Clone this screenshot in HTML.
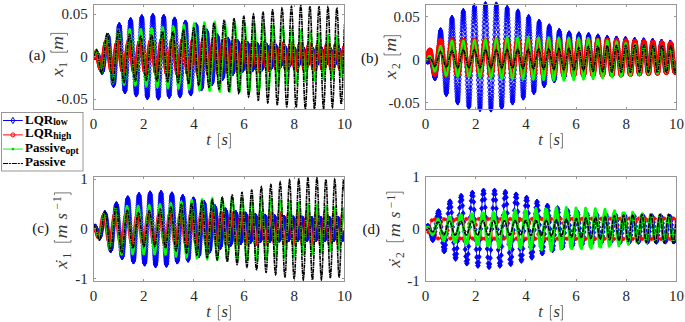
<!DOCTYPE html>
<html><head><meta charset="utf-8"><style>
html,body{margin:0;padding:0;background:#fff;width:685px;height:322px;overflow:hidden}
svg{display:block}
text{font-family:"Liberation Serif",serif}
.tk{font-size:15px;fill:#262626}
.xl{font-size:16.5px;fill:#333}
.pl{font-size:15px;fill:#111}
.yl{fill:#3a3a3a}
.br{fill:none;stroke:#666;stroke-width:0.9}
.dt{fill:#444}
.lg{font-size:13px;font-weight:bold;fill:#000}
</style></head><body>
<svg width="685" height="322" viewBox="0 0 685 322">
<defs>
<marker id="dia" markerUnits="userSpaceOnUse" markerWidth="8" markerHeight="10" refX="4" refY="5" overflow="visible"><path d="M4 1.9L5.7 5L4 8.1L2.3 5Z" fill="none" stroke="#0000ff" stroke-width="0.9"/></marker>
<marker id="diaf" markerUnits="userSpaceOnUse" markerWidth="8" markerHeight="10" refX="4" refY="5" overflow="visible"><path d="M4 2.4L6 5L4 7.6L2 5Z" fill="#0000ff" stroke="#0000ff" stroke-width="0.9"/></marker>
<marker id="cir" markerUnits="userSpaceOnUse" markerWidth="8" markerHeight="8" refX="4" refY="4" overflow="visible"><circle cx="4" cy="4" r="1.9" fill="none" stroke="#ff0000" stroke-width="1"/></marker>
<marker id="cirf" markerUnits="userSpaceOnUse" markerWidth="8" markerHeight="8" refX="4" refY="4" overflow="visible"><circle cx="4" cy="4" r="1.8" fill="#ff0000" stroke="#ff0000" stroke-width="0.6"/></marker>
<marker id="cirs" markerUnits="userSpaceOnUse" markerWidth="8" markerHeight="8" refX="4" refY="4" overflow="visible"><circle cx="4" cy="4" r="1.5" fill="none" stroke="#ff0000" stroke-width="0.8"/></marker>
</defs>
<rect width="685" height="322" fill="#fff"/>
<clipPath id="ka"><rect x="93.5" y="4.5" width="251.0" height="105.0"/></clipPath>
<clipPath id="kab"><rect x="94.0" y="-1.5" width="250.5" height="117.0"/></clipPath>
<polyline clip-path="url(#kab)" points="93.5,56.9 93.7,56.9 93.9,56.9 94.0,56.9 94.2,56.9 94.4,56.9 94.6,56.9 94.7,56.9 94.9,56.9 95.1,56.9 95.3,56.6 95.4,56.2 95.6,55.9 95.8,55.5 96.0,55.1 96.1,54.7 96.3,54.4 96.5,54.1 96.7,53.9 96.8,53.7 97.0,53.7 97.2,53.7 97.4,53.8 97.5,53.9 97.7,54.2 97.9,54.5 98.1,54.9 98.2,55.3 98.4,55.9 98.6,56.5 98.8,57.2 98.9,57.9 99.1,58.7 99.3,59.6 99.5,60.5 99.6,61.5 99.8,62.4 100.0,63.4 100.2,64.4 100.4,65.4 100.5,66.3 100.7,67.2 100.9,68.1 101.1,68.9 101.2,69.7 101.4,70.3 101.6,70.9 101.8,71.2 101.9,71.3 102.1,71.4 102.3,71.3 102.5,71.2 102.6,70.8 102.8,70.4 103.0,69.8 103.2,69.1 103.3,68.3 103.5,67.3 103.7,66.2 103.9,65.0 104.0,63.7 104.2,62.4 104.4,60.9 104.6,59.3 104.7,57.7 104.9,56.1 105.1,54.4 105.3,52.7 105.4,51.0 105.6,49.3 105.8,47.6 106.0,46.0 106.2,44.5 106.3,43.1 106.5,41.7 106.7,40.5 106.9,39.4 107.0,38.4 107.2,37.6 107.4,36.9 107.6,36.4 107.7,36.2 107.9,36.3 108.1,36.4 108.3,36.8 108.4,37.4 108.6,38.2 108.8,39.2 109.0,40.3 109.1,41.7 109.3,43.2 109.5,44.8 109.7,46.6 109.8,48.5 110.0,50.6 110.2,52.7 110.4,54.9 110.5,57.2 110.7,59.5 110.9,61.8 111.1,64.1 111.2,66.4 111.4,68.7 111.6,70.9 111.8,73.0 111.9,75.0 112.1,76.8 112.3,78.5 112.5,80.0 112.7,81.4 112.8,82.5 113.0,83.4 113.2,84.0 113.4,84.4 113.5,84.5 113.7,84.4 113.9,84.0 114.1,83.4 114.2,82.5 114.4,81.4 114.6,80.1 114.8,78.5 114.9,76.8 115.1,74.8 115.3,72.6 115.5,70.3 115.6,67.9 115.8,65.3 116.0,62.6 116.2,59.9 116.3,57.1 116.5,54.3 116.7,51.4 116.9,48.6 117.0,45.9 117.2,43.2 117.4,40.6 117.6,38.2 117.7,35.9 117.9,33.7 118.1,31.8 118.3,30.1 118.4,28.6 118.6,27.4 118.8,26.5 119.0,25.9 119.2,25.6 119.3,25.5 119.5,25.8 119.7,26.3 119.9,27.1 120.0,28.2 120.2,29.6 120.4,31.3 120.6,33.1 120.7,35.2 120.9,37.6 121.1,40.1 121.3,42.8 121.4,45.6 121.6,48.6 121.8,51.6 122.0,54.7 122.1,57.9 122.3,61.0 122.5,64.2 122.7,67.2 122.8,70.2 123.0,73.1 123.2,75.9 123.4,78.5 123.5,80.9 123.7,83.1 123.9,85.0 124.1,86.7 124.2,88.2 124.4,89.3 124.6,90.1 124.8,90.6 125.0,90.8 125.1,90.6 125.3,90.2 125.5,89.4 125.7,88.3 125.8,86.9 126.0,85.2 126.2,83.2 126.4,81.0 126.5,78.6 126.7,75.9 126.9,73.0 127.1,70.0 127.2,66.8 127.4,63.6 127.6,60.2 127.8,56.8 127.9,53.4 128.1,50.0 128.3,46.7 128.5,43.4 128.6,40.2 128.8,37.2 129.0,34.4 129.2,31.8 129.3,29.4 129.5,27.2 129.7,25.3 129.9,23.7 130.0,22.4 130.2,21.5 130.4,20.8 130.6,20.6 130.7,20.6 130.9,21.0 131.1,21.8 131.3,22.9 131.5,24.3 131.6,26.0 131.8,28.1 132.0,30.4 132.2,32.9 132.3,35.7 132.5,38.7 132.7,41.9 132.9,45.2 133.0,48.7 133.2,52.2 133.4,55.8 133.6,59.4 133.7,63.0 133.9,66.5 134.1,70.0 134.3,73.3 134.4,76.5 134.6,79.4 134.8,82.2 135.0,84.8 135.1,87.0 135.3,89.0 135.5,90.7 135.7,92.0 135.8,93.0 136.0,93.7 136.2,94.0 136.4,93.9 136.5,93.5 136.7,92.7 136.9,91.5 137.1,90.0 137.2,88.2 137.4,86.1 137.6,83.7 137.8,81.0 138.0,78.0 138.1,74.9 138.3,71.5 138.5,68.0 138.7,64.4 138.8,60.7 139.0,56.9 139.2,53.1 139.4,49.4 139.5,45.7 139.7,42.1 139.9,38.6 140.1,35.3 140.2,32.2 140.4,29.4 140.6,26.7 140.8,24.4 140.9,22.4 141.1,20.7 141.3,19.4 141.5,18.4 141.6,17.8 141.8,17.6 142.0,17.8 142.2,18.3 142.3,19.3 142.5,20.6 142.7,22.3 142.9,24.3 143.0,26.6 143.2,29.2 143.4,32.1 143.6,35.3 143.8,38.7 143.9,42.2 144.1,45.9 144.3,49.8 144.5,53.7 144.6,57.6 144.8,61.5 145.0,65.4 145.2,69.2 145.3,72.9 145.5,76.5 145.7,79.8 145.9,83.0 146.0,85.9 146.2,88.5 146.4,90.8 146.6,92.7 146.7,94.3 146.9,95.4 147.1,96.3 147.3,96.7 147.4,96.7 147.6,96.3 147.8,95.6 148.0,94.4 148.1,92.9 148.3,91.0 148.5,88.7 148.7,86.2 148.8,83.3 149.0,80.2 149.2,76.8 149.4,73.3 149.5,69.5 149.7,65.7 149.9,61.7 150.1,57.7 150.3,53.7 150.4,49.7 150.6,45.8 150.8,41.9 151.0,38.3 151.1,34.8 151.3,31.5 151.5,28.5 151.7,25.7 151.8,23.3 152.0,21.2 152.2,19.5 152.4,18.1 152.5,17.1 152.7,16.6 152.9,16.4 153.1,16.7 153.2,17.4 153.4,18.4 153.6,19.9 153.8,21.7 153.9,23.9 154.1,26.4 154.3,29.3 154.5,32.4 154.6,35.7 154.8,39.3 155.0,43.0 155.2,46.9 155.3,50.9 155.5,55.0 155.7,59.0 155.9,63.1 156.0,67.1 156.2,71.0 156.4,74.7 156.6,78.2 156.8,81.6 156.9,84.7 157.1,87.5 157.3,90.0 157.5,92.1 157.6,93.9 157.8,95.3 158.0,96.4 158.2,97.0 158.3,97.2 158.5,96.9 158.7,96.3 158.9,95.2 159.0,93.8 159.2,92.0 159.4,89.8 159.6,87.3 159.7,84.5 159.9,81.4 160.1,78.1 160.3,74.5 160.4,70.8 160.6,66.9 160.8,62.9 161.0,58.9 161.1,54.8 161.3,50.8 161.5,46.8 161.7,43.0 161.8,39.3 162.0,35.8 162.2,32.5 162.4,29.4 162.6,26.7 162.7,24.2 162.9,22.1 163.1,20.4 163.3,19.0 163.4,18.0 163.6,17.5 163.8,17.4 164.0,17.6 164.1,18.3 164.3,19.4 164.5,20.9 164.7,22.7 164.8,25.0 165.0,27.5 165.2,30.3 165.4,33.4 165.5,36.8 165.7,40.3 165.9,44.0 166.1,47.9 166.2,51.8 166.4,55.8 166.6,59.8 166.8,63.8 166.9,67.7 167.1,71.4 167.3,75.0 167.5,78.4 167.6,81.6 167.8,84.5 168.0,87.2 168.2,89.5 168.3,91.4 168.5,93.0 168.7,94.2 168.9,95.1 169.1,95.5 169.2,95.6 169.4,95.2 169.6,94.5 169.8,93.4 169.9,91.9 170.1,90.1 170.3,88.0 170.5,85.5 170.6,82.8 170.8,79.8 171.0,76.5 171.2,73.1 171.3,69.5 171.5,65.8 171.7,62.1 171.9,58.2 172.0,54.4 172.2,50.6 172.4,46.9 172.6,43.3 172.7,39.8 172.9,36.6 173.1,33.5 173.3,30.7 173.4,28.2 173.6,25.9 173.8,24.0 174.0,22.5 174.1,21.3 174.3,20.5 174.5,20.0 174.7,20.0 174.8,20.3 175.0,21.0 175.2,22.1 175.4,23.6 175.6,25.4 175.7,27.5 175.9,30.0 176.1,32.7 176.3,35.7 176.4,38.9 176.6,42.3 176.8,45.8 177.0,49.5 177.1,53.3 177.3,57.1 177.5,60.9 177.7,64.6 177.8,68.3 178.0,71.9 178.2,75.4 178.4,78.6 178.5,81.6 178.7,84.4 178.9,86.9 179.1,89.2 179.2,91.0 179.4,92.6 179.6,93.8 179.8,94.6 179.9,95.0 180.1,95.0 180.3,94.7 180.5,93.9 180.6,92.8 180.8,91.4 181.0,89.6 181.2,87.4 181.3,85.0 181.5,82.3 181.7,79.4 181.9,76.2 182.1,72.9 182.2,69.4 182.4,65.8 182.6,62.2 182.8,58.5 182.9,54.8 183.1,51.1 183.3,47.6 183.5,44.1 183.6,40.9 183.8,37.8 184.0,34.9 184.2,32.3 184.3,30.0 184.5,27.9 184.7,26.2 184.9,24.9 185.0,23.9 185.2,23.2 185.4,23.0 185.6,23.1 185.7,23.5 185.9,24.4 186.1,25.6 186.3,27.1 186.4,29.0 186.6,31.2 186.8,33.7 187.0,36.4 187.1,39.4 187.3,42.5 187.5,45.8 187.7,49.3 187.9,52.8 188.0,56.4 188.2,60.0 188.4,63.6 188.6,67.1 188.7,70.5 188.9,73.8 189.1,77.0 189.3,79.9 189.4,82.6 189.6,85.0 189.8,87.1 190.0,89.0 190.1,90.5 190.3,91.7 190.5,92.5 190.7,92.9 190.8,93.0 191.0,92.7 191.2,92.1 191.4,91.1 191.5,89.7 191.7,88.0 191.9,85.9 192.1,83.6 192.2,81.1 192.4,78.3 192.6,75.3 192.8,72.1 192.9,68.8 193.1,65.4 193.3,61.9 193.5,58.4 193.6,55.0 193.8,51.6 194.0,48.2 194.2,45.0 194.4,42.0 194.5,39.1 194.7,36.4 194.9,34.0 195.1,31.9 195.2,30.1 195.4,28.6 195.6,27.4 195.8,26.5 195.9,26.0 196.1,25.8 196.3,26.0 196.5,26.6 196.6,27.5 196.8,28.7 197.0,30.3 197.2,32.2 197.3,34.3 197.5,36.7 197.7,39.3 197.9,42.1 198.0,45.0 198.2,48.1 198.4,51.3 198.6,54.5 198.7,57.7 198.9,61.0 199.1,64.2 199.3,67.3 199.4,70.3 199.6,73.1 199.8,75.8 200.0,78.2 200.1,80.5 200.3,82.4 200.5,84.1 200.7,85.5 200.9,86.6 201.0,87.4 201.2,87.9 201.4,88.0 201.6,87.8 201.7,87.3 201.9,86.5 202.1,85.4 202.3,83.9 202.4,82.3 202.6,80.3 202.8,78.1 203.0,75.8 203.1,73.2 203.3,70.5 203.5,67.7 203.7,64.8 203.8,61.9 204.0,58.9 204.2,56.0 204.4,53.1 204.5,50.3 204.7,47.5 204.9,45.0 205.1,42.6 205.2,40.3 205.4,38.3 205.6,36.6 205.8,35.1 205.9,33.8 206.1,32.9 206.3,32.2 206.5,31.9 206.7,31.8 206.8,32.0 207.0,32.5 207.2,33.3 207.4,34.3 207.5,35.6 207.7,37.1 207.9,38.8 208.1,40.8 208.2,42.9 208.4,45.2 208.6,47.6 208.8,50.1 208.9,52.7 209.1,55.3 209.3,57.9 209.5,60.6 209.6,63.2 209.8,65.7 210.0,68.1 210.2,70.5 210.3,72.6 210.5,74.7 210.7,76.5 210.9,78.1 211.0,79.5 211.2,80.7 211.4,81.6 211.6,82.2 211.7,82.6 211.9,82.8 212.1,82.6 212.3,82.2 212.4,81.6 212.6,80.7 212.8,79.6 213.0,78.2 213.2,76.7 213.3,75.0 213.5,73.1 213.7,71.0 213.9,68.8 214.0,66.6 214.2,64.2 214.4,61.8 214.6,59.4 214.7,57.0 214.9,54.6 215.1,52.3 215.3,50.1 215.4,48.0 215.6,46.0 215.8,44.1 216.0,42.5 216.1,41.0 216.3,39.7 216.5,38.6 216.7,37.8 216.8,37.2 217.0,36.8 217.2,36.7 217.4,36.8 217.5,37.1 217.7,37.7 217.9,38.5 218.1,39.5 218.2,40.7 218.4,42.0 218.6,43.6 218.8,45.3 218.9,47.1 219.1,49.0 219.3,51.1 219.5,53.2 219.7,55.3 219.8,57.5 220.0,59.6 220.2,61.7 220.4,63.8 220.5,65.8 220.7,67.7 220.9,69.5 221.1,71.1 221.2,72.6 221.4,73.9 221.6,75.1 221.8,76.0 221.9,76.7 222.1,77.2 222.3,77.5 222.5,77.6 222.6,77.5 222.8,77.1 223.0,76.6 223.2,75.8 223.3,74.8 223.5,73.7 223.7,72.4 223.9,70.9 224.0,69.3 224.2,67.6 224.4,65.8 224.6,63.9 224.7,61.9 224.9,60.0 225.1,58.0 225.3,56.0 225.5,54.1 225.6,52.2 225.8,50.4 226.0,48.7 226.2,47.1 226.3,45.6 226.5,44.3 226.7,43.1 226.9,42.1 227.0,41.3 227.2,40.7 227.4,40.2 227.6,40.0 227.7,40.0 227.9,40.1 228.1,40.5 228.3,41.0 228.4,41.8 228.6,42.7 228.8,43.7 229.0,44.9 229.1,46.3 229.3,47.8 229.5,49.4 229.7,51.1 229.8,52.9 230.0,54.7 230.2,56.5 230.4,58.3 230.5,60.1 230.7,61.9 230.9,63.5 231.1,65.1 231.2,66.6 231.4,67.9 231.6,69.1 231.8,70.1 232.0,71.0 232.1,71.7 232.3,72.2 232.5,72.6 232.7,72.7 232.8,72.6 233.0,72.4 233.2,71.9 233.4,71.3 233.5,70.5 233.7,69.5 233.9,68.4 234.1,67.1 234.2,65.7 234.4,64.2 234.6,62.7 234.8,61.1 234.9,59.4 235.1,57.7 235.3,56.0 235.5,54.4 235.6,52.8 235.8,51.2 236.0,49.7 236.2,48.4 236.3,47.1 236.5,46.0 236.7,45.0 236.9,44.2 237.0,43.5 237.2,43.0 237.4,42.7 237.6,42.6 237.7,42.6 237.9,42.8 238.1,43.2 238.3,43.8 238.5,44.5 238.6,45.4 238.8,46.4 239.0,47.5 239.2,48.7 239.3,50.0 239.5,51.4 239.7,52.9 239.9,54.4 240.0,55.9 240.2,57.4 240.4,58.9 240.6,60.3 240.7,61.7 240.9,63.0 241.1,64.3 241.3,65.4 241.4,66.4 241.6,67.2 241.8,68.0 242.0,68.6 242.1,69.1 242.3,69.4 242.5,69.5 242.7,69.5 242.8,69.3 243.0,68.9 243.2,68.4 243.4,67.8 243.5,67.0 243.7,66.0 243.9,65.0 244.1,63.8 244.3,62.5 244.4,61.2 244.6,59.8 244.8,58.4 245.0,57.0 245.1,55.5 245.3,54.1 245.5,52.7 245.7,51.4 245.8,50.2 246.0,49.0 246.2,47.9 246.4,47.0 246.5,46.1 246.7,45.4 246.9,44.9 247.1,44.5 247.2,44.3 247.4,44.2 247.6,44.3 247.8,44.6 247.9,45.0 248.1,45.5 248.3,46.2 248.5,47.1 248.6,48.0 248.8,49.1 249.0,50.3 249.2,51.5 249.3,52.8 249.5,54.2 249.7,55.6 249.9,57.0 250.0,58.4 250.2,59.7 250.4,61.1 250.6,62.4 250.8,63.6 250.9,64.7 251.1,65.7 251.3,66.6 251.5,67.3 251.6,68.0 251.8,68.5 252.0,68.8 252.2,69.0 252.3,69.0 252.5,68.8 252.7,68.5 252.9,68.1 253.0,67.5 253.2,66.8 253.4,65.9 253.6,64.9 253.7,63.9 253.9,62.7 254.1,61.4 254.3,60.2 254.4,58.8 254.6,57.5 254.8,56.1 255.0,54.7 255.1,53.4 255.3,52.1 255.5,50.9 255.7,49.8 255.8,48.8 256.0,47.9 256.2,47.1 256.4,46.4 256.5,45.9 256.7,45.5 256.9,45.2 257.1,45.2 257.3,45.3 257.4,45.5 257.6,45.9 257.8,46.5 258.0,47.2 258.1,48.1 258.3,49.1 258.5,50.1 258.7,51.3 258.8,52.6 259.0,53.9 259.2,55.2 259.4,56.6 259.5,58.0 259.7,59.3 259.9,60.6 260.1,61.9 260.2,63.1 260.4,64.2 260.6,65.2 260.8,66.1 260.9,66.8 261.1,67.4 261.3,67.9 261.5,68.2 261.6,68.3 261.8,68.3 262.0,68.1 262.2,67.8 262.3,67.3 262.5,66.7 262.7,65.9 262.9,65.0 263.1,64.0 263.2,62.9 263.4,61.7 263.6,60.4 263.8,59.1 263.9,57.8 264.1,56.5 264.3,55.1 264.5,53.8 264.6,52.6 264.8,51.4 265.0,50.3 265.2,49.2 265.3,48.3 265.5,47.6 265.7,46.9 265.9,46.4 266.0,46.1 266.2,45.9 266.4,45.8 266.6,46.0 266.7,46.2 266.9,46.6 267.1,47.2 267.3,47.9 267.4,48.8 267.6,49.7 267.8,50.7 268.0,51.9 268.1,53.1 268.3,54.3 268.5,55.6 268.7,56.9 268.8,58.2 269.0,59.5 269.2,60.7 269.4,61.8 269.6,62.9 269.7,63.9 269.9,64.8 270.1,65.5 270.3,66.2 270.4,66.7 270.6,67.0 270.8,67.2 271.0,67.2 271.1,67.1 271.3,66.9 271.5,66.5 271.7,65.9 271.8,65.3 272.0,64.5 272.2,63.6 272.4,62.6 272.5,61.5 272.7,60.4 272.9,59.2 273.1,58.0 273.2,56.7 273.4,55.5 273.6,54.3 273.8,53.1 273.9,52.0 274.1,51.0 274.3,50.0 274.5,49.2 274.6,48.4 274.8,47.8 275.0,47.3 275.2,46.9 275.3,46.7 275.5,46.7 275.7,46.7 275.9,46.9 276.1,47.3 276.2,47.8 276.4,48.4 276.6,49.1 276.8,49.9 276.9,50.8 277.1,51.8 277.3,52.9 277.5,54.0 277.6,55.1 277.8,56.3 278.0,57.4 278.2,58.5 278.3,59.6 278.5,60.6 278.7,61.6 278.9,62.4 279.0,63.2 279.2,63.9 279.4,64.5 279.6,64.9 279.7,65.3 279.9,65.5 280.1,65.5 280.3,65.5 280.4,65.3 280.6,64.9 280.8,64.5 281.0,63.9 281.1,63.2 281.3,62.4 281.5,61.5 281.7,60.6 281.9,59.6 282.0,58.5 282.2,57.4 282.4,56.3 282.6,55.2 282.7,54.2 282.9,53.1 283.1,52.1 283.3,51.2 283.4,50.4 283.6,49.6 283.8,49.0 284.0,48.4 284.1,48.0 284.3,47.7 284.5,47.5 284.7,47.5 284.8,47.6 285.0,47.8 285.2,48.2 285.4,48.7 285.5,49.2 285.7,49.9 285.9,50.7 286.1,51.6 286.2,52.5 286.4,53.5 286.6,54.5 286.8,55.6 286.9,56.7 287.1,57.7 287.3,58.8 287.5,59.7 287.6,60.7 287.8,61.6 288.0,62.4 288.2,63.1 288.4,63.7 288.5,64.2 288.7,64.5 288.9,64.8 289.1,64.9 289.2,64.9 289.4,64.8 289.6,64.5 289.8,64.2 289.9,63.7 290.1,63.1 290.3,62.4 290.5,61.6 290.6,60.8 290.8,59.8 291.0,58.9 291.2,57.9 291.3,56.9 291.5,55.8 291.7,54.8 291.9,53.9 292.0,52.9 292.2,52.0 292.4,51.2 292.6,50.5 292.7,49.9 292.9,49.3 293.1,48.9 293.3,48.6 293.4,48.4 293.6,48.3 293.8,48.4 294.0,48.6 294.1,48.9 294.3,49.3 294.5,49.8 294.7,50.4 294.9,51.1 295.0,51.8 295.2,52.6 295.4,53.5 295.6,54.4 295.7,55.4 295.9,56.4 296.1,57.3 296.3,58.3 296.4,59.2 296.6,60.1 296.8,61.0 297.0,61.7 297.1,62.4 297.3,63.1 297.5,63.6 297.7,64.0 297.8,64.3 298.0,64.5 298.2,64.6 298.4,64.5 298.5,64.4 298.7,64.1 298.9,63.7 299.1,63.2 299.2,62.6 299.4,62.0 299.6,61.2 299.8,60.4 299.9,59.5 300.1,58.6 300.3,57.6 300.5,56.7 300.7,55.7 300.8,54.7 301.0,53.8 301.2,52.9 301.4,52.1 301.5,51.3 301.7,50.6 301.9,50.0 302.1,49.5 302.2,49.1 302.4,48.8 302.6,48.6 302.8,48.6 302.9,48.6 303.1,48.8 303.3,49.1 303.5,49.5 303.6,50.0 303.8,50.6 304.0,51.2 304.2,52.0 304.3,52.8 304.5,53.7 304.7,54.6 304.9,55.6 305.0,56.5 305.2,57.5 305.4,58.5 305.6,59.4 305.7,60.3 305.9,61.1 306.1,61.8 306.3,62.5 306.4,63.1 306.6,63.6 306.8,64.0 307.0,64.3 307.2,64.4 307.3,64.5 307.5,64.4 307.7,64.2 307.9,63.9 308.0,63.5 308.2,63.0 308.4,62.4 308.6,61.7 308.7,60.9 308.9,60.1 309.1,59.2 309.3,58.3 309.4,57.3 309.6,56.4 309.8,55.4 310.0,54.5 310.1,53.6 310.3,52.7 310.5,51.9 310.7,51.2 310.8,50.5 311.0,49.9 311.2,49.5 311.4,49.1 311.5,48.9 311.7,48.8 311.9,48.8 312.1,48.9 312.2,49.1 312.4,49.4 312.6,49.9 312.8,50.4 312.9,51.1 313.1,51.8 313.3,52.6 313.5,53.4 313.7,54.3 313.8,55.3 314.0,56.2 314.2,57.2 314.4,58.1 314.5,59.0 314.7,59.9 314.9,60.8 315.1,61.6 315.2,62.3 315.4,62.9 315.6,63.4 315.8,63.8 315.9,64.1 316.1,64.3 316.3,64.4 316.5,64.3 316.6,64.2 316.8,63.9 317.0,63.5 317.2,63.0 317.3,62.5 317.5,61.8 317.7,61.0 317.9,60.2 318.0,59.3 318.2,58.4 318.4,57.5 318.6,56.5 318.7,55.6 318.9,54.7 319.1,53.7 319.3,52.9 319.5,52.1 319.6,51.4 319.8,50.7 320.0,50.1 320.2,49.7 320.3,49.3 320.5,49.1 320.7,48.9 320.9,48.9 321.0,49.0 321.2,49.3 321.4,49.6 321.6,50.0 321.7,50.6 321.9,51.2 322.1,51.9 322.3,52.7 322.4,53.6 322.6,54.5 322.8,55.4 323.0,56.4 323.1,57.3 323.3,58.2 323.5,59.2 323.7,60.0 323.8,60.9 324.0,61.6 324.2,62.3 324.4,62.9 324.5,63.4 324.7,63.8 324.9,64.1 325.1,64.2 325.2,64.3 325.4,64.2 325.6,64.0 325.8,63.7 326.0,63.3 326.1,62.8 326.3,62.2 326.5,61.5 326.7,60.8 326.8,59.9 327.0,59.1 327.2,58.2 327.4,57.2 327.5,56.3 327.7,55.3 327.9,54.4 328.1,53.5 328.2,52.7 328.4,51.9 328.6,51.2 328.8,50.6 328.9,50.1 329.1,49.7 329.3,49.4 329.5,49.2 329.6,49.1 329.8,49.1 330.0,49.3 330.2,49.6 330.3,50.0 330.5,50.5 330.7,51.0 330.9,51.7 331.0,52.5 331.2,53.3 331.4,54.1 331.6,55.1 331.7,56.0 331.9,56.9 332.1,57.9 332.3,58.8 332.5,59.7 332.6,60.5 332.8,61.3 333.0,62.0 333.2,62.6 333.3,63.2 333.5,63.6 333.7,63.9 333.9,64.1 334.0,64.2 334.2,64.2 334.4,64.0 334.6,63.8 334.7,63.4 334.9,62.9 335.1,62.3 335.3,61.7 335.4,60.9 335.6,60.1 335.8,59.3 336.0,58.4 336.1,57.4 336.3,56.5 336.5,55.6 336.7,54.7 336.8,53.8 337.0,52.9 337.2,52.2 337.4,51.5 337.5,50.8 337.7,50.3 337.9,49.9 338.1,49.6 338.3,49.4 338.4,49.3 338.6,49.3 338.8,49.5 339.0,49.7 339.1,50.1 339.3,50.6 339.5,51.2 339.7,51.8 339.8,52.6 340.0,53.4 340.2,54.2 340.4,55.1 340.5,56.1 340.7,57.0 340.9,57.9 341.1,58.8 341.2,59.7 341.4,60.5 341.6,61.3 341.8,62.0 341.9,62.6 342.1,63.1 342.3,63.5 342.5,63.8 342.6,64.0 342.8,64.1 343.0,64.1 343.2,63.9 343.3,63.6 343.5,63.3 343.7,62.8 343.9,62.2 344.0,61.5 344.2,60.8 344.4,59.9" fill="none" stroke="#0000ff" stroke-width="0.8" marker-mid="url(#dia)"/>
<g clip-path="url(#ka)">
<polyline points="93.5,56.9 93.6,56.8 93.8,56.8 93.9,56.7 94.0,56.6 94.1,56.6 94.3,56.5 94.4,56.4 94.5,56.3 94.6,55.9 94.8,55.5 94.9,55.1 95.0,54.8 95.1,54.4 95.3,54.1 95.4,53.8 95.5,53.5 95.6,53.2 95.8,53.0 95.9,52.8 96.0,52.6 96.1,52.5 96.3,52.4 96.4,52.4 96.5,52.4 96.6,52.7 96.8,53.0 96.9,53.4 97.0,53.8 97.1,54.2 97.3,54.6 97.4,55.1 97.5,55.6 97.6,56.1 97.8,56.7 97.9,57.2 98.0,57.8 98.1,58.4 98.3,59.0 98.4,59.6 98.5,60.3 98.6,60.9 98.8,61.5 98.9,62.2 99.0,62.8 99.1,63.4 99.3,64.0 99.4,64.6 99.5,65.2 99.6,65.7 99.8,66.2 99.9,66.7 100.0,67.1 100.2,67.5 100.3,67.9 100.4,68.2 100.5,68.5 100.7,68.7 100.8,68.9 100.9,69.0 101.0,69.0 101.2,69.0 101.3,69.0 101.4,68.9 101.5,68.7 101.7,68.2 101.8,67.7 101.9,67.2 102.0,66.6 102.2,65.9 102.3,65.2 102.4,64.5 102.5,63.7 102.7,62.9 102.8,62.1 102.9,61.2 103.0,60.3 103.2,59.4 103.3,58.5 103.4,57.6 103.5,56.6 103.7,55.7 103.8,54.8 103.9,53.8 104.0,52.9 104.2,52.0 104.3,51.1 104.4,50.2 104.5,49.4 104.7,48.5 104.8,47.7 104.9,47.0 105.0,46.3 105.2,45.6 105.3,45.0 105.4,44.4 105.5,43.9 105.7,43.5 105.8,43.1 105.9,42.7 106.0,42.5 106.2,42.3 106.3,42.1 106.4,42.0 106.6,42.0 106.7,42.1 106.8,42.2 106.9,42.4 107.1,42.7 107.2,43.0 107.3,43.4 107.4,43.8 107.6,44.3 107.7,45.0 107.8,45.7 107.9,46.5 108.1,47.3 108.2,48.2 108.3,49.1 108.4,50.0 108.6,51.0 108.7,51.9 108.8,52.9 108.9,53.9 109.1,55.0 109.2,56.0 109.3,57.0 109.4,58.0 109.6,59.0 109.7,60.0 109.8,61.0 109.9,61.9 110.1,62.9 110.2,63.7 110.3,64.6 110.4,65.4 110.6,66.2 110.7,66.9 110.8,67.6 110.9,68.2 111.1,68.8 111.2,69.3 111.3,69.7 111.4,70.1 111.6,70.4 111.7,70.6 111.8,70.8 111.9,70.9 112.1,71.0 112.2,70.9 112.3,70.8 112.5,70.7 112.6,70.4 112.7,70.1 112.8,69.8 113.0,69.4 113.1,68.9 113.2,68.3 113.3,67.7 113.5,67.1 113.6,66.4 113.7,65.6 113.8,64.8 114.0,64.0 114.1,63.1 114.2,62.2 114.3,61.3 114.5,60.4 114.6,59.4 114.7,58.4 114.8,57.4 115.0,56.5 115.1,55.5 115.2,54.5 115.3,53.5 115.5,52.6 115.6,51.6 115.7,50.7 115.8,49.9 116.0,49.0 116.1,48.2 116.2,47.4 116.3,46.7 116.5,46.1 116.6,45.4 116.7,44.9 116.8,44.4 117.0,43.9 117.1,43.5 117.2,43.2 117.3,42.9 117.5,42.8 117.6,42.6 117.7,42.6 117.8,42.6 118.0,42.7 118.1,42.8 118.2,43.1 118.3,43.3 118.5,43.7 118.6,44.1 118.7,44.6 118.9,45.1 119.0,45.6 119.1,46.3 119.2,46.9 119.4,47.7 119.5,48.4 119.6,49.3 119.7,50.1 119.9,51.0 120.0,51.9 120.1,52.9 120.2,53.8 120.4,54.8 120.5,55.8 120.6,56.8 120.7,57.8 120.9,58.8 121.0,59.8 121.1,60.7 121.2,61.7 121.4,62.6 121.5,63.5 121.6,64.4 121.7,65.3 121.9,66.1 122.0,66.8 122.1,67.5 122.2,68.2 122.4,68.8 122.5,69.4 122.6,69.8 122.7,70.3 122.9,70.6 123.0,70.9 123.1,71.2 123.2,71.3 123.4,71.4 123.5,71.4 123.6,71.4 123.7,71.3 123.9,71.1 124.0,70.8 124.1,70.5 124.2,70.1 124.4,69.7 124.5,69.1 124.6,68.6 124.7,67.9 124.9,67.2 125.0,66.5 125.1,65.7 125.3,64.9 125.4,64.0 125.5,63.1 125.6,62.2 125.8,61.2 125.9,60.2 126.0,59.2 126.1,58.2 126.3,57.2 126.4,56.1 126.5,55.1 126.6,54.1 126.8,53.1 126.9,52.1 127.0,51.2 127.1,50.2 127.3,49.3 127.4,48.5 127.5,47.6 127.6,46.9 127.8,46.1 127.9,45.5 128.0,44.8 128.1,44.3 128.3,43.8 128.4,43.4 128.5,43.0 128.6,42.7 128.8,42.5 128.9,42.3 129.0,42.2 129.1,42.2 129.3,42.3 129.4,42.4 129.5,42.6 129.6,42.9 129.8,43.2 129.9,43.6 130.0,44.1 130.1,44.7 130.3,45.3 130.4,45.9 130.5,46.6 130.6,47.4 130.8,48.2 130.9,49.1 131.0,50.0 131.2,50.9 131.3,51.9 131.4,52.9 131.5,53.9 131.7,55.0 131.8,56.0 131.9,57.0 132.0,58.1 132.2,59.1 132.3,60.2 132.4,61.2 132.5,62.2 132.7,63.2 132.8,64.1 132.9,65.0 133.0,65.9 133.2,66.7 133.3,67.5 133.4,68.2 133.5,68.9 133.7,69.5 133.8,70.0 133.9,70.5 134.0,70.9 134.2,71.3 134.3,71.5 134.4,71.7 134.5,71.9 134.7,71.9 134.8,71.9 134.9,71.8 135.0,71.6 135.2,71.4 135.3,71.1 135.4,70.7 135.5,70.2 135.7,69.7 135.8,69.1 135.9,68.4 136.0,67.7 136.2,67.0 136.3,66.1 136.4,65.3 136.5,64.4 136.7,63.4 136.8,62.4 136.9,61.4 137.0,60.4 137.2,59.3 137.3,58.3 137.4,57.2 137.6,56.1 137.7,55.1 137.8,54.0 137.9,52.9 138.1,51.9 138.2,50.9 138.3,49.9 138.4,49.0 138.6,48.1 138.7,47.2 138.8,46.4 138.9,45.7 139.1,45.0 139.2,44.3 139.3,43.7 139.4,43.2 139.6,42.8 139.7,42.4 139.8,42.1 139.9,41.9 140.1,41.7 140.2,41.7 140.3,41.7 140.4,41.8 140.6,41.9 140.7,42.2 140.8,42.5 140.9,42.9 141.1,43.3 141.2,43.9 141.3,44.4 141.4,45.1 141.6,45.8 141.7,46.6 141.8,47.4 141.9,48.3 142.1,49.2 142.2,50.2 142.3,51.2 142.4,52.2 142.6,53.3 142.7,54.4 142.8,55.5 142.9,56.6 143.1,57.7 143.2,58.7 143.3,59.8 143.4,60.9 143.6,62.0 143.7,63.0 143.8,64.0 144.0,65.0 144.1,65.9 144.2,66.8 144.3,67.6 144.5,68.4 144.6,69.1 144.7,69.7 144.8,70.3 145.0,70.9 145.1,71.3 145.2,71.7 145.3,72.0 145.5,72.2 145.6,72.4 145.7,72.4 145.8,72.4 146.0,72.3 146.1,72.1 146.2,71.9 146.3,71.6 146.5,71.1 146.6,70.7 146.7,70.1 146.8,69.5 147.0,68.8 147.1,68.1 147.2,67.2 147.3,66.4 147.5,65.5 147.6,64.5 147.7,63.5 147.8,62.5 148.0,61.4 148.1,60.3 148.2,59.2 148.3,58.1 148.5,57.0 148.6,55.8 148.7,54.7 148.8,53.6 149.0,52.5 149.1,51.4 149.2,50.4 149.3,49.3 149.5,48.4 149.6,47.4 149.7,46.5 149.8,45.7 150.0,44.9 150.1,44.2 150.2,43.6 150.4,43.0 150.5,42.5 150.6,42.0 150.7,41.7 150.9,41.4 151.0,41.2 151.1,41.1 151.2,41.1 151.4,41.1 151.5,41.2 151.6,41.4 151.7,41.7 151.9,42.1 152.0,42.6 152.1,43.1 152.2,43.7 152.4,44.4 152.5,45.1 152.6,45.9 152.7,46.8 152.9,47.7 153.0,48.6 153.1,49.7 153.2,50.7 153.4,51.8 153.5,52.9 153.6,54.0 153.7,55.2 153.9,56.3 154.0,57.5 154.1,58.6 154.2,59.8 154.4,60.9 154.5,62.1 154.6,63.1 154.7,64.2 154.9,65.2 155.0,66.2 155.1,67.1 155.2,68.0 155.4,68.8 155.5,69.6 155.6,70.3 155.7,70.9 155.9,71.5 156.0,71.9 156.1,72.3 156.2,72.6 156.4,72.9 156.5,73.0 156.6,73.1 156.8,73.0 156.9,72.9 157.0,72.7 157.1,72.5 157.3,72.1 157.4,71.6 157.5,71.1 157.6,70.5 157.8,69.8 157.9,69.1 158.0,68.3 158.1,67.4 158.3,66.5 158.4,65.5 158.5,64.5 158.6,63.4 158.8,62.3 158.9,61.2 159.0,60.0 159.1,58.8 159.3,57.7 159.4,56.5 159.5,55.3 159.6,54.1 159.8,52.9 159.9,51.8 160.0,50.6 160.1,49.5 160.3,48.5 160.4,47.5 160.5,46.5 160.6,45.6 160.8,44.8 160.9,44.0 161.0,43.3 161.1,42.6 161.3,42.1 161.4,41.6 161.5,41.2 161.6,40.8 161.8,40.6 161.9,40.5 162.0,40.4 162.1,40.4 162.3,40.6 162.4,40.8 162.5,41.0 162.7,41.4 162.8,41.9 162.9,42.4 163.0,43.1 163.2,43.7 163.3,44.5 163.4,45.4 163.5,46.3 163.7,47.2 163.8,48.2 163.9,49.3 164.0,50.4 164.2,51.5 164.3,52.7 164.4,53.9 164.5,55.1 164.7,56.3 164.8,57.5 164.9,58.8 165.0,60.0 165.2,61.2 165.3,62.3 165.4,63.5 165.5,64.6 165.7,65.7 165.8,66.7 165.9,67.7 166.0,68.6 166.2,69.5 166.3,70.2 166.4,71.0 166.5,71.6 166.7,72.2 166.8,72.6 166.9,73.0 167.0,73.3 167.2,73.6 167.3,73.7 167.4,73.7 167.5,73.7 167.7,73.5 167.8,73.3 167.9,72.9 168.0,72.5 168.2,72.0 168.3,71.4 168.4,70.8 168.5,70.0 168.7,69.2 168.8,68.3 168.9,67.4 169.1,66.4 169.2,65.3 169.3,64.2 169.4,63.1 169.6,61.9 169.7,60.7 169.8,59.5 169.9,58.2 170.1,57.0 170.2,55.7 170.3,54.5 170.4,53.2 170.6,52.0 170.7,50.8 170.8,49.7 170.9,48.5 171.1,47.5 171.2,46.5 171.3,45.5 171.4,44.6 171.6,43.8 171.7,43.0 171.8,42.3 171.9,41.7 172.1,41.2 172.2,40.8 172.3,40.4 172.4,40.2 172.6,40.0 172.7,39.9 172.8,39.9 172.9,40.1 173.1,40.3 173.2,40.6 173.3,41.0 173.4,41.5 173.6,42.0 173.7,42.7 173.8,43.4 173.9,44.2 174.1,45.1 174.2,46.0 174.3,47.0 174.4,48.1 174.6,49.2 174.7,50.3 174.8,51.5 174.9,52.7 175.1,54.0 175.2,55.2 175.3,56.5 175.5,57.8 175.6,59.0 175.7,60.3 175.8,61.5 176.0,62.7 176.1,63.9 176.2,65.0 176.3,66.1 176.5,67.2 176.6,68.2 176.7,69.1 176.8,70.0 177.0,70.7 177.1,71.4 177.2,72.1 177.3,72.6 177.5,73.1 177.6,73.4 177.7,73.7 177.8,73.9 178.0,74.0 178.1,74.0 178.2,73.9 178.3,73.7 178.5,73.4 178.6,73.0 178.7,72.5 178.8,71.9 179.0,71.3 179.1,70.6 179.2,69.7 179.3,68.9 179.5,67.9 179.6,66.9 179.7,65.8 179.8,64.7 180.0,63.6 180.1,62.4 180.2,61.1 180.3,59.9 180.5,58.6 180.6,57.3 180.7,56.0 180.8,54.8 181.0,53.5 181.1,52.2 181.2,51.0 181.3,49.8 181.5,48.7 181.6,47.6 181.7,46.5 181.9,45.5 182.0,44.6 182.1,43.7 182.2,42.9 182.4,42.2 182.5,41.6 182.6,41.0 182.7,40.6 182.9,40.2 183.0,40.0 183.1,39.8 183.2,39.7 183.4,39.7 183.5,39.9 183.6,40.1 183.7,40.4 183.9,40.8 184.0,41.3 184.1,41.9 184.2,42.6 184.4,43.3 184.5,44.1 184.6,45.0 184.7,46.0 184.9,47.0 185.0,48.1 185.1,49.3 185.2,50.5 185.4,51.7 185.5,52.9 185.6,54.2 185.7,55.5 185.9,56.8 186.0,58.1 186.1,59.4 186.2,60.7 186.4,61.9 186.5,63.2 186.6,64.4 186.7,65.5 186.9,66.6 187.0,67.7 187.1,68.7 187.2,69.6 187.4,70.4 187.5,71.2 187.6,71.9 187.8,72.5 187.9,73.0 188.0,73.5 188.1,73.8 188.3,74.0 188.4,74.2 188.5,74.2 188.6,74.1 188.8,74.0 188.9,73.7 189.0,73.4 189.1,72.9 189.3,72.4 189.4,71.7 189.5,71.0 189.6,70.2 189.8,69.3 189.9,68.4 190.0,67.4 190.1,66.3 190.3,65.2 190.4,64.0 190.5,62.8 190.6,61.5 190.8,60.2 190.9,58.9 191.0,57.6 191.1,56.3 191.3,55.0 191.4,53.7 191.5,52.4 191.6,51.1 191.8,49.9 191.9,48.7 192.0,47.6 192.1,46.5 192.3,45.5 192.4,44.5 192.5,43.6 192.6,42.8 192.8,42.1 192.9,41.4 193.0,40.9 193.1,40.4 193.3,40.0 193.4,39.8 193.5,39.6 193.6,39.5 193.8,39.5 193.9,39.7 194.0,39.9 194.2,40.2 194.3,40.7 194.4,41.2 194.5,41.8 194.7,42.5 194.8,43.3 194.9,44.2 195.0,45.1 195.2,46.1 195.3,47.2 195.4,48.3 195.5,49.5 195.7,50.7 195.8,52.0 195.9,53.3 196.0,54.6 196.2,55.9 196.3,57.2 196.4,58.5 196.5,59.9 196.7,61.2 196.8,62.4 196.9,63.7 197.0,64.9 197.2,66.0 197.3,67.1 197.4,68.2 197.5,69.1 197.7,70.0 197.8,70.9 197.9,71.6 198.0,72.3 198.2,72.8 198.3,73.3 198.4,73.7 198.5,73.9 198.7,74.1 198.8,74.2 198.9,74.2 199.0,74.0 199.2,73.8 199.3,73.5 199.4,73.1 199.5,72.5 199.7,71.9 199.8,71.2 199.9,70.4 200.0,69.6 200.2,68.6 200.3,67.6 200.4,66.6 200.6,65.4 200.7,64.3 200.8,63.0 200.9,61.8 201.1,60.5 201.2,59.2 201.3,57.9 201.4,56.5 201.6,55.2 201.7,53.9 201.8,52.6 201.9,51.3 202.1,50.1 202.2,48.9 202.3,47.7 202.4,46.6 202.6,45.6 202.7,44.6 202.8,43.8 202.9,42.9 203.1,42.2 203.2,41.6 203.3,41.0 203.4,40.5 203.6,40.2 203.7,39.9 203.8,39.8 203.9,39.7 204.1,39.7 204.2,39.9 204.3,40.1 204.4,40.5 204.6,40.9 204.7,41.5 204.8,42.1 204.9,42.8 205.1,43.6 205.2,44.5 205.3,45.5 205.4,46.5 205.6,47.6 205.7,48.7 205.8,49.9 205.9,51.1 206.1,52.4 206.2,53.7 206.3,55.0 206.4,56.3 206.6,57.7 206.7,59.0 206.8,60.3 207.0,61.6 207.1,62.8 207.2,64.1 207.3,65.2 207.5,66.4 207.6,67.5 207.7,68.5 207.8,69.4 208.0,70.3 208.1,71.1 208.2,71.8 208.3,72.4 208.5,72.9 208.6,73.3 208.7,73.6 208.8,73.9 209.0,74.0 209.1,74.0 209.2,73.9 209.3,73.7 209.5,73.4 209.6,73.0 209.7,72.6 209.8,72.0 210.0,71.3 210.1,70.5 210.2,69.7 210.3,68.8 210.5,67.8 210.6,66.7 210.7,65.6 210.8,64.5 211.0,63.2 211.1,62.0 211.2,60.7 211.3,59.4 211.5,58.1 211.6,56.8 211.7,55.4 211.8,54.1 212.0,52.8 212.1,51.5 212.2,50.3 212.3,49.1 212.5,47.9 212.6,46.8 212.7,45.8 212.9,44.8 213.0,43.9 213.1,43.1 213.2,42.4 213.4,41.7 213.5,41.2 213.6,40.7 213.7,40.4 213.9,40.1 214.0,40.0 214.1,39.9 214.2,40.0 214.4,40.1 214.5,40.4 214.6,40.7 214.7,41.2 214.9,41.7 215.0,42.4 215.1,43.1 215.2,43.9 215.4,44.8 215.5,45.8 215.6,46.8 215.7,47.9 215.9,49.1 216.0,50.3 216.1,51.5 216.2,52.8 216.4,54.1 216.5,55.4 216.6,56.7 216.7,58.1 216.9,59.4 217.0,60.7 217.1,62.0 217.2,63.2 217.4,64.4 217.5,65.6 217.6,66.7 217.7,67.8 217.9,68.7 218.0,69.6 218.1,70.5 218.2,71.2 218.4,71.9 218.5,72.5 218.6,72.9 218.7,73.3 218.9,73.6 219.0,73.7 219.1,73.8 219.3,73.7 219.4,73.6 219.5,73.3 219.6,73.0 219.8,72.5 219.9,72.0 220.0,71.3 220.1,70.6 220.3,69.8 220.4,68.9 220.5,67.9 220.6,66.9 220.8,65.8 220.9,64.6 221.0,63.4 221.1,62.2 221.3,60.9 221.4,59.7 221.5,58.4 221.6,57.0 221.8,55.7 221.9,54.4 222.0,53.1 222.1,51.9 222.3,50.6 222.4,49.4 222.5,48.3 222.6,47.2 222.8,46.2 222.9,45.2 223.0,44.3 223.1,43.5 223.3,42.8 223.4,42.2 223.5,41.6 223.6,41.2 223.8,40.8 223.9,40.6 224.0,40.5 224.1,40.4 224.3,40.5 224.4,40.6 224.5,40.9 224.6,41.3 224.8,41.7 224.9,42.3 225.0,42.9 225.1,43.7 225.3,44.5 225.4,45.4 225.5,46.3 225.7,47.4 225.8,48.4 225.9,49.6 226.0,50.8 226.2,52.0 226.3,53.2 226.4,54.5 226.5,55.8 226.7,57.1 226.8,58.4 226.9,59.6 227.0,60.9 227.2,62.1 227.3,63.3 227.4,64.5 227.5,65.6 227.7,66.7 227.8,67.6 227.9,68.6 228.0,69.4 228.2,70.2 228.3,70.9 228.4,71.5 228.5,72.0 228.7,72.4 228.8,72.7 228.9,72.9 229.0,73.0 229.2,73.0 229.3,72.9 229.4,72.7 229.5,72.4 229.7,72.0 229.8,71.5 229.9,70.9 230.0,70.3 230.2,69.5 230.3,68.7 230.4,67.8 230.5,66.8 230.7,65.8 230.8,64.7 230.9,63.5 231.0,62.4 231.2,61.1 231.3,59.9 231.4,58.7 231.6,57.4 231.7,56.1 231.8,54.9 231.9,53.6 232.1,52.4 232.2,51.2 232.3,50.0 232.4,48.9 232.6,47.9 232.7,46.9 232.8,45.9 232.9,45.1 233.1,44.3 233.2,43.6 233.3,43.0 233.4,42.4 233.6,42.0 233.7,41.6 233.8,41.4 233.9,41.2 234.1,41.2 234.2,41.3 234.3,41.4 234.4,41.7 234.6,42.0 234.7,42.5 234.8,43.0 234.9,43.6 235.1,44.3 235.2,45.1 235.3,46.0 235.4,46.9 235.6,47.9 235.7,49.0 235.8,50.1 235.9,51.2 236.1,52.4 236.2,53.6 236.3,54.8 236.4,56.0 236.6,57.3 236.7,58.5 236.8,59.8 236.9,61.0 237.1,62.1 237.2,63.3 237.3,64.4 237.4,65.4 237.6,66.4 237.7,67.4 237.8,68.2 238.0,69.0 238.1,69.7 238.2,70.4 238.3,70.9 238.5,71.4 238.6,71.7 238.7,72.0 238.8,72.1 239.0,72.2 239.1,72.2 239.2,72.0 239.3,71.8 239.5,71.5 239.6,71.1 239.7,70.6 239.8,70.0 240.0,69.3 240.1,68.5 240.2,67.7 240.3,66.8 240.5,65.8 240.6,64.8 240.7,63.7 240.8,62.6 241.0,61.4 241.1,60.2 241.2,59.0 241.3,57.8 241.5,56.6 241.6,55.4 241.7,54.2 241.8,53.0 242.0,51.9 242.1,50.7 242.2,49.6 242.3,48.6 242.5,47.6 242.6,46.7 242.7,45.9 242.8,45.1 243.0,44.4 243.1,43.8 243.2,43.2 243.3,42.8 243.5,42.5 243.6,42.2 243.7,42.0 243.8,42.0 244.0,42.0 244.1,42.2 244.2,42.4 244.4,42.7 244.5,43.1 244.6,43.6 244.7,44.2 244.9,44.9 245.0,45.7 245.1,46.5 245.2,47.4 245.4,48.3 245.5,49.3 245.6,50.4 245.7,51.5 245.9,52.6 246.0,53.8 246.1,55.0 246.2,56.1 246.4,57.3 246.5,58.5 246.6,59.7 246.7,60.9 246.9,62.0 247.0,63.1 247.1,64.1 247.2,65.1 247.4,66.1 247.5,67.0 247.6,67.8 247.7,68.5 247.9,69.2 248.0,69.8 248.1,70.3 248.2,70.7 248.4,71.0 248.5,71.3 248.6,71.4 248.7,71.4 248.9,71.4 249.0,71.2 249.1,71.0 249.2,70.6 249.4,70.2 249.5,69.7 249.6,69.1 249.7,68.4 249.9,67.6 250.0,66.8 250.1,65.9 250.2,65.0 250.4,63.9 250.5,62.9 250.6,61.8 250.8,60.7 250.9,59.6 251.0,58.4 251.1,57.2 251.3,56.1 251.4,54.9 251.5,53.8 251.6,52.6 251.8,51.5 251.9,50.5 252.0,49.5 252.1,48.5 252.3,47.6 252.4,46.8 252.5,46.0 252.6,45.3 252.8,44.7 252.9,44.1 253.0,43.7 253.1,43.3 253.3,43.0 253.4,42.8 253.5,42.8 253.6,42.8 253.8,42.9 253.9,43.1 254.0,43.4 254.1,43.7 254.3,44.2 254.4,44.7 254.5,45.4 254.6,46.1 254.8,46.9 254.9,47.7 255.0,48.6 255.1,49.6 255.3,50.6 255.4,51.6 255.5,52.7 255.6,53.8 255.8,54.9 255.9,56.1 256.0,57.2 256.1,58.4 256.3,59.5 256.4,60.6 256.5,61.7 256.6,62.7 256.8,63.7 256.9,64.7 257.0,65.6 257.2,66.5 257.3,67.2 257.4,68.0 257.5,68.6 257.7,69.1 257.8,69.6 257.9,70.0 258.0,70.3 258.2,70.5 258.3,70.6 258.4,70.7 258.5,70.6 258.7,70.4 258.8,70.2 258.9,69.8 259.0,69.4 259.2,68.9 259.3,68.3 259.4,67.6 259.5,66.9 259.7,66.1 259.8,65.2 259.9,64.3 260.0,63.3 260.2,62.3 260.3,61.3 260.4,60.2 260.5,59.1 260.7,58.0 260.8,56.8 260.9,55.7 261.0,54.6 261.2,53.5 261.3,52.5 261.4,51.4 261.5,50.4 261.7,49.5 261.8,48.6 261.9,47.8 262.0,47.0 262.2,46.3 262.3,45.6 262.4,45.1 262.5,44.6 262.7,44.2 262.8,43.9 262.9,43.7 263.1,43.6 263.2,43.5 263.3,43.6 263.4,43.7 263.6,44.0 263.7,44.3 263.8,44.7 263.9,45.2 264.1,45.8 264.2,46.4 264.3,47.1 264.4,47.9 264.6,48.8 264.7,49.7 264.8,50.6 264.9,51.6 265.1,52.6 265.2,53.7 265.3,54.7 265.4,55.8 265.6,56.9 265.7,58.0 265.8,59.1 265.9,60.2 266.1,61.2 266.2,62.2 266.3,63.2 266.4,64.1 266.6,65.0 266.7,65.8 266.8,66.6 266.9,67.3 267.1,67.9 267.2,68.4 267.3,68.9 267.4,69.3 267.6,69.5 267.7,69.8 267.8,69.9 267.9,69.9 268.1,69.8 268.2,69.7 268.3,69.4 268.4,69.1 268.6,68.7 268.7,68.2 268.8,67.7 268.9,67.0 269.1,66.3 269.2,65.5 269.3,64.7 269.5,63.8 269.6,62.9 269.7,61.9 269.8,60.9 270.0,59.9 270.1,58.8 270.2,57.8 270.3,56.7 270.5,55.6 270.6,54.6 270.7,53.5 270.8,52.5 271.0,51.5 271.1,50.5 271.2,49.6 271.3,48.8 271.5,48.0 271.6,47.2 271.7,46.6 271.8,45.9 272.0,45.4 272.1,45.0 272.2,44.6 272.3,44.3 272.5,44.1 272.6,44.0 272.7,44.0 272.8,44.1 273.0,44.3 273.1,44.5 273.2,44.9 273.3,45.3 273.5,45.8 273.6,46.4 273.7,47.0 273.8,47.8 274.0,48.5 274.1,49.4 274.2,50.3 274.3,51.2 274.5,52.2 274.6,53.2 274.7,54.3 274.8,55.3 275.0,56.4 275.1,57.5 275.2,58.6 275.3,59.6 275.5,60.7 275.6,61.7 275.7,62.7 275.9,63.6 276.0,64.5 276.1,65.3 276.2,66.1 276.4,66.8 276.5,67.5 276.6,68.1 276.7,68.6 276.9,69.0 277.0,69.3 277.1,69.5 277.2,69.7 277.4,69.8 277.5,69.7 277.6,69.6 277.7,69.4 277.9,69.1 278.0,68.7 278.1,68.3 278.2,67.7 278.4,67.1 278.5,66.4 278.6,65.6 278.7,64.8 278.9,63.9 279.0,63.0 279.1,62.0 279.2,61.0 279.4,60.0 279.5,58.9 279.6,57.9 279.7,56.8 279.9,55.7 280.0,54.6 280.1,53.6 280.2,52.5 280.4,51.5 280.5,50.6 280.6,49.7 280.7,48.8 280.9,48.0 281.0,47.2 281.1,46.6 281.2,46.0 281.4,45.4 281.5,45.0 281.6,44.6 281.8,44.4 281.9,44.2 282.0,44.1 282.1,44.1 282.3,44.2 282.4,44.3 282.5,44.6 282.6,45.0 282.8,45.4 282.9,45.9 283.0,46.5 283.1,47.2 283.3,48.0 283.4,48.8 283.5,49.6 283.6,50.6 283.8,51.5 283.9,52.5 284.0,53.5 284.1,54.6 284.3,55.7 284.4,56.8 284.5,57.8 284.6,58.9 284.8,60.0 284.9,61.0 285.0,62.0 285.1,63.0 285.3,63.9 285.4,64.8 285.5,65.6 285.6,66.4 285.8,67.1 285.9,67.7 286.0,68.3 286.1,68.7 286.3,69.1 286.4,69.4 286.5,69.6 286.6,69.7 286.8,69.7 286.9,69.6 287.0,69.5 287.1,69.2 287.3,68.9 287.4,68.4 287.5,67.9 287.6,67.3 287.8,66.6 287.9,65.9 288.0,65.1 288.2,64.2 288.3,63.3 288.4,62.4 288.5,61.4 288.7,60.3 288.8,59.3 288.9,58.2 289.0,57.1 289.2,56.0 289.3,54.9 289.4,53.9 289.5,52.8 289.7,51.8 289.8,50.8 289.9,49.9 290.0,49.0 290.2,48.2 290.3,47.4 290.4,46.7 290.5,46.1 290.7,45.6 290.8,45.1 290.9,44.7 291.0,44.4 291.2,44.2 291.3,44.1 291.4,44.1 291.5,44.2 291.7,44.4 291.8,44.6 291.9,45.0 292.0,45.4 292.2,45.9 292.3,46.6 292.4,47.2 292.5,48.0 292.7,48.8 292.8,49.7 292.9,50.6 293.0,51.6 293.2,52.6 293.3,53.6 293.4,54.7 293.5,55.7 293.7,56.8 293.8,57.9 293.9,59.0 294.0,60.1 294.2,61.1 294.3,62.1 294.4,63.1 294.6,64.0 294.7,64.9 294.8,65.7 294.9,66.5 295.1,67.2 295.2,67.8 295.3,68.3 295.4,68.8 295.6,69.1 295.7,69.4 295.8,69.6 295.9,69.6 296.1,69.6 296.2,69.5 296.3,69.3 296.4,69.1 296.6,68.7 296.7,68.2 296.8,67.7 296.9,67.1 297.1,66.4 297.2,65.6 297.3,64.8 297.4,63.9 297.6,62.9 297.7,62.0 297.8,60.9 297.9,59.9 298.1,58.8 298.2,57.7 298.3,56.6 298.4,55.5 298.6,54.5 298.7,53.4 298.8,52.4 298.9,51.4 299.1,50.4 299.2,49.5 299.3,48.6 299.4,47.8 299.6,47.1 299.7,46.4 299.8,45.8 299.9,45.3 300.1,44.9 300.2,44.6 300.3,44.4 300.4,44.2 300.6,44.2 300.7,44.2 300.8,44.4 301.0,44.6 301.1,44.9 301.2,45.3 301.3,45.8 301.5,46.4 301.6,47.1 301.7,47.8 301.8,48.6 302.0,49.4 302.1,50.4 302.2,51.3 302.3,52.3 302.5,53.4 302.6,54.4 302.7,55.5 302.8,56.6 303.0,57.7 303.1,58.8 303.2,59.9 303.3,60.9 303.5,62.0 303.6,62.9 303.7,63.9 303.8,64.8 304.0,65.6 304.1,66.4 304.2,67.1 304.3,67.7 304.5,68.2 304.6,68.7 304.7,69.0 304.8,69.3 305.0,69.5 305.1,69.6 305.2,69.6 305.3,69.5 305.5,69.3 305.6,69.0 305.7,68.6 305.8,68.2 306.0,67.6 306.1,67.0 306.2,66.3 306.3,65.5 306.5,64.7 306.6,63.8 306.7,62.8 306.9,61.8 307.0,60.8 307.1,59.7 307.2,58.7 307.4,57.6 307.5,56.5 307.6,55.4 307.7,54.3 307.9,53.2 308.0,52.2 308.1,51.2 308.2,50.2 308.4,49.3 308.5,48.4 308.6,47.7 308.7,46.9 308.9,46.3 309.0,45.7 309.1,45.3 309.2,44.9 309.4,44.6 309.5,44.4 309.6,44.2 309.7,44.2 309.9,44.3 310.0,44.5 310.1,44.7 310.2,45.1 310.4,45.5 310.5,46.1 310.6,46.7 310.7,47.4 310.9,48.1 311.0,49.0 311.1,49.9 311.2,50.8 311.4,51.8 311.5,52.8 311.6,53.9 311.7,55.0 311.9,56.1 312.0,57.2 312.1,58.3 312.2,59.4 312.4,60.4 312.5,61.5 312.6,62.5 312.7,63.5 312.9,64.4 313.0,65.2 313.1,66.0 313.3,66.8 313.4,67.4 313.5,68.0 313.6,68.5 313.8,68.9 313.9,69.2 314.0,69.4 314.1,69.5 314.3,69.6 314.4,69.5 314.5,69.3 314.6,69.1 314.8,68.7 314.9,68.3 315.0,67.7 315.1,67.1 315.3,66.4 315.4,65.7 315.5,64.8 315.6,63.9 315.8,63.0 315.9,62.0 316.0,61.0 316.1,59.9 316.3,58.8 316.4,57.7 316.5,56.6 316.6,55.5 316.8,54.4 316.9,53.3 317.0,52.3 317.1,51.3 317.3,50.3 317.4,49.4 317.5,48.5 317.6,47.7 317.8,47.0 317.9,46.4 318.0,45.8 318.1,45.3 318.3,44.9 318.4,44.6 318.5,44.4 318.6,44.3 318.8,44.3 318.9,44.3 319.0,44.5 319.1,44.8 319.3,45.2 319.4,45.6 319.5,46.2 319.7,46.8 319.8,47.5 319.9,48.3 320.0,49.1 320.2,50.0 320.3,51.0 320.4,52.0 320.5,53.0 320.7,54.1 320.8,55.2 320.9,56.3 321.0,57.4 321.2,58.5 321.3,59.6 321.4,60.7 321.5,61.7 321.7,62.7 321.8,63.7 321.9,64.6 322.0,65.4 322.2,66.2 322.3,66.9 322.4,67.6 322.5,68.1 322.7,68.6 322.8,69.0 322.9,69.2 323.0,69.4 323.2,69.5 323.3,69.5 323.4,69.4 323.5,69.2 323.7,68.9 323.8,68.5 323.9,68.0 324.0,67.4 324.2,66.8 324.3,66.1 324.4,65.3 324.5,64.4 324.7,63.5 324.8,62.5 324.9,61.5 325.0,60.4 325.2,59.3 325.3,58.2 325.4,57.1 325.5,56.0 325.7,54.9 325.8,53.8 325.9,52.8 326.1,51.7 326.2,50.7 326.3,49.8 326.4,48.9 326.6,48.1 326.7,47.3 326.8,46.6 326.9,46.0 327.1,45.5 327.2,45.1 327.3,44.7 327.4,44.5 327.6,44.4 327.7,44.3 327.8,44.4 327.9,44.5 328.1,44.8 328.2,45.1 328.3,45.5 328.4,46.1 328.6,46.7 328.7,47.4 328.8,48.1 328.9,49.0 329.1,49.9 329.2,50.8 329.3,51.8 329.4,52.8 329.6,53.9 329.7,55.0 329.8,56.1 329.9,57.2 330.1,58.4 330.2,59.5 330.3,60.5 330.4,61.6 330.6,62.6 330.7,63.6 330.8,64.5 330.9,65.4 331.1,66.1 331.2,66.9 331.3,67.5 331.4,68.1 331.6,68.5 331.7,68.9 331.8,69.2 331.9,69.4 332.1,69.5 332.2,69.4 332.3,69.3 332.5,69.1 332.6,68.8 332.7,68.4 332.8,67.9 333.0,67.3 333.1,66.7 333.2,65.9 333.3,65.1 333.5,64.3 333.6,63.3 333.7,62.3 333.8,61.3 334.0,60.2 334.1,59.1 334.2,58.0 334.3,56.9 334.5,55.8 334.6,54.7 334.7,53.6 334.8,52.5 335.0,51.5 335.1,50.5 335.2,49.6 335.3,48.7 335.5,47.9 335.6,47.1 335.7,46.5 335.8,45.9 336.0,45.4 336.1,45.0 336.2,44.7 336.3,44.5 336.5,44.4 336.6,44.4 336.7,44.5 336.8,44.6 337.0,44.9 337.1,45.3 337.2,45.8 337.3,46.3 337.5,47.0 337.6,47.7 337.7,48.5 337.8,49.4 338.0,50.3 338.1,51.3 338.2,52.3 338.4,53.4 338.5,54.5 338.6,55.6 338.7,56.7 338.9,57.8 339.0,58.9 339.1,60.0 339.2,61.1 339.4,62.1 339.5,63.1 339.6,64.1 339.7,65.0 339.9,65.8 340.0,66.6 340.1,67.2 340.2,67.8 340.4,68.3 340.5,68.7 340.6,69.1 340.7,69.3 340.9,69.4 341.0,69.4 341.1,69.3 341.2,69.2 341.4,68.9 341.5,68.5 341.6,68.0 341.7,67.5 341.9,66.8 342.0,66.1 342.1,65.3 342.2,64.4 342.4,63.5 342.5,62.5 342.6,61.5 342.7,60.4 342.9,59.3 343.0,58.2 343.1,57.1 343.2,56.0 343.4,54.9 343.5,53.8 343.6,52.7 343.7,51.6 343.9,50.6 344.0,49.7 344.1,48.8 344.2,48.0 344.4,47.2 344.5,46.6" fill="none" stroke="#ff0000" stroke-width="1" marker-mid="url(#cir)"/>
<polyline points="93.5,56.9 93.8,56.8 94.0,56.5 94.3,55.8 94.5,55.0 94.8,54.2 95.0,53.3 95.3,52.5 95.5,51.8 95.8,51.1 96.0,50.6 96.3,50.2 96.5,50.0 96.8,50.4 97.0,51.0 97.3,51.8 97.5,52.7 97.8,53.8 98.0,55.0 98.3,56.4 98.5,57.9 98.8,59.5 99.0,61.2 99.3,62.9 99.5,64.5 99.8,66.1 100.0,67.7 100.3,69.1 100.5,70.3 100.8,71.3 101.0,72.1 101.3,72.7 101.5,72.9 101.8,72.6 102.0,71.9 102.3,70.9 102.5,69.7 102.8,68.2 103.0,66.4 103.3,64.3 103.5,62.1 103.8,59.7 104.0,57.2 104.3,54.7 104.5,52.0 104.8,49.4 105.0,46.9 105.3,44.5 105.5,42.3 105.8,40.2 106.0,38.5 106.3,37.0 106.6,35.9 106.8,35.1 107.1,34.7 107.3,34.8 107.6,35.2 107.8,36.3 108.1,37.8 108.3,39.7 108.6,41.9 108.8,44.4 109.1,47.1 109.3,50.1 109.6,53.3 109.8,56.6 110.1,59.9 110.3,63.2 110.6,66.4 110.8,69.5 111.1,72.4 111.3,75.1 111.6,77.4 111.8,79.4 112.1,81.0 112.3,82.2 112.6,82.9 112.8,83.1 113.1,82.7 113.3,81.7 113.6,80.3 113.8,78.5 114.1,76.3 114.3,73.6 114.6,70.7 114.8,67.5 115.1,64.1 115.3,60.5 115.6,56.8 115.8,53.1 116.1,49.5 116.3,46.0 116.6,42.7 116.8,39.6 117.1,36.9 117.3,34.5 117.6,32.6 117.8,31.1 118.1,30.1 118.3,29.6 118.6,29.6 118.9,30.2 119.1,31.4 119.4,33.0 119.6,35.1 119.9,37.6 120.1,40.5 120.4,43.7 120.6,47.2 120.9,50.9 121.1,54.7 121.4,58.5 121.6,62.3 121.9,66.0 122.1,69.5 122.4,72.8 122.6,75.8 122.9,78.5 123.1,80.7 123.4,82.5 123.6,83.7 123.9,84.5 124.1,84.7 124.4,84.4 124.6,83.5 124.9,82.1 125.1,80.3 125.4,77.9 125.6,75.2 125.9,72.1 126.1,68.7 126.4,65.0 126.6,61.3 126.9,57.4 127.1,53.5 127.4,49.7 127.6,46.0 127.9,42.6 128.1,39.4 128.4,36.5 128.6,34.1 128.9,32.1 129.1,30.7 129.4,29.7 129.6,29.3 129.9,29.4 130.1,30.1 130.4,31.3 130.6,33.0 130.9,35.3 131.2,37.9 131.4,41.0 131.7,44.3 131.9,47.9 132.2,51.8 132.4,55.7 132.7,59.7 132.9,63.6 133.2,67.4 133.4,71.0 133.7,74.3 133.9,77.3 134.2,79.9 134.4,82.1 134.7,83.7 134.9,84.8 135.2,85.4 135.4,85.4 135.7,84.9 135.9,83.8 136.2,82.2 136.4,80.0 136.7,77.4 136.9,74.5 137.2,71.1 137.4,67.5 137.7,63.6 137.9,59.7 138.2,55.7 138.4,51.7 138.7,47.8 138.9,44.1 139.2,40.7 139.4,37.6 139.7,35.0 139.9,32.7 140.2,31.0 140.4,29.8 140.7,29.2 140.9,29.1 141.2,29.6 141.4,30.7 141.7,32.4 141.9,34.5 142.2,37.1 142.4,40.2 142.7,43.5 142.9,47.2 143.2,51.1 143.4,55.2 143.7,59.3 144.0,63.4 144.2,67.3 144.5,71.1 144.7,74.6 145.0,77.7 145.2,80.5 145.5,82.8 145.7,84.5 146.0,85.7 146.2,86.3 146.5,86.4 146.7,85.8 147.0,84.7 147.2,82.9 147.5,80.7 147.7,78.0 148.0,74.8 148.2,71.3 148.5,67.5 148.7,63.4 149.0,59.3 149.2,55.0 149.5,50.9 149.7,46.8 150.0,43.0 150.2,39.5 150.5,36.3 150.7,33.6 151.0,31.4 151.2,29.7 151.5,28.6 151.7,28.1 152.0,28.2 152.2,28.9 152.5,30.2 152.7,32.1 153.0,34.5 153.2,37.4 153.5,40.8 153.7,44.5 154.0,48.4 154.2,52.6 154.5,56.9 154.7,61.2 155.0,65.4 155.2,69.4 155.5,73.2 155.7,76.7 156.0,79.8 156.2,82.4 156.5,84.5 156.8,86.0 157.0,86.9 157.3,87.2 157.5,86.8 157.8,85.9 158.0,84.3 158.3,82.1 158.5,79.5 158.8,76.3 159.0,72.7 159.3,68.9 159.5,64.7 159.8,60.4 160.0,56.0 160.3,51.7 160.5,47.5 160.8,43.4 161.0,39.7 161.3,36.3 161.5,33.4 161.8,31.0 162.0,29.2 162.3,28.0 162.5,27.4 162.8,27.4 163.0,28.1 163.3,29.4 163.5,31.4 163.8,33.9 164.0,36.9 164.3,40.3 164.5,44.2 164.8,48.3 165.0,52.6 165.3,57.1 165.5,61.5 165.8,65.9 166.0,70.1 166.3,74.0 166.5,77.6 166.8,80.7 167.0,83.4 167.3,85.5 167.5,87.0 167.8,87.8 168.0,88.0 168.3,87.5 168.5,86.3 168.8,84.6 169.1,82.2 169.3,79.3 169.6,75.9 169.8,72.0 170.1,67.9 170.3,63.5 170.6,59.0 170.8,54.5 171.1,50.0 171.3,45.6 171.6,41.6 171.8,37.8 172.1,34.5 172.3,31.7 172.6,29.4 172.8,27.8 173.1,26.8 173.3,26.5 173.6,26.9 173.8,27.9 174.1,29.6 174.3,31.9 174.6,34.7 174.8,38.1 175.1,41.9 175.3,46.1 175.6,50.5 175.8,55.0 176.1,59.7 176.3,64.2 176.6,68.7 176.8,72.9 177.1,76.7 177.3,80.1 177.6,83.1 177.8,85.4 178.1,87.1 178.3,88.2 178.6,88.5 178.8,88.2 179.1,87.1 179.3,85.4 179.6,83.1 179.8,80.1 180.1,76.6 180.3,72.7 180.6,68.4 180.8,63.9 181.1,59.2 181.3,54.4 181.6,49.7 181.9,45.2 182.1,40.9 182.4,36.9 182.6,33.4 182.9,30.4 183.1,28.0 183.4,26.3 183.6,25.2 183.9,24.9 184.1,25.3 184.4,26.4 184.6,28.2 184.9,30.6 185.1,33.7 185.4,37.3 185.6,41.3 185.9,45.7 186.1,50.4 186.4,55.2 186.6,60.1 186.9,64.9 187.1,69.5 187.4,73.9 187.6,77.8 187.9,81.3 188.1,84.2 188.4,86.6 188.6,88.2 188.9,89.1 189.1,89.3 189.4,88.7 189.6,87.4 189.9,85.4 190.1,82.7 190.4,79.4 190.6,75.6 190.9,71.3 191.1,66.7 191.4,61.8 191.6,56.8 191.9,51.8 192.1,46.9 192.4,42.2 192.6,37.8 192.9,33.9 193.1,30.5 193.4,27.6 193.6,25.5 193.9,24.0 194.2,23.3 194.4,23.4 194.7,24.2 194.9,25.8 195.2,28.2 195.4,31.1 195.7,34.7 195.9,38.8 196.2,43.3 196.4,48.2 196.7,53.2 196.9,58.3 197.2,63.4 197.4,68.3 197.7,73.0 197.9,77.3 198.2,81.1 198.4,84.3 198.7,86.9 198.9,88.7 199.2,89.8 199.4,90.2 199.7,89.7 199.9,88.5 200.2,86.5 200.4,83.7 200.7,80.4 200.9,76.5 201.2,72.0 201.4,67.3 201.7,62.2 201.9,57.0 202.2,51.8 202.4,46.7 202.7,41.8 202.9,37.3 203.2,33.2 203.4,29.7 203.7,26.7 203.9,24.5 204.2,23.1 204.4,22.4 204.7,22.6 204.9,23.5 205.2,25.3 205.4,27.8 205.7,31.0 205.9,34.8 206.2,39.1 206.4,43.8 206.7,48.9 207.0,54.1 207.2,59.4 207.5,64.7 207.7,69.7 208.0,74.5 208.2,78.8 208.5,82.6 208.7,85.7 209.0,88.2 209.2,89.9 209.5,90.8 209.7,90.9 210.0,90.1 210.2,88.5 210.5,86.2 210.7,83.1 211.0,79.4 211.2,75.2 211.5,70.5 211.7,65.4 212.0,60.1 212.2,54.7 212.5,49.4 212.7,44.2 213.0,39.3 213.2,34.9 213.5,30.9 213.7,27.6 214.0,25.0 214.2,23.1 214.5,22.1 214.7,21.9 215.0,22.5 215.2,24.0 215.5,26.3 215.7,29.3 216.0,33.0 216.2,37.2 216.5,42.0 216.7,47.1 217.0,52.5 217.2,57.9 217.5,63.3 217.7,68.6 218.0,73.6 218.2,78.2 218.5,82.2 218.7,85.6 219.0,88.3 219.3,90.3 219.5,91.4 219.8,91.6 220.0,91.0 220.3,89.5 220.5,87.3 220.8,84.2 221.0,80.5 221.3,76.2 221.5,71.4 221.8,66.2 222.0,60.8 222.3,55.3 222.5,49.8 222.8,44.5 223.0,39.5 223.3,34.9 223.5,30.8 223.8,27.4 224.0,24.7 224.3,22.8 224.5,21.8 224.8,21.6 225.0,22.3 225.3,23.9 225.5,26.3 225.8,29.4 226.0,33.3 226.3,37.7 226.5,42.6 226.8,47.8 227.0,53.3 227.3,58.9 227.5,64.4 227.8,69.7 228.0,74.7 228.3,79.3 228.5,83.2 228.8,86.5 229.0,89.1 229.3,90.8 229.5,91.7 229.8,91.7 230.0,90.8 230.3,89.0 230.5,86.5 230.8,83.1 231.0,79.1 231.3,74.6 231.6,69.6 231.8,64.2 232.1,58.7 232.3,53.1 232.6,47.6 232.8,42.3 233.1,37.4 233.3,33.0 233.6,29.1 233.8,26.0 234.1,23.7 234.3,22.2 234.6,21.6 234.8,21.9 235.1,23.1 235.3,25.1 235.6,28.0 235.8,31.6 236.1,35.8 236.3,40.5 236.6,45.7 236.8,51.1 237.1,56.7 237.3,62.3 237.6,67.7 237.8,72.9 238.1,77.6 238.3,81.8 238.6,85.4 238.8,88.2 239.1,90.2 239.3,91.3 239.6,91.5 239.8,90.9 240.1,89.3 240.3,87.0 240.6,83.8 240.8,80.0 241.1,75.5 241.3,70.6 241.6,65.3 241.8,59.8 242.1,54.2 242.3,48.7 242.6,43.4 242.8,38.5 243.1,34.0 243.3,30.2 243.6,27.0 243.8,24.6 244.1,23.1 244.4,22.4 244.6,22.7 244.9,23.8 245.1,25.8 245.4,28.6 245.6,32.2 245.9,36.4 246.1,41.1 246.4,46.3 246.6,51.7 246.9,57.2 247.1,62.8 247.4,68.2 247.6,73.2 247.9,77.9 248.1,82.0 248.4,85.4 248.6,88.1 248.9,90.0 249.1,90.9 249.4,91.0 249.6,90.2 249.9,88.5 250.1,86.0 250.4,82.7 250.6,78.7 250.9,74.2 251.1,69.2 251.4,63.9 251.6,58.4 251.9,52.9 252.1,47.4 252.4,42.3 252.6,37.5 252.9,33.3 253.1,29.7 253.4,26.8 253.6,24.7 253.9,23.5 254.1,23.2 254.4,23.8 254.6,25.3 254.9,27.6 255.1,30.7 255.4,34.5 255.6,38.9 255.9,43.8 256.1,49.0 256.4,54.5 256.6,60.0 256.9,65.4 257.2,70.6 257.4,75.4 257.7,79.7 257.9,83.4 258.2,86.4 258.4,88.7 258.7,90.0 258.9,90.5 259.2,90.0 259.4,88.7 259.7,86.5 259.9,83.5 260.2,79.8 260.4,75.5 260.7,70.7 260.9,65.5 261.2,60.2 261.4,54.7 261.7,49.3 261.9,44.2 262.2,39.4 262.4,35.1 262.7,31.4 262.9,28.4 263.2,26.2 263.4,24.8 263.7,24.3 263.9,24.7 264.2,26.0 264.4,28.1 264.7,31.0 264.9,34.6 265.2,38.8 265.4,43.5 265.7,48.6 265.9,53.9 266.2,59.2 266.4,64.5 266.7,69.6 266.9,74.3 267.2,78.5 267.4,82.1 267.7,85.0 267.9,87.2 268.2,88.5 268.4,88.9 268.7,88.4 268.9,87.1 269.2,84.9 269.5,82.0 269.7,78.4 270.0,74.2 270.2,69.5 270.5,64.5 270.7,59.3 271.0,54.1 271.2,48.9 271.5,44.0 271.7,39.4 272.0,35.4 272.2,31.9 272.5,29.1 272.7,27.2 273.0,26.0 273.2,25.7 273.5,26.3 273.7,27.7 274.0,29.9 274.2,32.8 274.5,36.4 274.7,40.6 275.0,45.1 275.2,50.0 275.5,55.1 275.7,60.2 276.0,65.1 276.2,69.8 276.5,74.1 276.7,77.9 277.0,81.1 277.2,83.6 277.5,85.3 277.7,86.2 278.0,86.3 278.2,85.5 278.5,84.0 278.7,81.6 279.0,78.6 279.2,74.9 279.5,70.7 279.7,66.1 280.0,61.3 280.2,56.3 280.5,51.4 280.7,46.6 281.0,42.1 281.2,38.0 281.5,34.4 281.8,31.5 282.0,29.3 282.3,27.8 282.5,27.2 282.8,27.4 283.0,28.4 283.3,30.2 283.5,32.8 283.8,36.0 284.0,39.8 284.3,44.0 284.5,48.6 284.8,53.4 285.0,58.2 285.3,63.0 285.5,67.6 285.8,71.9 286.0,75.7 286.3,78.9 286.5,81.5 286.8,83.3 287.0,84.4 287.3,84.7 287.5,84.1 287.8,82.8 288.0,80.7 288.3,77.9 288.5,74.5 288.8,70.6 289.0,66.2 289.3,61.7 289.5,56.9 289.8,52.2 290.0,47.6 290.3,43.3 290.5,39.3 290.8,35.9 291.0,33.0 291.3,30.9 291.5,29.4 291.8,28.8 292.0,29.0 292.3,29.9 292.5,31.6 292.8,34.1 293.0,37.1 293.3,40.8 293.5,44.8 293.8,49.2 294.0,53.8 294.3,58.4 294.6,63.0 294.8,67.3 295.1,71.4 295.3,74.9 295.6,78.0 295.8,80.3 296.1,82.0 296.3,82.9 296.6,83.1 296.8,82.4 297.1,81.0 297.3,78.9 297.6,76.1 297.8,72.8 298.1,69.0 298.3,64.8 298.6,60.4 298.8,55.9 299.1,51.4 299.3,47.1 299.6,43.0 299.8,39.4 300.1,36.3 300.3,33.8 300.6,31.9 300.8,30.8 301.1,30.5 301.3,30.9 301.6,32.0 301.8,33.9 302.1,36.4 302.3,39.6 302.6,43.2 302.8,47.2 303.1,51.4 303.3,55.8 303.6,60.2 303.8,64.4 304.1,68.4 304.3,72.0 304.6,75.2 304.8,77.8 305.1,79.7 305.3,80.9 305.6,81.4 305.8,81.2 306.1,80.2 306.3,78.5 306.6,76.2 306.9,73.3 307.1,69.8 307.4,66.0 307.6,61.9 307.9,57.7 308.1,53.4 308.4,49.2 308.6,45.3 308.9,41.7 309.1,38.6 309.4,36.0 309.6,34.0 309.9,32.7 310.1,32.1 310.4,32.3 310.6,33.2 310.9,34.8 311.1,37.0 311.4,39.9 311.6,43.2 311.9,46.9 312.1,50.9 312.4,55.1 312.6,59.3 312.9,63.4 313.1,67.2 313.4,70.8 313.6,73.9 313.9,76.5 314.1,78.4 314.4,79.7 314.6,80.3 314.9,80.2 315.1,79.4 315.4,77.8 315.6,75.7 315.9,72.9 316.1,69.7 316.4,66.1 316.6,62.2 316.9,58.1 317.1,54.1 317.4,50.1 317.6,46.3 317.9,42.9 318.1,39.9 318.4,37.4 318.6,35.6 318.9,34.4 319.1,33.8 319.4,34.0 319.7,34.9 319.9,36.4 320.2,38.6 320.4,41.3 320.7,44.5 320.9,48.0 321.2,51.8 321.4,55.8 321.7,59.7 321.9,63.6 322.2,67.2 322.4,70.6 322.7,73.4 322.9,75.8 323.2,77.5 323.4,78.6 323.7,79.1 323.9,78.8 324.2,77.8 324.4,76.2 324.7,74.0 324.9,71.3 325.2,68.1 325.4,64.6 325.7,60.9 325.9,57.0 326.2,53.1 326.4,49.3 326.7,45.8 326.9,42.7 327.2,39.9 327.4,37.8 327.7,36.2 327.9,35.2 328.2,35.0 328.4,35.4 328.7,36.4 328.9,38.2 329.2,40.5 329.4,43.3 329.7,46.5 329.9,50.0 330.2,53.8 330.4,57.6 330.7,61.4 330.9,65.0 331.2,68.4 331.4,71.4 331.7,74.0 331.9,76.0 332.2,77.3 332.5,78.1 332.7,78.1 333.0,77.5 333.2,76.3 333.5,74.4 333.7,72.0 334.0,69.1 334.2,65.8 334.5,62.2 334.7,58.5 335.0,54.7 335.2,51.0 335.5,47.6 335.7,44.4 336.0,41.6 336.2,39.3 336.5,37.5 336.7,36.4 337.0,36.0 337.2,36.2 337.5,37.0 337.7,38.5 338.0,40.5 338.2,43.1 338.5,46.1 338.7,49.4 339.0,53.0 339.2,56.7 339.5,60.3 339.7,63.9 340.0,67.2 340.2,70.1 340.5,72.6 340.7,74.6 341.0,76.1 341.2,76.9 341.5,77.0 341.7,76.5 342.0,75.3 342.2,73.6 342.5,71.4 342.7,68.6 343.0,65.5 343.2,62.1 343.5,58.6 343.7,54.9 344.0,51.4 344.2,48.0 344.5,44.9" fill="none" stroke="#00ff00" stroke-width="2.1"/>
<polyline points="93.5,56.9 93.8,56.8 94.0,56.3 94.3,55.6 94.5,54.8 94.8,53.9 95.0,53.1 95.3,52.2 95.5,51.5 95.8,50.8 96.0,50.2 96.3,49.8 96.5,49.6 96.8,49.9 97.0,50.4 97.3,51.2 97.5,52.1 97.8,53.2 98.0,54.4 98.3,55.8 98.5,57.4 98.8,59.0 99.0,60.7 99.3,62.4 99.5,64.2 99.8,65.9 100.0,67.5 100.3,69.0 100.5,70.3 100.8,71.5 101.0,72.4 101.3,73.0 101.5,73.3 101.8,73.0 102.0,72.4 102.3,71.5 102.5,70.2 102.8,68.7 103.0,66.9 103.3,64.8 103.5,62.5 103.8,60.1 104.0,57.5 104.3,54.8 104.5,52.1 104.8,49.4 105.0,46.7 105.3,44.2 105.5,41.8 105.8,39.6 106.0,37.7 106.3,36.1 106.6,34.8 106.8,33.9 107.1,33.5 107.3,33.4 107.6,33.8 107.8,34.9 108.1,36.3 108.3,38.2 108.6,40.5 108.8,43.0 109.1,45.8 109.3,48.9 109.6,52.1 109.8,55.4 110.1,58.8 110.3,62.2 110.6,65.4 110.8,68.6 111.1,71.6 111.3,74.3 111.6,76.6 111.8,78.7 112.1,80.3 112.3,81.5 112.6,82.3 112.8,82.5 113.1,82.1 113.3,81.2 113.6,79.8 113.8,78.0 114.1,75.8 114.3,73.2 114.6,70.3 114.8,67.1 115.1,63.7 115.3,60.2 115.6,56.6 115.8,53.0 116.1,49.5 116.3,46.1 116.6,42.9 116.8,39.9 117.1,37.3 117.3,35.0 117.6,33.1 117.8,31.7 118.1,30.8 118.3,30.3 118.6,30.4 118.9,31.1 119.1,32.3 119.4,33.9 119.6,36.0 119.9,38.5 120.1,41.4 120.4,44.5 120.6,47.8 120.9,51.3 121.1,54.9 121.4,58.6 121.6,62.2 121.9,65.6 122.1,68.9 122.4,72.0 122.6,74.7 122.9,77.1 123.1,79.1 123.4,80.7 123.6,81.8 123.9,82.4 124.1,82.5 124.4,82.2 124.6,81.3 124.9,79.9 125.1,78.1 125.4,75.9 125.6,73.4 125.9,70.6 126.1,67.5 126.4,64.2 126.6,60.8 126.9,57.4 127.1,54.0 127.4,50.7 127.6,47.5 127.9,44.6 128.1,41.9 128.4,39.6 128.6,37.6 128.9,36.0 129.1,34.9 129.4,34.3 129.6,34.1 129.9,34.4 130.1,35.2 130.4,36.4 130.6,38.0 130.9,40.0 131.2,42.3 131.4,45.0 131.7,47.9 131.9,51.0 132.2,54.2 132.4,57.5 132.7,60.8 132.9,64.1 133.2,67.2 133.4,70.1 133.7,72.8 133.9,75.2 134.2,77.2 134.4,78.8 134.7,80.0 134.9,80.8 135.2,81.0 135.4,80.9 135.7,80.2 135.9,79.2 136.2,77.7 136.4,75.8 136.7,73.6 136.9,71.0 137.2,68.2 137.4,65.2 137.7,62.1 137.9,58.9 138.2,55.6 138.4,52.5 138.7,49.4 138.9,46.6 139.2,44.0 139.4,41.7 139.7,39.7 139.9,38.1 140.2,36.9 140.4,36.2 140.7,35.9 140.9,36.1 141.2,36.7 141.4,37.8 141.7,39.3 141.9,41.1 142.2,43.2 142.4,45.7 142.7,48.5 142.9,51.4 143.2,54.5 143.4,57.6 143.7,60.8 144.0,63.9 144.2,67.0 144.5,69.8 144.7,72.4 145.0,74.7 145.2,76.6 145.5,78.2 145.7,79.3 146.0,80.0 146.2,80.2 146.5,79.9 146.7,79.2 147.0,78.0 147.2,76.5 147.5,74.5 147.7,72.1 148.0,69.5 148.2,66.5 148.5,63.4 148.7,60.2 149.0,56.9 149.2,53.6 149.5,50.3 149.7,47.2 150.0,44.4 150.2,41.8 150.5,39.5 150.7,37.6 151.0,36.1 151.2,35.1 151.5,34.6 151.7,34.5 152.0,35.0 152.2,35.9 152.5,37.3 152.7,39.0 153.0,41.2 153.2,43.8 153.5,46.6 153.7,49.7 154.0,53.0 154.2,56.4 154.5,59.8 154.7,63.2 155.0,66.4 155.2,69.5 155.5,72.3 155.7,74.8 156.0,76.9 156.2,78.6 156.5,79.9 156.8,80.6 157.0,80.9 157.3,80.6 157.5,79.8 157.8,78.5 158.0,76.8 158.3,74.6 158.5,72.0 158.8,69.0 159.0,65.8 159.3,62.4 159.5,58.8 159.8,55.2 160.0,51.6 160.3,48.0 160.5,44.7 160.8,41.6 161.0,38.8 161.3,36.4 161.5,34.4 161.8,32.9 162.0,31.9 162.3,31.4 162.5,31.5 162.8,32.1 163.0,33.3 163.3,35.0 163.5,37.1 163.8,39.8 164.0,42.8 164.3,46.1 164.5,49.6 164.8,53.3 165.0,57.0 165.3,60.8 165.5,64.4 165.8,67.9 166.0,71.1 166.3,74.0 166.5,76.5 166.8,78.5 167.0,80.1 167.3,81.1 167.5,81.6 167.8,81.6 168.0,80.9 168.3,79.7 168.5,78.0 168.8,75.9 169.1,73.3 169.3,70.3 169.6,67.0 169.8,63.4 170.1,59.7 170.3,56.0 170.6,52.2 170.8,48.5 171.1,45.0 171.3,41.8 171.6,38.9 171.8,36.3 172.1,34.3 172.3,32.7 172.6,31.6 172.8,31.2 173.1,31.3 173.3,31.9 173.6,33.2 173.8,34.9 174.1,37.2 174.3,39.8 174.6,42.9 174.8,46.3 175.1,49.9 175.3,53.7 175.6,57.6 175.8,61.4 176.1,65.2 176.3,68.8 176.6,72.1 176.8,75.1 177.1,77.7 177.3,79.8 177.6,81.4 177.8,82.4 178.1,82.8 178.3,82.7 178.6,81.9 178.8,80.6 179.1,78.7 179.3,76.3 179.6,73.5 179.8,70.2 180.1,66.7 180.3,62.8 180.6,58.9 180.8,54.9 181.1,50.8 181.3,47.0 181.6,43.3 181.9,39.9 182.1,36.9 182.4,34.4 182.6,32.3 182.9,30.8 183.1,29.9 183.4,29.6 183.6,29.9 183.9,30.8 184.1,32.4 184.4,34.5 184.6,37.1 184.9,40.2 185.1,43.6 185.4,47.4 185.6,51.4 185.9,55.5 186.1,59.7 186.4,63.8 186.6,67.7 186.9,71.4 187.1,74.8 187.4,77.7 187.6,80.1 187.9,82.0 188.1,83.3 188.4,84.0 188.6,84.0 188.9,83.4 189.1,82.2 189.4,80.3 189.6,77.9 189.9,75.0 190.1,71.6 190.4,67.9 190.6,63.8 190.9,59.6 191.1,55.3 191.4,51.0 191.6,46.9 191.9,42.9 192.1,39.2 192.4,36.0 192.6,33.2 192.9,30.9 193.1,29.3 193.4,28.3 193.6,27.9 193.9,28.2 194.2,29.2 194.4,30.8 194.7,33.0 194.9,35.8 195.2,39.0 195.4,42.7 195.7,46.8 195.9,51.0 196.2,55.4 196.4,59.9 196.7,64.2 196.9,68.4 197.2,72.3 197.4,75.9 197.7,78.9 197.9,81.5 198.2,83.4 198.4,84.7 198.7,85.3 198.9,85.2 199.2,84.4 199.4,82.9 199.7,80.8 199.9,78.1 200.2,74.8 200.4,71.0 200.7,66.9 200.9,62.5 201.2,58.0 201.4,53.3 201.7,48.8 201.9,44.4 202.2,40.2 202.4,36.4 202.7,33.1 202.9,30.3 203.2,28.1 203.4,26.6 203.7,25.7 203.9,25.7 204.2,26.3 204.4,27.7 204.7,29.7 204.9,32.4 205.2,35.7 205.4,39.5 205.7,43.7 205.9,48.2 206.2,52.9 206.4,57.7 206.7,62.4 207.0,67.0 207.2,71.3 207.5,75.3 207.7,78.9 208.0,81.8 208.2,84.2 208.5,85.9 208.7,86.9 209.0,87.1 209.2,86.6 209.5,85.3 209.7,83.3 210.0,80.7 210.2,77.4 210.5,73.5 210.7,69.3 211.0,64.6 211.2,59.8 211.5,54.8 211.7,49.8 212.0,45.0 212.2,40.3 212.5,36.1 212.7,32.3 213.0,29.0 213.2,26.4 213.5,24.4 213.7,23.3 214.0,22.9 214.2,23.3 214.5,24.5 214.7,26.4 215.0,29.1 215.2,32.4 215.5,36.4 215.7,40.7 216.0,45.5 216.2,50.5 216.5,55.7 216.7,60.9 217.0,65.9 217.2,70.8 217.5,75.2 217.7,79.2 218.0,82.7 218.2,85.4 218.5,87.5 218.7,88.7 219.0,89.1 219.3,88.8 219.5,87.5 219.8,85.5 220.0,82.8 220.3,79.3 220.5,75.3 220.8,70.7 221.0,65.8 221.3,60.6 221.5,55.2 221.8,49.8 222.0,44.6 222.3,39.6 222.5,34.9 222.8,30.8 223.0,27.3 223.3,24.4 223.5,22.4 223.8,21.1 224.0,20.7 224.3,21.2 224.5,22.5 224.8,24.6 225.0,27.6 225.3,31.2 225.5,35.4 225.8,40.2 226.0,45.4 226.3,50.8 226.5,56.4 226.8,62.0 227.0,67.4 227.3,72.5 227.5,77.2 227.8,81.4 228.0,85.0 228.3,87.8 228.5,89.8 228.8,91.0 229.0,91.2 229.3,90.6 229.5,89.1 229.8,86.7 230.0,83.5 230.3,79.6 230.5,75.1 230.8,70.0 231.0,64.6 231.3,59.0 231.6,53.2 231.8,47.5 232.1,41.9 232.3,36.7 232.6,31.9 232.8,27.8 233.1,24.3 233.3,21.6 233.6,19.8 233.8,18.8 234.1,18.8 234.3,19.8 234.6,21.6 234.8,24.3 235.1,27.9 235.3,32.1 235.6,37.0 235.8,42.3 236.1,48.0 236.3,53.9 236.6,59.9 236.8,65.8 237.1,71.4 237.3,76.7 237.6,81.4 237.8,85.5 238.1,88.8 238.3,91.2 238.6,92.8 238.8,93.4 239.1,93.0 239.3,91.6 239.6,89.3 239.8,86.1 240.1,82.1 240.3,77.4 240.6,72.1 240.8,66.4 241.1,60.3 241.3,54.1 241.6,47.9 241.8,41.9 242.1,36.3 242.3,31.1 242.6,26.5 242.8,22.6 243.1,19.6 243.3,17.5 243.6,16.4 243.8,16.3 244.1,17.3 244.4,19.2 244.6,22.1 244.9,25.9 245.1,30.5 245.4,35.7 245.6,41.5 245.9,47.7 246.1,54.2 246.4,60.7 246.6,67.1 246.9,73.2 247.1,78.9 247.4,84.0 247.6,88.4 247.9,91.9 248.1,94.5 248.4,96.1 248.6,96.6 248.9,96.1 249.1,94.5 249.4,91.9 249.6,88.3 249.9,83.8 250.1,78.6 250.4,72.8 250.6,66.5 250.9,59.9 251.1,53.1 251.4,46.5 251.6,40.0 251.9,34.0 252.1,28.5 252.4,23.8 252.6,19.9 252.9,16.9 253.1,15.0 253.4,14.2 253.6,14.5 253.9,15.9 254.1,18.4 254.4,21.9 254.6,26.4 254.9,31.7 255.1,37.7 255.4,44.2 255.6,51.0 255.9,58.0 256.1,65.0 256.4,71.8 256.6,78.3 256.9,84.1 257.2,89.3 257.4,93.6 257.7,96.9 257.9,99.1 258.2,100.2 258.4,100.1 258.7,98.9 258.9,96.5 259.2,93.0 259.4,88.5 259.7,83.2 259.9,77.1 260.2,70.4 260.4,63.4 260.7,56.1 260.9,48.9 261.2,41.8 261.4,35.2 261.7,29.1 261.9,23.7 262.2,19.2 262.4,15.8 262.7,13.4 262.9,12.3 263.2,12.3 263.4,13.5 263.7,16.0 263.9,19.5 264.2,24.1 264.4,29.6 264.7,35.9 264.9,42.7 265.2,50.0 265.4,57.5 265.7,65.0 265.9,72.3 266.2,79.2 266.4,85.5 266.7,91.0 266.9,95.6 267.2,99.2 267.4,101.6 267.7,102.8 267.9,102.7 268.2,101.4 268.4,98.8 268.7,95.1 268.9,90.3 269.2,84.5 269.5,78.1 269.7,71.0 270.0,63.6 270.2,55.9 270.5,48.3 270.7,40.8 271.0,33.8 271.2,27.4 271.5,21.8 271.7,17.1 272.0,13.5 272.2,11.1 272.5,9.9 272.7,10.0 273.0,11.3 273.2,13.9 273.5,17.8 273.7,22.6 274.0,28.5 274.2,35.1 274.5,42.3 274.7,49.9 275.0,57.8 275.2,65.6 275.5,73.2 275.7,80.4 276.0,86.9 276.2,92.6 276.5,97.4 276.7,101.0 277.0,103.4 277.2,104.5 277.5,104.4 277.7,102.9 278.0,100.1 278.2,96.1 278.5,91.1 278.7,85.1 279.0,78.2 279.2,70.8 279.5,63.0 279.7,55.0 280.0,47.0 280.2,39.2 280.5,32.0 280.7,25.4 281.0,19.7 281.2,15.0 281.5,11.4 281.8,9.1 282.0,8.2 282.3,8.5 282.5,10.3 282.8,13.3 283.0,17.6 283.3,23.0 283.5,29.3 283.8,36.4 284.0,44.1 284.3,52.2 284.5,60.4 284.8,68.5 285.0,76.4 285.3,83.7 285.5,90.2 285.8,95.9 286.0,100.4 286.3,103.8 286.5,105.8 286.8,106.4 287.0,105.7 287.3,103.5 287.5,100.1 287.8,95.4 288.0,89.6 288.3,82.9 288.5,75.4 288.8,67.4 289.0,59.1 289.3,50.7 289.5,42.4 289.8,34.6 290.0,27.3 290.3,20.9 290.5,15.5 290.8,11.2 291.0,8.3 291.3,6.7 291.5,6.5 291.8,7.8 292.0,10.5 292.3,14.5 292.5,19.7 292.8,25.9 293.0,33.1 293.3,41.0 293.5,49.3 293.8,57.8 294.0,66.3 294.3,74.6 294.6,82.3 294.8,89.4 295.1,95.5 295.3,100.5 295.6,104.3 295.8,106.7 296.1,107.6 296.3,107.2 296.6,105.2 296.8,101.9 297.1,97.3 297.3,91.5 297.6,84.7 297.8,77.0 298.1,68.8 298.3,60.3 298.6,51.6 298.8,43.0 299.1,34.9 299.3,27.4 299.6,20.7 299.8,15.1 300.1,10.6 300.3,7.5 300.6,5.9 300.8,5.7 301.1,7.0 301.3,9.8 301.6,13.9 301.8,19.3 302.1,25.8 302.3,33.2 302.6,41.4 302.8,49.9 303.1,58.7 303.3,67.4 303.6,75.9 303.8,83.8 304.1,90.9 304.3,97.1 304.6,102.0 304.8,105.7 305.1,108.0 305.3,108.7 305.6,108.0 305.8,105.7 306.1,102.1 306.3,97.1 306.6,90.9 306.9,83.8 307.1,75.9 307.4,67.4 307.6,58.6 307.9,49.8 308.1,41.2 308.4,33.1 308.6,25.7 308.9,19.3 309.1,14.0 309.4,9.9 309.6,7.3 309.9,6.1 310.1,6.5 310.4,8.3 310.6,11.7 310.9,16.3 311.1,22.3 311.4,29.2 311.6,37.0 311.9,45.4 312.1,54.2 312.4,63.1 312.6,71.8 312.9,80.1 313.1,87.7 313.4,94.4 313.6,100.1 313.9,104.4 314.1,107.4 314.4,108.9 314.6,108.9 314.9,107.3 315.1,104.2 315.4,99.8 315.6,94.1 315.9,87.3 316.1,79.7 316.4,71.3 316.6,62.6 316.9,53.7 317.1,45.0 317.4,36.6 317.6,28.9 317.9,22.0 318.1,16.3 318.4,11.7 318.6,8.6 318.9,7.0 319.1,6.9 319.4,8.3 319.7,11.3 319.9,15.7 320.2,21.4 320.4,28.2 320.7,35.9 320.9,44.3 321.2,53.2 321.4,62.1 321.7,70.9 321.9,79.3 322.2,87.1 322.4,93.9 322.7,99.6 322.9,104.0 323.2,107.0 323.4,108.4 323.7,108.3 323.9,106.6 324.2,103.4 324.4,98.8 324.7,92.9 324.9,86.0 325.2,78.1 325.4,69.6 325.7,60.8 325.9,51.9 326.2,43.1 326.4,34.8 326.7,27.3 326.9,20.7 327.2,15.2 327.4,11.1 327.7,8.4 327.9,7.3 328.2,7.7 328.4,9.7 328.7,13.2 328.9,18.1 329.2,24.2 329.4,31.4 329.7,39.4 329.9,47.9 330.2,56.7 330.4,65.6 330.7,74.1 330.9,82.2 331.2,89.4 331.4,95.7 331.7,100.7 331.9,104.4 332.2,106.5 332.5,107.1 332.7,106.1 333.0,103.6 333.2,99.6 333.5,94.3 333.7,87.8 334.0,80.4 334.2,72.2 334.5,63.6 334.7,54.8 335.0,46.1 335.2,37.8 335.5,30.0 335.7,23.2 336.0,17.4 336.2,12.9 336.5,9.8 336.7,8.3 337.0,8.2 337.2,9.7 337.5,12.8 337.7,17.2 338.0,22.9 338.2,29.6 338.5,37.2 338.7,45.4 339.0,53.9 339.2,62.5 339.5,70.9 339.7,78.8 340.0,86.0 340.2,92.3 340.5,97.3 340.7,101.1 341.0,103.4 341.2,104.2 341.5,103.5 341.7,101.2 342.0,97.5 342.2,92.6 342.5,86.5 342.7,79.5 343.0,71.7 343.2,63.4 343.5,54.9 343.7,46.5 344.0,38.4 344.2,30.9 344.5,24.2" fill="none" stroke="#000" stroke-width="1.6" stroke-dasharray="4,0.7,1.5,0.7"/>
</g>
<clipPath id="kb"><rect x="425.5" y="4.5" width="251.0" height="105.0"/></clipPath>
<clipPath id="kbb"><rect x="426.0" y="-1.5" width="250.5" height="117.0"/></clipPath>
<polyline clip-path="url(#kbb)" points="425.5,59.5 425.7,59.6 425.9,59.8 426.0,59.9 426.2,60.1 426.4,60.2 426.6,60.4 426.7,60.5 426.9,60.6 427.1,60.8 427.3,60.9 427.4,61.1 427.6,61.2 427.8,61.2 428.0,61.1 428.1,61.0 428.3,60.9 428.5,60.7 428.7,60.6 428.8,60.5 429.0,60.3 429.2,60.3 429.4,60.2 429.5,60.2 429.7,60.2 429.9,60.3 430.1,60.4 430.2,60.6 430.4,60.6 430.6,60.7 430.8,60.8 430.9,61.0 431.1,61.4 431.3,61.8 431.5,62.3 431.6,63.0 431.8,63.7 432.0,64.5 432.2,65.3 432.4,66.2 432.5,67.2 432.7,68.2 432.9,69.3 433.1,70.3 433.2,71.4 433.4,72.4 433.6,73.4 433.8,74.3 433.9,75.2 434.1,76.0 434.3,76.7 434.5,77.3 434.6,77.6 434.8,77.8 435.0,77.8 435.2,77.7 435.3,77.3 435.5,76.9 435.7,76.2 435.9,75.4 436.0,74.4 436.2,73.3 436.4,72.0 436.6,70.5 436.7,68.9 436.9,67.1 437.1,65.3 437.3,63.3 437.4,61.2 437.6,59.0 437.8,56.8 438.0,54.5 438.2,52.2 438.3,50.0 438.5,47.7 438.7,45.5 438.9,43.3 439.0,41.3 439.2,39.3 439.4,37.5 439.6,35.9 439.7,34.4 439.9,33.1 440.1,32.0 440.3,31.2 440.4,30.8 440.6,30.7 440.8,30.9 441.0,31.3 441.1,32.1 441.3,33.0 441.5,34.2 441.7,35.7 441.8,37.4 442.0,39.3 442.2,41.4 442.4,43.7 442.5,46.2 442.7,48.8 442.9,51.6 443.1,54.5 443.2,57.4 443.4,60.4 443.6,63.5 443.8,66.5 443.9,69.5 444.1,72.4 444.3,75.3 444.5,78.1 444.7,80.7 444.8,83.1 445.0,85.4 445.2,87.4 445.4,89.2 445.5,90.7 445.7,91.9 445.9,92.8 446.1,93.3 446.2,93.6 446.4,93.5 446.6,93.1 446.8,92.4 446.9,91.3 447.1,90.0 447.3,88.3 447.5,86.4 447.6,84.2 447.8,81.7 448.0,79.0 448.2,76.1 448.3,72.9 448.5,69.7 448.7,66.3 448.9,62.7 449.0,59.2 449.2,55.5 449.4,51.9 449.6,48.3 449.7,44.8 449.9,41.3 450.1,38.0 450.3,34.9 450.4,31.9 450.6,29.2 450.8,26.7 451.0,24.4 451.2,22.5 451.3,20.9 451.5,19.7 451.7,18.9 451.9,18.4 452.0,18.3 452.2,18.6 452.4,19.3 452.6,20.3 452.7,21.6 452.9,23.4 453.1,25.4 453.3,27.8 453.4,30.5 453.6,33.5 453.8,36.7 454.0,40.1 454.1,43.7 454.3,47.5 454.5,51.4 454.7,55.4 454.8,59.5 455.0,63.5 455.2,67.6 455.4,71.5 455.5,75.4 455.7,79.1 455.9,82.7 456.1,86.0 456.2,89.1 456.4,91.9 456.6,94.5 456.8,96.6 457.0,98.5 457.1,100.0 457.3,101.0 457.5,101.7 457.7,102.0 457.8,101.8 458.0,101.2 458.2,100.2 458.4,98.8 458.5,97.0 458.7,94.8 458.9,92.2 459.1,89.4 459.2,86.2 459.4,82.7 459.6,79.0 459.8,75.1 459.9,71.0 460.1,66.7 460.3,62.4 460.5,58.0 460.6,53.6 460.8,49.2 461.0,44.8 461.2,40.6 461.3,36.6 461.5,32.7 461.7,29.0 461.9,25.6 462.0,22.6 462.2,19.8 462.4,17.4 462.6,15.4 462.7,13.7 462.9,12.5 463.1,11.8 463.3,11.4 463.5,11.6 463.6,12.2 463.8,13.2 464.0,14.7 464.2,16.6 464.3,18.9 464.5,21.6 464.7,24.6 464.9,28.0 465.0,31.7 465.2,35.6 465.4,39.8 465.6,44.1 465.7,48.6 465.9,53.2 466.1,57.9 466.3,62.6 466.4,67.2 466.6,71.8 466.8,76.3 467.0,80.6 467.1,84.7 467.3,88.5 467.5,92.1 467.7,95.3 467.8,98.2 468.0,100.7 468.2,102.7 468.4,104.4 468.5,105.6 468.7,106.3 468.9,106.6 469.1,106.3 469.2,105.6 469.4,104.4 469.6,102.8 469.8,100.7 470.0,98.1 470.1,95.2 470.3,91.9 470.5,88.3 470.7,84.3 470.8,80.1 471.0,75.6 471.2,71.0 471.4,66.2 471.5,61.3 471.7,56.3 471.9,51.4 472.1,46.5 472.2,41.7 472.4,37.0 472.6,32.6 472.8,28.4 472.9,24.4 473.1,20.8 473.3,17.5 473.5,14.6 473.6,12.1 473.8,10.0 474.0,8.4 474.2,7.3 474.3,6.7 474.5,6.6 474.7,7.1 474.9,8.0 475.0,9.4 475.2,11.3 475.4,13.6 475.6,16.4 475.8,19.6 475.9,23.2 476.1,27.1 476.3,31.3 476.5,35.8 476.6,40.5 476.8,45.3 477.0,50.3 477.2,55.4 477.3,60.5 477.5,65.6 477.7,70.5 477.9,75.4 478.0,80.1 478.2,84.6 478.4,88.8 478.6,92.6 478.7,96.2 478.9,99.3 479.1,102.1 479.3,104.3 479.4,106.2 479.6,107.5 479.8,108.3 480.0,108.6 480.1,108.4 480.3,107.6 480.5,106.4 480.7,104.6 480.8,102.4 481.0,99.7 481.2,96.5 481.4,93.0 481.5,89.1 481.7,84.9 481.9,80.4 482.1,75.6 482.3,70.7 482.4,65.6 482.6,60.4 482.8,55.2 483.0,49.9 483.1,44.8 483.3,39.8 483.5,34.9 483.7,30.3 483.8,25.9 484.0,21.8 484.2,18.1 484.4,14.7 484.5,11.8 484.7,9.4 484.9,7.4 485.1,5.9 485.2,5.0 485.4,4.6 485.6,4.8 485.8,5.4 485.9,6.6 486.1,8.3 486.3,10.5 486.5,13.2 486.6,16.3 486.8,19.8 487.0,23.7 487.2,28.0 487.3,32.5 487.5,37.3 487.7,42.3 487.9,47.4 488.0,52.7 488.2,58.0 488.4,63.2 488.6,68.4 488.8,73.5 488.9,78.5 489.1,83.2 489.3,87.6 489.5,91.7 489.6,95.5 489.8,98.8 490.0,101.8 490.2,104.2 490.3,106.2 490.5,107.7 490.7,108.7 490.9,109.1 491.0,108.9 491.2,108.2 491.4,107.0 491.6,105.2 491.7,103.0 491.9,100.2 492.1,97.1 492.3,93.5 492.4,89.5 492.6,85.2 492.8,80.6 493.0,75.8 493.1,70.8 493.3,65.6 493.5,60.3 493.7,55.0 493.8,49.7 494.0,44.5 494.2,39.4 494.4,34.6 494.6,29.9 494.7,25.5 494.9,21.5 495.1,17.8 495.3,14.5 495.4,11.6 495.6,9.3 495.8,7.4 496.0,6.0 496.1,5.2 496.3,4.9 496.5,5.2 496.7,6.0 496.8,7.4 497.0,9.2 497.2,11.6 497.4,14.4 497.5,17.7 497.7,21.3 497.9,25.4 498.1,29.7 498.2,34.3 498.4,39.2 498.6,44.2 498.8,49.3 498.9,54.5 499.1,59.7 499.3,64.9 499.5,70.0 499.6,74.9 499.8,79.6 500.0,84.1 500.2,88.3 500.3,92.1 500.5,95.6 500.7,98.6 500.9,101.2 501.1,103.2 501.2,104.8 501.4,105.9 501.6,106.6 501.8,106.7 501.9,106.2 502.1,105.3 502.3,103.9 502.5,102.0 502.6,99.6 502.8,96.8 503.0,93.6 503.2,90.0 503.3,86.1 503.5,82.0 503.7,77.5 503.9,72.9 504.0,68.1 504.2,63.2 504.4,58.2 504.6,53.3 504.7,48.4 504.9,43.5 505.1,38.9 505.3,34.4 505.4,30.1 505.6,26.2 505.8,22.5 506.0,19.2 506.1,16.3 506.3,13.8 506.5,11.8 506.7,10.2 506.8,9.1 507.0,8.5 507.2,8.4 507.4,8.8 507.6,9.6 507.7,11.0 507.9,12.8 508.1,15.0 508.3,17.7 508.4,20.7 508.6,24.1 508.8,27.9 509.0,31.9 509.1,36.1 509.3,40.6 509.5,45.2 509.7,49.9 509.8,54.7 510.0,59.4 510.2,64.2 510.4,68.8 510.5,73.3 510.7,77.6 510.9,81.6 511.1,85.4 511.2,88.9 511.4,92.0 511.6,94.7 511.8,97.1 511.9,99.0 512.1,100.4 512.3,101.4 512.5,101.9 512.6,102.0 512.8,101.5 513.0,100.6 513.2,99.2 513.4,97.4 513.5,95.1 513.7,92.5 513.9,89.5 514.1,86.1 514.2,82.4 514.4,78.5 514.6,74.3 514.8,70.0 514.9,65.5 515.1,60.9 515.3,56.3 515.5,51.7 515.6,47.2 515.8,42.7 516.0,38.5 516.2,34.4 516.3,30.5 516.5,26.9 516.7,23.7 516.9,20.7 517.0,18.2 517.2,16.1 517.4,14.3 517.6,13.1 517.7,12.2 517.9,11.9 518.1,12.0 518.3,12.6 518.4,13.6 518.6,15.1 518.8,17.0 519.0,19.3 519.1,22.0 519.3,25.1 519.5,28.4 519.7,32.1 519.9,35.9 520.0,40.0 520.2,44.2 520.4,48.6 520.6,52.9 520.7,57.3 520.9,61.7 521.1,66.0 521.3,70.2 521.4,74.1 521.6,77.9 521.8,81.5 522.0,84.7 522.1,87.6 522.3,90.2 522.5,92.4 522.7,94.2 522.8,95.6 523.0,96.6 523.2,97.1 523.4,97.1 523.5,96.8 523.7,96.0 523.9,94.7 524.1,93.1 524.2,91.1 524.4,88.6 524.6,85.9 524.8,82.9 524.9,79.5 525.1,76.0 525.3,72.2 525.5,68.3 525.6,64.2 525.8,60.1 526.0,56.0 526.2,51.9 526.4,47.8 526.5,43.8 526.7,40.0 526.9,36.4 527.1,33.0 527.2,29.9 527.4,27.1 527.6,24.6 527.8,22.4 527.9,20.6 528.1,19.2 528.3,18.2 528.5,17.7 528.6,17.5 528.8,17.7 529.0,18.4 529.2,19.4 529.3,20.9 529.5,22.7 529.7,24.9 529.9,27.4 530.0,30.2 530.2,33.2 530.4,36.5 530.6,40.0 530.7,43.7 530.9,47.5 531.1,51.3 531.3,55.2 531.4,59.1 531.6,62.9 531.8,66.6 532.0,70.2 532.1,73.6 532.3,76.8 532.5,79.8 532.7,82.5 532.9,84.9 533.0,86.9 533.2,88.6 533.4,90.0 533.6,90.9 533.7,91.5 533.9,91.6 534.1,91.4 534.3,90.8 534.4,89.7 534.6,88.4 534.8,86.6 535.0,84.6 535.1,82.2 535.3,79.5 535.5,76.6 535.7,73.5 535.8,70.2 536.0,66.7 536.2,63.2 536.4,59.6 536.5,55.9 536.7,52.3 536.9,48.7 537.1,45.2 537.2,41.9 537.4,38.7 537.6,35.7 537.8,33.0 537.9,30.5 538.1,28.3 538.3,26.4 538.5,24.9 538.7,23.6 538.8,22.8 539.0,22.3 539.2,22.2 539.4,22.5 539.5,23.2 539.7,24.2 539.9,25.6 540.1,27.4 540.2,29.4 540.4,31.8 540.6,34.4 540.8,37.2 540.9,40.3 541.1,43.5 541.3,46.8 541.5,50.1 541.6,53.5 541.8,56.9 542.0,60.3 542.2,63.6 542.3,66.7 542.5,69.7 542.7,72.5 542.9,75.1 543.0,77.4 543.2,79.4 543.4,81.2 543.6,82.6 543.7,83.6 543.9,84.3 544.1,84.7 544.3,84.7 544.4,84.4 544.6,83.7 544.8,82.7 545.0,81.4 545.2,79.7 545.3,77.7 545.5,75.5 545.7,73.1 545.9,70.4 546.0,67.6 546.2,64.6 546.4,61.5 546.6,58.4 546.7,55.2 546.9,52.0 547.1,48.9 547.3,45.9 547.4,43.0 547.6,40.2 547.8,37.7 548.0,35.3 548.1,33.2 548.3,31.4 548.5,29.8 548.7,28.6 548.8,27.7 549.0,27.1 549.2,26.8 549.4,26.9 549.5,27.3 549.7,28.0 549.9,29.1 550.1,30.4 550.2,32.0 550.4,33.9 550.6,36.1 550.8,38.4 550.9,40.9 551.1,43.6 551.3,46.4 551.5,49.2 551.7,52.2 551.8,55.1 552.0,58.0 552.2,60.8 552.4,63.6 552.5,66.2 552.7,68.7 552.9,70.9 553.1,73.0 553.2,74.8 553.4,76.4 553.6,77.7 553.8,78.7 553.9,79.4 554.1,79.8 554.3,79.9 554.5,79.7 554.6,79.2 554.8,78.4 555.0,77.3 555.2,76.0 555.3,74.4 555.5,72.5 555.7,70.5 555.9,68.2 556.0,65.9 556.2,63.3 556.4,60.7 556.6,58.1 556.7,55.4 556.9,52.7 557.1,50.1 557.3,47.5 557.5,45.0 557.6,42.7 557.8,40.5 558.0,38.5 558.2,36.7 558.3,35.2 558.5,33.9 558.7,32.8 558.9,32.1 559.0,31.6 559.2,31.4 559.4,31.5 559.6,31.8 559.7,32.4 559.9,33.4 560.1,34.5 560.3,35.9 560.4,37.6 560.6,39.4 560.8,41.4 561.0,43.6 561.1,45.9 561.3,48.3 561.5,50.8 561.7,53.3 561.8,55.8 562.0,58.3 562.2,60.8 562.4,63.1 562.5,65.4 562.7,67.5 562.9,69.4 563.1,71.1 563.2,72.7 563.4,74.0 563.6,75.0 563.8,75.8 564.0,76.3 564.1,76.6 564.3,76.6 564.5,76.3 564.7,75.8 564.8,75.0 565.0,73.9 565.2,72.7 565.4,71.2 565.5,69.5 565.7,67.6 565.9,65.5 566.1,63.4 566.2,61.1 566.4,58.8 566.6,56.4 566.8,54.0 566.9,51.6 567.1,49.3 567.3,47.0 567.5,44.8 567.6,42.8 567.8,40.9 568.0,39.3 568.2,37.8 568.3,36.5 568.5,35.5 568.7,34.7 568.9,34.1 569.0,33.9 569.2,33.8 569.4,34.1 569.6,34.5 569.7,35.3 569.9,36.3 570.1,37.5 570.3,38.9 570.5,40.6 570.6,42.4 570.8,44.3 571.0,46.4 571.2,48.6 571.3,50.9 571.5,53.2 571.7,55.5 571.9,57.8 572.0,60.0 572.2,62.2 572.4,64.3 572.6,66.3 572.7,68.1 572.9,69.7 573.1,71.2 573.3,72.4 573.4,73.4 573.6,74.2 573.8,74.7 574.0,74.9 574.1,74.9 574.3,74.6 574.5,74.1 574.7,73.4 574.8,72.4 575.0,71.1 575.2,69.7 575.4,68.1 575.5,66.3 575.7,64.3 575.9,62.3 576.1,60.1 576.3,57.9 576.4,55.7 576.6,53.4 576.8,51.1 577.0,49.0 577.1,46.8 577.3,44.8 577.5,42.9 577.7,41.2 577.8,39.6 578.0,38.2 578.2,37.1 578.4,36.1 578.5,35.4 578.7,35.0 578.9,34.8 579.1,34.9 579.2,35.2 579.4,35.7 579.6,36.5 579.8,37.6 579.9,38.8 580.1,40.3 580.3,41.9 580.5,43.7 580.6,45.7 580.8,47.8 581.0,49.9 581.2,52.1 581.3,54.4 581.5,56.6 581.7,58.8 581.9,61.0 582.0,63.1 582.2,65.0 582.4,66.9 582.6,68.5 582.8,70.0 582.9,71.3 583.1,72.4 583.3,73.2 583.5,73.8 583.6,74.2 583.8,74.3 584.0,74.1 584.2,73.7 584.3,73.1 584.5,72.2 584.7,71.1 584.9,69.7 585.0,68.2 585.2,66.5 585.4,64.6 585.6,62.7 585.7,60.6 585.9,58.4 586.1,56.2 586.3,54.0 586.4,51.8 586.6,49.6 586.8,47.5 587.0,45.5 587.1,43.6 587.3,41.9 587.5,40.4 587.7,39.0 587.8,37.8 588.0,36.9 588.2,36.2 588.4,35.7 588.5,35.5 588.7,35.6 588.9,35.9 589.1,36.5 589.3,37.3 589.4,38.4 589.6,39.7 589.8,41.2 590.0,42.9 590.1,44.8 590.3,46.7 590.5,48.8 590.7,51.0 590.8,53.2 591.0,55.5 591.2,57.7 591.4,59.9 591.5,62.0 591.7,64.1 591.9,66.0 592.1,67.7 592.2,69.3 592.4,70.6 592.6,71.8 592.8,72.7 592.9,73.3 593.1,73.8 593.3,73.9 593.5,73.8 593.6,73.4 593.8,72.8 594.0,71.9 594.2,70.8 594.3,69.5 594.5,68.0 594.7,66.3 594.9,64.5 595.1,62.5 595.2,60.4 595.4,58.3 595.6,56.1 595.8,53.9 595.9,51.8 596.1,49.6 596.3,47.6 596.5,45.7 596.6,43.9 596.8,42.3 597.0,40.8 597.2,39.6 597.3,38.5 597.5,37.8 597.7,37.2 597.9,36.9 598.0,36.9 598.2,37.1 598.4,37.6 598.6,38.3 598.7,39.3 598.9,40.5 599.1,41.9 599.3,43.5 599.4,45.2 599.6,47.1 599.8,49.1 600.0,51.2 600.1,53.3 600.3,55.5 600.5,57.6 600.7,59.8 600.8,61.8 601.0,63.8 601.2,65.7 601.4,67.4 601.6,68.9 601.7,70.2 601.9,71.4 602.1,72.3 602.3,73.0 602.4,73.4 602.6,73.6 602.8,73.5 603.0,73.1 603.1,72.6 603.3,71.7 603.5,70.7 603.7,69.4 603.8,68.0 604.0,66.3 604.2,64.6 604.4,62.7 604.5,60.7 604.7,58.6 604.9,56.5 605.1,54.4 605.2,52.3 605.4,50.3 605.6,48.3 605.8,46.5 605.9,44.8 606.1,43.2 606.3,41.9 606.5,40.7 606.6,39.7 606.8,39.0 607.0,38.5 607.2,38.3 607.3,38.3 607.5,38.6 607.7,39.1 607.9,39.8 608.1,40.8 608.2,42.0 608.4,43.4 608.6,44.9 608.8,46.6 608.9,48.5 609.1,50.4 609.3,52.5 609.5,54.5 609.6,56.6 609.8,58.7 610.0,60.8 610.2,62.7 610.3,64.6 610.5,66.3 610.7,67.9 610.9,69.4 611.0,70.6 611.2,71.6 611.4,72.4 611.6,72.9 611.7,73.2 611.9,73.3 612.1,73.1 612.3,72.7 612.4,72.0 612.6,71.1 612.8,70.0 613.0,68.6 613.1,67.1 613.3,65.5 613.5,63.7 613.7,61.7 613.9,59.8 614.0,57.7 614.2,55.6 614.4,53.6 614.6,51.6 614.7,49.6 614.9,47.8 615.1,46.0 615.3,44.4 615.4,43.0 615.6,41.8 615.8,40.8 616.0,40.0 616.1,39.4 616.3,39.1 616.5,39.0 616.7,39.2 616.8,39.6 617.0,40.3 617.2,41.2 617.4,42.3 617.5,43.6 617.7,45.1 617.9,46.7 618.1,48.5 618.2,50.4 618.4,52.4 618.6,54.4 618.8,56.5 618.9,58.5 619.1,60.6 619.3,62.5 619.5,64.4 619.6,66.1 619.8,67.7 620.0,69.1 620.2,70.3 620.4,71.3 620.5,72.1 620.7,72.7 620.9,73.0 621.1,73.1 621.2,72.9 621.4,72.5 621.6,71.8 621.8,70.9 621.9,69.8 622.1,68.5 622.3,67.0 622.5,65.3 622.6,63.6 622.8,61.7 623.0,59.7 623.2,57.7 623.3,55.6 623.5,53.6 623.7,51.6 623.9,49.7 624.0,47.9 624.2,46.2 624.4,44.6 624.6,43.2 624.7,42.0 624.9,41.1 625.1,40.3 625.3,39.8 625.4,39.5 625.6,39.5 625.8,39.8 626.0,40.2 626.1,41.0 626.3,41.9 626.5,43.0 626.7,44.4 626.9,45.9 627.0,47.5 627.2,49.3 627.4,51.2 627.6,53.1 627.7,55.1 627.9,57.1 628.1,59.1 628.3,61.1 628.4,62.9 628.6,64.7 628.8,66.4 629.0,67.9 629.1,69.2 629.3,70.4 629.5,71.3 629.7,72.0 629.8,72.5 630.0,72.8 630.2,72.8 630.4,72.6 630.5,72.1 630.7,71.4 630.9,70.5 631.1,69.4 631.2,68.1 631.4,66.6 631.6,65.0 631.8,63.3 631.9,61.4 632.1,59.5 632.3,57.6 632.5,55.6 632.7,53.7 632.8,51.7 633.0,49.9 633.2,48.2 633.4,46.5 633.5,45.1 633.7,43.8 633.9,42.7 634.1,41.8 634.2,41.1 634.4,40.6 634.6,40.4 634.8,40.4 634.9,40.7 635.1,41.2 635.3,41.9 635.5,42.8 635.6,43.9 635.8,45.3 636.0,46.7 636.2,48.4 636.3,50.1 636.5,52.0 636.7,53.9 636.9,55.8 637.0,57.8 637.2,59.7 637.4,61.6 637.6,63.4 637.7,65.1 637.9,66.7 638.1,68.2 638.3,69.4 638.4,70.5 638.6,71.4 638.8,72.0 639.0,72.4 639.2,72.6 639.3,72.5 639.5,72.2 639.7,71.7 639.9,70.9 640.0,70.0 640.2,68.8 640.4,67.4 640.6,65.9 640.7,64.3 640.9,62.5 641.1,60.7 641.3,58.8 641.4,56.8 641.6,54.9 641.8,52.9 642.0,51.1 642.1,49.3 642.3,47.6 642.5,46.1 642.7,44.7 642.8,43.5 643.0,42.6 643.2,41.8 643.4,41.2 643.5,40.9 643.7,40.8 643.9,40.9 644.1,41.3 644.2,41.9 644.4,42.8 644.6,43.8 644.8,45.1 644.9,46.5 645.1,48.0 645.3,49.7 645.5,51.5 645.7,53.4 645.8,55.3 646.0,57.3 646.2,59.2 646.4,61.1 646.5,62.9 646.7,64.6 646.9,66.2 647.1,67.7 647.2,69.0 647.4,70.1 647.6,71.0 647.8,71.7 647.9,72.1 648.1,72.3 648.3,72.3 648.5,72.1 648.6,71.6 648.8,70.9 649.0,69.9 649.2,68.8 649.3,67.5 649.5,66.0 649.7,64.4 649.9,62.7 650.0,60.8 650.2,59.0 650.4,57.0 650.6,55.1 650.7,53.2 650.9,51.4 651.1,49.6 651.3,48.0 651.5,46.5 651.6,45.1 651.8,44.0 652.0,43.0 652.2,42.2 652.3,41.7 652.5,41.4 652.7,41.3 652.9,41.5 653.0,41.9 653.2,42.5 653.4,43.4 653.6,44.4 653.7,45.7 653.9,47.1 654.1,48.6 654.3,50.3 654.4,52.1 654.6,54.0 654.8,55.9 655.0,57.8 655.1,59.7 655.3,61.5 655.5,63.3 655.7,65.0 655.8,66.5 656.0,67.9 656.2,69.1 656.4,70.2 656.5,71.0 656.7,71.6 656.9,72.0 657.1,72.1 657.2,72.0 657.4,71.7 657.6,71.2 657.8,70.4 658.0,69.4 658.1,68.2 658.3,66.9 658.5,65.4 658.7,63.8 658.8,62.0 659.0,60.2 659.2,58.4 659.4,56.5 659.5,54.6 659.7,52.8 659.9,51.1 660.1,49.4 660.2,47.8 660.4,46.4 660.6,45.2 660.8,44.2 660.9,43.3 661.1,42.7 661.3,42.3 661.5,42.1 661.6,42.2 661.8,42.5 662.0,43.0 662.2,43.7 662.3,44.7 662.5,45.8 662.7,47.1 662.9,48.6 663.0,50.2 663.2,51.9 663.4,53.7 663.6,55.5 663.7,57.4 663.9,59.2 664.1,61.1 664.3,62.8 664.5,64.5 664.6,66.0 664.8,67.4 665.0,68.7 665.2,69.7 665.3,70.6 665.5,71.2 665.7,71.7 665.9,71.9 666.0,71.8 666.2,71.6 666.4,71.1 666.6,70.4 666.7,69.5 666.9,68.4 667.1,67.1 667.3,65.7 667.4,64.1 667.6,62.4 667.8,60.7 668.0,58.9 668.1,57.1 668.3,55.3 668.5,53.5 668.7,51.8 668.8,50.1 669.0,48.6 669.2,47.3 669.4,46.1 669.5,45.0 669.7,44.2 669.9,43.6 670.1,43.2 670.3,43.0 670.4,43.1 670.6,43.3 670.8,43.8 671.0,44.6 671.1,45.5 671.3,46.6 671.5,47.9 671.7,49.3 671.8,50.9 672.0,52.5 672.2,54.3 672.4,56.0 672.5,57.8 672.7,59.6 672.9,61.4 673.1,63.1 673.2,64.7 673.4,66.2 673.6,67.5 673.8,68.7 673.9,69.7 674.1,70.5 674.3,71.1 674.5,71.5 674.6,71.6 674.8,71.6 675.0,71.3 675.2,70.7 675.3,70.0 675.5,69.1 675.7,67.9 675.9,66.6 676.0,65.2 676.2,63.6 676.4,62.0" fill="none" stroke="#0000ff" stroke-width="0.8" marker-mid="url(#dia)"/>
<g clip-path="url(#kb)">
<polyline points="425.5,59.5 425.6,59.4 425.8,59.4 425.9,59.3 426.0,59.2 426.1,59.1 426.3,59.1 426.4,59.0 426.5,58.9 426.6,58.7 426.8,58.5 426.9,58.2 427.0,57.9 427.1,57.5 427.3,57.2 427.4,56.8 427.5,56.4 427.6,55.9 427.8,55.5 427.9,55.0 428.0,54.6 428.1,54.1 428.3,53.7 428.4,53.2 428.5,52.8 428.6,52.4 428.8,52.0 428.9,51.6 429.0,51.3 429.1,51.0 429.3,50.7 429.4,50.5 429.5,50.3 429.6,50.2 429.8,50.1 429.9,50.1 430.0,50.1 430.1,50.2 430.3,50.4 430.4,50.8 430.5,51.3 430.6,51.8 430.8,52.4 430.9,53.0 431.0,53.7 431.1,54.4 431.3,55.1 431.4,55.8 431.5,56.6 431.6,57.4 431.8,58.3 431.9,59.1 432.0,60.0 432.2,60.9 432.3,61.8 432.4,62.7 432.5,63.6 432.7,64.4 432.8,65.3 432.9,66.2 433.0,67.0 433.2,67.9 433.3,68.7 433.4,69.4 433.5,70.2 433.7,70.9 433.8,71.5 433.9,72.1 434.0,72.7 434.2,73.2 434.3,73.6 434.4,74.0 434.5,74.3 434.7,74.3 434.8,74.2 434.9,74.1 435.0,73.9 435.2,73.7 435.3,73.3 435.4,72.9 435.5,72.5 435.7,72.0 435.8,71.4 435.9,70.7 436.0,70.0 436.2,69.2 436.3,68.4 436.4,67.6 436.5,66.6 436.7,65.7 436.8,64.7 436.9,63.7 437.0,62.6 437.2,61.5 437.3,60.4 437.4,59.3 437.5,58.2 437.7,57.1 437.8,55.9 437.9,54.8 438.1,53.7 438.2,52.6 438.3,51.5 438.4,50.4 438.6,49.4 438.7,48.4 438.8,47.5 438.9,46.5 439.1,45.7 439.2,44.9 439.3,44.1 439.4,43.4 439.6,42.8 439.7,42.2 439.8,41.7 439.9,41.3 440.1,40.9 440.2,40.6 440.3,40.4 440.4,40.4 440.6,40.4 440.7,40.6 440.8,40.8 440.9,41.0 441.1,41.4 441.2,41.8 441.3,42.3 441.4,42.9 441.6,43.6 441.7,44.3 441.8,45.0 441.9,45.9 442.1,46.8 442.2,47.7 442.3,48.7 442.4,49.7 442.6,50.8 442.7,51.9 442.8,53.0 442.9,54.1 443.1,55.3 443.2,56.5 443.3,57.6 443.4,58.8 443.6,60.0 443.7,61.2 443.8,62.3 443.9,63.5 444.1,64.6 444.2,65.6 444.3,66.7 444.5,67.7 444.6,68.6 444.7,69.5 444.8,70.4 445.0,71.2 445.1,71.9 445.2,72.5 445.3,73.1 445.5,73.7 445.6,74.1 445.7,74.5 445.8,74.7 446.0,74.9 446.1,75.1 446.2,75.1 446.3,75.1 446.5,74.9 446.6,74.7 446.7,74.5 446.8,74.1 447.0,73.7 447.1,73.1 447.2,72.6 447.3,71.9 447.5,71.2 447.6,70.4 447.7,69.6 447.8,68.7 448.0,67.7 448.1,66.7 448.2,65.7 448.3,64.6 448.5,63.5 448.6,62.3 448.7,61.2 448.8,60.0 449.0,58.8 449.1,57.6 449.2,56.4 449.3,55.2 449.5,54.1 449.6,52.9 449.7,51.8 449.8,50.7 450.0,49.6 450.1,48.6 450.2,47.6 450.3,46.6 450.5,45.7 450.6,44.9 450.7,44.1 450.9,43.4 451.0,42.8 451.1,42.2 451.2,41.7 451.4,41.3 451.5,41.0 451.6,40.7 451.7,40.5 451.9,40.4 452.0,40.4 452.1,40.5 452.2,40.6 452.4,40.8 452.5,41.2 452.6,41.6 452.7,42.0 452.9,42.6 453.0,43.2 453.1,43.9 453.2,44.6 453.4,45.4 453.5,46.3 453.6,47.3 453.7,48.2 453.9,49.3 454.0,50.3 454.1,51.4 454.2,52.6 454.4,53.7 454.5,54.9 454.6,56.1 454.7,57.3 454.9,58.5 455.0,59.7 455.1,60.9 455.2,62.1 455.4,63.2 455.5,64.4 455.6,65.5 455.7,66.5 455.9,67.6 456.0,68.5 456.1,69.5 456.2,70.3 456.4,71.1 456.5,71.9 456.6,72.6 456.7,73.2 456.9,73.7 457.0,74.1 457.1,74.5 457.3,74.8 457.4,75.0 457.5,75.1 457.6,75.2 457.8,75.1 457.9,75.0 458.0,74.8 458.1,74.5 458.3,74.2 458.4,73.7 458.5,73.2 458.6,72.6 458.8,71.9 458.9,71.1 459.0,70.3 459.1,69.5 459.3,68.5 459.4,67.6 459.5,66.5 459.6,65.5 459.8,64.3 459.9,63.2 460.0,62.0 460.1,60.9 460.3,59.6 460.4,58.4 460.5,57.2 460.6,56.0 460.8,54.8 460.9,53.6 461.0,52.4 461.1,51.3 461.3,50.2 461.4,49.1 461.5,48.1 461.6,47.1 461.8,46.1 461.9,45.2 462.0,44.4 462.1,43.7 462.3,43.0 462.4,42.4 462.5,41.8 462.6,41.4 462.8,41.0 462.9,40.7 463.0,40.5 463.1,40.3 463.3,40.3 463.4,40.3 463.5,40.5 463.7,40.7 463.8,41.0 463.9,41.4 464.0,41.8 464.2,42.4 464.3,43.0 464.4,43.7 464.5,44.4 464.7,45.2 464.8,46.1 464.9,47.1 465.0,48.1 465.2,49.1 465.3,50.2 465.4,51.3 465.5,52.5 465.7,53.7 465.8,54.9 465.9,56.1 466.0,57.3 466.2,58.5 466.3,59.8 466.4,61.0 466.5,62.2 466.7,63.4 466.8,64.5 466.9,65.6 467.0,66.7 467.2,67.7 467.3,68.7 467.4,69.7 467.5,70.5 467.7,71.3 467.8,72.1 467.9,72.8 468.0,73.4 468.2,73.9 468.3,74.3 468.4,74.7 468.5,75.0 468.7,75.1 468.8,75.2 468.9,75.3 469.0,75.2 469.2,75.0 469.3,74.8 469.4,74.5 469.6,74.0 469.7,73.6 469.8,73.0 469.9,72.3 470.1,71.6 470.2,70.8 470.3,70.0 470.4,69.0 470.6,68.1 470.7,67.0 470.8,66.0 470.9,64.9 471.1,63.7 471.2,62.5 471.3,61.3 471.4,60.1 471.6,58.9 471.7,57.6 471.8,56.4 471.9,55.1 472.1,53.9 472.2,52.7 472.3,51.5 472.4,50.4 472.6,49.3 472.7,48.2 472.8,47.2 472.9,46.2 473.1,45.3 473.2,44.5 473.3,43.7 473.4,43.0 473.6,42.4 473.7,41.8 473.8,41.3 473.9,40.9 474.1,40.6 474.2,40.4 474.3,40.3 474.4,40.2 474.6,40.3 474.7,40.4 474.8,40.6 474.9,40.9 475.1,41.3 475.2,41.8 475.3,42.3 475.4,43.0 475.6,43.7 475.7,44.5 475.8,45.3 476.0,46.2 476.1,47.2 476.2,48.2 476.3,49.3 476.5,50.4 476.6,51.5 476.7,52.7 476.8,53.9 477.0,55.2 477.1,56.4 477.2,57.7 477.3,58.9 477.5,60.2 477.6,61.4 477.7,62.6 477.8,63.8 478.0,65.0 478.1,66.1 478.2,67.2 478.3,68.2 478.5,69.2 478.6,70.1 478.7,71.0 478.8,71.8 479.0,72.5 479.1,73.2 479.2,73.7 479.3,74.2 479.5,74.6 479.6,74.9 479.7,75.2 479.8,75.3 480.0,75.3 480.1,75.3 480.2,75.2 480.3,75.0 480.5,74.6 480.6,74.3 480.7,73.8 480.8,73.2 481.0,72.6 481.1,71.9 481.2,71.1 481.3,70.2 481.5,69.3 481.6,68.3 481.7,67.3 481.8,66.2 482.0,65.0 482.1,63.9 482.2,62.7 482.4,61.4 482.5,60.2 482.6,58.9 482.7,57.7 482.9,56.4 483.0,55.2 483.1,53.9 483.2,52.7 483.4,51.5 483.5,50.3 483.6,49.2 483.7,48.1 483.9,47.1 484.0,46.1 484.1,45.2 484.2,44.3 484.4,43.5 484.5,42.8 484.6,42.2 484.7,41.6 484.9,41.2 485.0,40.8 485.1,40.5 485.2,40.3 485.4,40.2 485.5,40.1 485.6,40.2 485.7,40.4 485.9,40.6 486.0,40.9 486.1,41.4 486.2,41.9 486.4,42.5 486.5,43.1 486.6,43.9 486.7,44.7 486.9,45.6 487.0,46.6 487.1,47.6 487.2,48.6 487.4,49.8 487.5,50.9 487.6,52.1 487.7,53.3 487.9,54.6 488.0,55.8 488.1,57.1 488.2,58.4 488.4,59.7 488.5,60.9 488.6,62.2 488.8,63.4 488.9,64.6 489.0,65.8 489.1,66.9 489.3,67.9 489.4,69.0 489.5,69.9 489.6,70.8 489.8,71.7 489.9,72.4 490.0,73.1 490.1,73.7 490.3,74.2 490.4,74.6 490.5,75.0 490.6,75.2 490.8,75.4 490.9,75.4 491.0,75.4 491.1,75.3 491.3,75.1 491.4,74.8 491.5,74.4 491.6,73.9 491.8,73.3 491.9,72.7 492.0,71.9 492.1,71.1 492.3,70.2 492.4,69.3 492.5,68.3 492.6,67.2 492.8,66.1 492.9,65.0 493.0,63.8 493.1,62.5 493.3,61.3 493.4,60.0 493.5,58.7 493.6,57.5 493.8,56.2 493.9,54.9 494.0,53.6 494.1,52.4 494.3,51.2 494.4,50.0 494.5,48.8 494.7,47.8 494.8,46.7 494.9,45.7 495.0,44.8 495.2,44.0 495.3,43.2 495.4,42.5 495.5,41.9 495.7,41.3 495.8,40.9 495.9,40.5 496.0,40.3 496.2,40.1 496.3,40.0 496.4,40.1 496.5,40.2 496.7,40.4 496.8,40.7 496.9,41.1 497.0,41.6 497.2,42.1 497.3,42.8 497.4,43.5 497.5,44.3 497.7,45.2 497.8,46.1 497.9,47.2 498.0,48.2 498.2,49.3 498.3,50.5 498.4,51.7 498.5,53.0 498.7,54.2 498.8,55.5 498.9,56.8 499.0,58.1 499.2,59.4 499.3,60.7 499.4,62.0 499.5,63.2 499.7,64.4 499.8,65.6 499.9,66.8 500.0,67.9 500.2,68.9 500.3,69.9 500.4,70.8 500.5,71.7 500.7,72.4 500.8,73.1 500.9,73.7 501.1,74.3 501.2,74.7 501.3,75.0 501.4,75.3 501.6,75.4 501.7,75.5 501.8,75.5 501.9,75.3 502.1,75.1 502.2,74.8 502.3,74.4 502.4,73.9 502.6,73.3 502.7,72.6 502.8,71.9 502.9,71.1 503.1,70.2 503.2,69.2 503.3,68.2 503.4,67.1 503.6,66.0 503.7,64.8 503.8,63.6 503.9,62.3 504.1,61.0 504.2,59.8 504.3,58.5 504.4,57.2 504.6,55.9 504.7,54.6 504.8,53.3 504.9,52.0 505.1,50.8 505.2,49.6 505.3,48.5 505.4,47.4 505.6,46.4 505.7,45.4 505.8,44.5 505.9,43.7 506.1,42.9 506.2,42.2 506.3,41.7 506.4,41.2 506.6,40.7 506.7,40.4 506.8,40.2 506.9,40.1 507.1,40.0 507.2,40.1 507.3,40.2 507.5,40.5 507.6,40.8 507.7,41.3 507.8,41.8 508.0,42.4 508.1,43.1 508.2,43.9 508.3,44.8 508.5,45.7 508.6,46.7 508.7,47.7 508.8,48.8 509.0,50.0 509.1,51.2 509.2,52.4 509.3,53.7 509.5,55.0 509.6,56.3 509.7,57.6 509.8,58.9 510.0,60.2 510.1,61.5 510.2,62.8 510.3,64.0 510.5,65.2 510.6,66.4 510.7,67.5 510.8,68.6 511.0,69.6 511.1,70.5 511.2,71.4 511.3,72.2 511.5,72.9 511.6,73.6 511.7,74.1 511.8,74.6 512.0,74.9 512.1,75.2 512.2,75.4 512.3,75.5 512.5,75.4 512.6,75.3 512.7,75.1 512.8,74.8 513.0,74.4 513.1,73.9 513.2,73.3 513.4,72.6 513.5,71.9 513.6,71.1 513.7,70.2 513.9,69.2 514.0,68.1 514.1,67.0 514.2,65.9 514.4,64.7 514.5,63.5 514.6,62.2 514.7,60.9 514.9,59.6 515.0,58.3 515.1,57.0 515.2,55.7 515.4,54.4 515.5,53.1 515.6,51.8 515.7,50.6 515.9,49.4 516.0,48.3 516.1,47.2 516.2,46.2 516.4,45.2 516.5,44.3 516.6,43.5 516.7,42.8 516.9,42.1 517.0,41.5 517.1,41.0 517.2,40.7 517.4,40.4 517.5,40.2 517.6,40.1 517.7,40.1 517.9,40.2 518.0,40.4 518.1,40.7 518.2,41.1 518.4,41.6 518.5,42.2 518.6,42.8 518.7,43.6 518.9,44.4 519.0,45.3 519.1,46.3 519.2,47.3 519.4,48.4 519.5,49.6 519.6,50.8 519.8,52.0 519.9,53.3 520.0,54.5 520.1,55.9 520.3,57.2 520.4,58.5 520.5,59.8 520.6,61.1 520.8,62.4 520.9,63.7 521.0,64.9 521.1,66.1 521.3,67.3 521.4,68.3 521.5,69.4 521.6,70.3 521.8,71.2 521.9,72.1 522.0,72.8 522.1,73.5 522.3,74.0 522.4,74.5 522.5,74.9 522.6,75.2 522.8,75.3 522.9,75.4 523.0,75.4 523.1,75.3 523.3,75.1 523.4,74.8 523.5,74.4 523.6,73.9 523.8,73.3 523.9,72.6 524.0,71.8 524.1,71.0 524.3,70.0 524.4,69.1 524.5,68.0 524.6,66.9 524.8,65.7 524.9,64.5 525.0,63.3 525.1,62.0 525.3,60.7 525.4,59.4 525.5,58.0 525.6,56.7 525.8,55.4 525.9,54.1 526.0,52.8 526.2,51.5 526.3,50.3 526.4,49.1 526.5,48.0 526.7,46.9 526.8,45.9 526.9,44.9 527.0,44.0 527.2,43.2 527.3,42.5 527.4,41.9 527.5,41.4 527.7,40.9 527.8,40.6 527.9,40.3 528.0,40.2 528.2,40.1 528.3,40.2 528.4,40.3 528.5,40.6 528.7,40.9 528.8,41.4 528.9,41.9 529.0,42.6 529.2,43.3 529.3,44.1 529.4,45.0 529.5,45.9 529.7,47.0 529.8,48.1 529.9,49.2 530.0,50.4 530.2,51.6 530.3,52.9 530.4,54.2 530.5,55.5 530.7,56.9 530.8,58.2 530.9,59.5 531.0,60.9 531.2,62.2 531.3,63.4 531.4,64.7 531.5,65.9 531.7,67.1 531.8,68.2 531.9,69.2 532.0,70.2 532.2,71.1 532.3,72.0 532.4,72.7 532.6,73.4 532.7,74.0 532.8,74.4 532.9,74.8 533.1,75.1 533.2,75.3 533.3,75.4 533.4,75.4 533.6,75.3 533.7,75.0 533.8,74.7 533.9,74.3 534.1,73.8 534.2,73.2 534.3,72.5 534.4,71.7 534.6,70.8 534.7,69.9 534.8,68.9 534.9,67.8 535.1,66.6 535.2,65.5 535.3,64.2 535.4,63.0 535.6,61.7 535.7,60.3 535.8,59.0 535.9,57.7 536.1,56.3 536.2,55.0 536.3,53.7 536.4,52.4 536.6,51.1 536.7,49.9 536.8,48.7 536.9,47.6 537.1,46.5 537.2,45.5 537.3,44.6 537.4,43.7 537.6,42.9 537.7,42.3 537.8,41.7 537.9,41.2 538.1,40.8 538.2,40.5 538.3,40.3 538.5,40.2 538.6,40.2 538.7,40.3 538.8,40.5 539.0,40.8 539.1,41.2 539.2,41.8 539.3,42.4 539.5,43.1 539.6,43.8 539.7,44.7 539.8,45.7 540.0,46.7 540.1,47.7 540.2,48.9 540.3,50.1 540.5,51.3 540.6,52.6 540.7,53.9 540.8,55.2 541.0,56.6 541.1,57.9 541.2,59.3 541.3,60.6 541.5,61.9 541.6,63.2 541.7,64.5 541.8,65.7 542.0,66.9 542.1,68.1 542.2,69.1 542.3,70.1 542.5,71.1 542.6,71.9 542.7,72.7 542.8,73.3 543.0,73.9 543.1,74.4 543.2,74.8 543.3,75.1 543.5,75.3 543.6,75.4 543.7,75.3 543.8,75.2 544.0,75.0 544.1,74.6 544.2,74.2 544.3,73.7 544.5,73.0 544.6,72.3 544.7,71.5 544.9,70.6 545.0,69.7 545.1,68.6 545.2,67.5 545.4,66.4 545.5,65.2 545.6,63.9 545.7,62.6 545.9,61.3 546.0,60.0 546.1,58.6 546.2,57.3 546.4,55.9 546.5,54.6 546.6,53.2 546.7,51.9 546.9,50.7 547.0,49.4 547.1,48.3 547.2,47.2 547.4,46.1 547.5,45.1 547.6,44.2 547.7,43.4 547.9,42.7 548.0,42.0 548.1,41.5 548.2,41.0 548.4,40.7 548.5,40.4 548.6,40.3 548.7,40.2 548.9,40.3 549.0,40.5 549.1,40.7 549.2,41.1 549.4,41.6 549.5,42.2 549.6,42.8 549.7,43.6 549.9,44.4 550.0,45.4 550.1,46.4 550.2,47.4 550.4,48.6 550.5,49.8 550.6,51.0 550.7,52.3 550.9,53.6 551.0,54.9 551.1,56.3 551.3,57.7 551.4,59.0 551.5,60.4 551.6,61.7 551.8,63.0 551.9,64.3 552.0,65.6 552.1,66.8 552.3,67.9 552.4,69.0 552.5,70.0 552.6,71.0 552.8,71.8 552.9,72.6 553.0,73.3 553.1,73.9 553.3,74.4 553.4,74.8 553.5,75.1 553.6,75.2 553.8,75.3 553.9,75.3 554.0,75.2 554.1,74.9 554.3,74.6 554.4,74.1 554.5,73.6 554.6,72.9 554.8,72.2 554.9,71.4 555.0,70.5 555.1,69.5 555.3,68.4 555.4,67.3 555.5,66.1 555.6,64.9 555.8,63.6 555.9,62.3 556.0,61.0 556.1,59.6 556.3,58.2 556.4,56.9 556.5,55.5 556.6,54.1 556.8,52.8 556.9,51.5 557.0,50.3 557.1,49.0 557.3,47.9 557.4,46.8 557.5,45.7 557.7,44.8 557.8,43.9 557.9,43.1 558.0,42.4 558.2,41.8 558.3,41.3 558.4,40.9 558.5,40.6 558.7,40.4 558.8,40.3 558.9,40.3 559.0,40.4 559.2,40.6 559.3,41.0 559.4,41.4 559.5,42.0 559.7,42.6 559.8,43.3 559.9,44.2 560.0,45.1 560.2,46.0 560.3,47.1 560.4,48.2 560.5,49.4 560.7,50.7 560.8,51.9 560.9,53.2 561.0,54.6 561.2,56.0 561.3,57.3 561.4,58.7 561.5,60.1 561.7,61.4 561.8,62.8 561.9,64.1 562.0,65.4 562.2,66.6 562.3,67.7 562.4,68.8 562.5,69.9 562.7,70.8 562.8,71.7 562.9,72.5 563.0,73.2 563.2,73.8 563.3,74.3 563.4,74.7 563.5,75.0 563.7,75.2 563.8,75.3 563.9,75.3 564.1,75.1 564.2,74.9 564.3,74.5 564.4,74.1 564.6,73.5 564.7,72.9 564.8,72.1 564.9,71.3 565.1,70.3 565.2,69.3 565.3,68.3 565.4,67.1 565.6,65.9 565.7,64.7 565.8,63.4 565.9,62.0 566.1,60.7 566.2,59.3 566.3,57.9 566.4,56.5 566.6,55.2 566.7,53.8 566.8,52.5 566.9,51.2 567.1,49.9 567.2,48.7 567.3,47.5 567.4,46.5 567.6,45.4 567.7,44.5 567.8,43.6 567.9,42.9 568.1,42.2 568.2,41.6 568.3,41.1 568.4,40.8 568.6,40.5 568.7,40.4 568.8,40.3 568.9,40.4 569.1,40.6 569.2,40.8 569.3,41.2 569.4,41.7 569.6,42.3 569.7,43.0 569.8,43.8 570.0,44.7 570.1,45.7 570.2,46.7 570.3,47.8 570.5,49.0 570.6,50.2 570.7,51.5 570.8,52.8 571.0,54.1 571.1,55.5 571.2,56.9 571.3,58.3 571.5,59.7 571.6,61.1 571.7,62.4 571.8,63.7 572.0,65.0 572.1,66.3 572.2,67.5 572.3,68.6 572.5,69.7 572.6,70.6 572.7,71.5 572.8,72.4 573.0,73.1 573.1,73.7 573.2,74.2 573.3,74.7 573.5,75.0 573.6,75.2 573.7,75.3 573.8,75.2 574.0,75.1 574.1,74.9 574.2,74.5 574.3,74.1 574.5,73.5 574.6,72.8 574.7,72.1 574.8,71.2 575.0,70.3 575.1,69.3 575.2,68.2 575.3,67.0 575.5,65.8 575.6,64.5 575.7,63.2 575.8,61.9 576.0,60.5 576.1,59.1 576.2,57.7 576.4,56.3 576.5,54.9 576.6,53.5 576.7,52.2 576.9,50.8 577.0,49.6 577.1,48.3 577.2,47.2 577.4,46.1 577.5,45.1 577.6,44.1 577.7,43.3 577.9,42.6 578.0,41.9 578.1,41.4 578.2,41.0 578.4,40.6 578.5,40.4 578.6,40.4 578.7,40.4 578.9,40.5 579.0,40.8 579.1,41.2 579.2,41.6 579.4,42.2 579.5,42.9 579.6,43.7 579.7,44.6 579.9,45.6 580.0,46.6 580.1,47.7 580.2,48.9 580.4,50.2 580.5,51.5 580.6,52.8 580.7,54.2 580.9,55.6 581.0,57.0 581.1,58.5 581.2,59.9 581.4,61.3 581.5,62.7 581.6,64.0 581.7,65.3 581.9,66.6 582.0,67.8 582.1,68.9 582.2,70.0 582.4,71.0 582.5,71.8 582.6,72.6 582.8,73.3 582.9,73.9 583.0,74.4 583.1,74.8 583.3,75.1 583.4,75.2 583.5,75.2 583.6,75.1 583.8,74.9 583.9,74.6 584.0,74.2 584.1,73.6 584.3,73.0 584.4,72.2 584.5,71.4 584.6,70.5 584.8,69.4 584.9,68.3 585.0,67.2 585.1,65.9 585.3,64.6 585.4,63.3 585.5,61.9 585.6,60.5 585.8,59.1 585.9,57.7 586.0,56.3 586.1,54.8 586.3,53.4 586.4,52.1 586.5,50.7 586.6,49.5 586.8,48.2 586.9,47.1 587.0,46.0 587.1,45.0 587.3,44.1 587.4,43.2 587.5,42.5 587.6,41.9 587.8,41.3 587.9,40.9 588.0,40.6 588.1,40.5 588.3,40.4 588.4,40.5 588.5,40.6 588.6,40.9 588.8,41.3 588.9,41.8 589.0,42.5 589.2,43.2 589.3,44.0 589.4,44.9 589.5,45.9 589.7,47.0 589.8,48.2 589.9,49.4 590.0,50.7 590.2,52.0 590.3,53.4 590.4,54.8 590.5,56.2 590.7,57.7 590.8,59.1 590.9,60.5 591.0,61.9 591.2,63.3 591.3,64.7 591.4,66.0 591.5,67.2 591.7,68.4 591.8,69.5 591.9,70.5 592.0,71.4 592.2,72.3 592.3,73.0 592.4,73.7 592.5,74.2 592.7,74.6 592.8,74.9 592.9,75.1 593.0,75.2 593.2,75.2 593.3,75.0 593.4,74.7 593.5,74.3 593.7,73.8 593.8,73.2 593.9,72.4 594.0,71.6 594.2,70.7 594.3,69.7 594.4,68.6 594.5,67.4 594.7,66.2 594.8,64.9 594.9,63.6 595.1,62.2 595.2,60.8 595.3,59.3 595.4,57.9 595.6,56.5 595.7,55.0 595.8,53.6 595.9,52.2 596.1,50.9 596.2,49.6 596.3,48.3 596.4,47.2 596.6,46.0 596.7,45.0 596.8,44.1 596.9,43.2 597.1,42.5 597.2,41.9 597.3,41.3 597.4,40.9 597.6,40.6 597.7,40.5 597.8,40.4 597.9,40.5 598.1,40.6 598.2,40.9 598.3,41.4 598.4,41.9 598.6,42.5 598.7,43.3 598.8,44.1 598.9,45.1 599.1,46.1 599.2,47.2 599.3,48.4 599.4,49.7 599.6,51.0 599.7,52.3 599.8,53.7 599.9,55.1 600.1,56.6 600.2,58.0 600.3,59.5 600.4,60.9 600.6,62.3 600.7,63.7 600.8,65.0 600.9,66.3 601.1,67.6 601.2,68.7 601.3,69.8 601.5,70.8 601.6,71.7 601.7,72.6 601.8,73.3 602.0,73.9 602.1,74.4 602.2,74.7 602.3,75.0 602.5,75.1 602.6,75.2 602.7,75.1 602.8,74.8 603.0,74.5 603.1,74.0 603.2,73.5 603.3,72.8 603.5,72.0 603.6,71.1 603.7,70.1 603.8,69.1 604.0,67.9 604.1,66.7 604.2,65.4 604.3,64.1 604.5,62.7 604.6,61.3 604.7,59.8 604.8,58.4 605.0,56.9 605.1,55.5 605.2,54.1 605.3,52.6 605.5,51.3 605.6,49.9 605.7,48.7 605.8,47.5 606.0,46.3 606.1,45.3 606.2,44.3 606.3,43.4 606.5,42.7 606.6,42.0 606.7,41.4 606.8,41.0 607.0,40.7 607.1,40.5 607.2,40.4 607.3,40.4 607.5,40.6 607.6,40.9 607.7,41.3 607.9,41.8 608.0,42.5 608.1,43.2 608.2,44.1 608.4,45.0 608.5,46.0 608.6,47.2 608.7,48.4 608.9,49.6 609.0,50.9 609.1,52.3 609.2,53.7 609.4,55.1 609.5,56.6 609.6,58.1 609.7,59.5 609.9,61.0 610.0,62.4 610.1,63.8 610.2,65.1 610.4,66.4 610.5,67.7 610.6,68.8 610.7,69.9 610.9,70.9 611.0,71.8 611.1,72.6 611.2,73.3 611.4,73.9 611.5,74.4 611.6,74.8 611.7,75.0 611.9,75.1 612.0,75.1 612.1,75.0 612.2,74.7 612.4,74.4 612.5,73.9 612.6,73.2 612.7,72.5 612.9,71.7 613.0,70.8 613.1,69.8 613.2,68.7 613.4,67.5 613.5,66.2 613.6,64.9 613.8,63.5 613.9,62.1 614.0,60.7 614.1,59.2 614.3,57.8 614.4,56.3 614.5,54.8 614.6,53.4 614.8,52.0 614.9,50.6 615.0,49.3 615.1,48.1 615.3,46.9 615.4,45.8 615.5,44.8 615.6,43.8 615.8,43.0 615.9,42.3 616.0,41.7 616.1,41.2 616.3,40.8 616.4,40.6 616.5,40.4 616.6,40.4 616.8,40.6 616.9,40.8 617.0,41.2 617.1,41.7 617.3,42.3 617.4,43.0 617.5,43.8 617.6,44.8 617.8,45.8 617.9,46.9 618.0,48.1 618.1,49.3 618.3,50.6 618.4,52.0 618.5,53.4 618.6,54.9 618.8,56.3 618.9,57.8 619.0,59.3 619.1,60.7 619.3,62.2 619.4,63.6 619.5,65.0 619.6,66.3 619.8,67.5 619.9,68.7 620.0,69.8 620.2,70.8 620.3,71.7 620.4,72.6 620.5,73.3 620.7,73.9 620.8,74.4 620.9,74.7 621.0,75.0 621.2,75.1 621.3,75.1 621.4,75.0 621.5,74.7 621.7,74.3 621.8,73.8 621.9,73.2 622.0,72.5 622.2,71.6 622.3,70.7 622.4,69.7 622.5,68.6 622.7,67.4 622.8,66.1 622.9,64.8 623.0,63.4 623.2,62.0 623.3,60.6 623.4,59.1 623.5,57.7 623.7,56.2 623.8,54.8 623.9,53.3 624.0,51.9 624.2,50.6 624.3,49.3 624.4,48.0 624.5,46.9 624.7,45.8 624.8,44.8 624.9,43.9 625.0,43.1 625.2,42.5 625.3,41.9 625.4,41.4 625.5,41.1 625.7,40.9 625.8,40.8 625.9,40.9 626.0,41.1 626.2,41.3 626.3,41.8 626.4,42.3 626.6,42.9 626.7,43.7 626.8,44.6 626.9,45.5 627.1,46.6 627.2,47.7 627.3,48.9 627.4,50.2 627.6,51.5 627.7,52.9 627.8,54.3 627.9,55.7 628.1,57.1 628.2,58.6 628.3,60.0 628.4,61.4 628.6,62.8 628.7,64.2 628.8,65.5 628.9,66.8 629.1,67.9 629.2,69.1 629.3,70.1 629.4,71.0 629.6,71.8 629.7,72.6 629.8,73.2 629.9,73.7 630.1,74.1 630.2,74.3 630.3,74.5 630.4,74.5 630.6,74.4 630.7,74.2 630.8,73.8 630.9,73.3 631.1,72.8 631.2,72.1 631.3,71.3 631.4,70.4 631.6,69.4 631.7,68.3 631.8,67.1 631.9,65.9 632.1,64.6 632.2,63.3 632.3,61.9 632.4,60.5 632.6,59.1 632.7,57.6 632.8,56.2 633.0,54.8 633.1,53.4 633.2,52.0 633.3,50.7 633.5,49.4 633.6,48.2 633.7,47.1 633.8,46.1 634.0,45.1 634.1,44.2 634.2,43.5 634.3,42.8 634.5,42.3 634.6,41.8 634.7,41.5 634.8,41.3 635.0,41.3 635.1,41.3 635.2,41.5 635.3,41.8 635.5,42.2 635.6,42.8 635.7,43.4 635.8,44.2 636.0,45.0 636.1,46.0 636.2,47.0 636.3,48.1 636.5,49.3 636.6,50.6 636.7,51.9 636.8,53.2 637.0,54.6 637.1,56.0 637.2,57.4 637.3,58.8 637.5,60.3 637.6,61.6 637.7,63.0 637.8,64.3 638.0,65.6 638.1,66.8 638.2,68.0 638.3,69.0 638.5,70.0 638.6,70.9 638.7,71.7 638.9,72.3 639.0,72.9 639.1,73.4 639.2,73.7 639.4,73.9 639.5,74.0 639.6,74.0 639.7,73.8 639.9,73.6 640.0,73.2 640.1,72.7 640.2,72.1 640.4,71.3 640.5,70.5 640.6,69.6 640.7,68.6 640.9,67.5 641.0,66.3 641.1,65.1 641.2,63.8 641.4,62.4 641.5,61.1 641.6,59.7 641.7,58.3 641.9,56.9 642.0,55.5 642.1,54.1 642.2,52.8 642.4,51.4 642.5,50.2 642.6,49.0 642.7,47.8 642.9,46.8 643.0,45.8 643.1,44.9 643.2,44.1 643.4,43.5 643.5,42.9 643.6,42.4 643.7,42.1 643.9,41.9 644.0,41.8 644.1,41.8 644.2,42.0 644.4,42.2 644.5,42.6 644.6,43.1 644.7,43.8 644.9,44.5 645.0,45.3 645.1,46.2 645.3,47.2 645.4,48.3 645.5,49.5 645.6,50.7 645.8,52.0 645.9,53.3 646.0,54.7 646.1,56.1 646.3,57.5 646.4,58.9 646.5,60.2 646.6,61.6 646.8,62.9 646.9,64.2 647.0,65.5 647.1,66.7 647.3,67.8 647.4,68.8 647.5,69.8 647.6,70.7 647.8,71.4 647.9,72.1 648.0,72.6 648.1,73.1 648.3,73.4 648.4,73.6 648.5,73.7 648.6,73.6 648.8,73.5 648.9,73.2 649.0,72.8 649.1,72.2 649.3,71.6 649.4,70.9 649.5,70.0 649.6,69.1 649.8,68.1 649.9,67.0 650.0,65.8 650.1,64.6 650.3,63.3 650.4,62.0 650.5,60.7 650.6,59.3 650.8,57.9 650.9,56.6 651.0,55.2 651.1,53.8 651.3,52.5 651.4,51.3 651.5,50.0 651.7,48.9 651.8,47.8 651.9,46.8 652.0,45.9 652.2,45.0 652.3,44.3 652.4,43.7 652.5,43.2 652.7,42.8 652.8,42.5 652.9,42.3 653.0,42.3 653.2,42.4 653.3,42.6 653.4,42.9 653.5,43.4 653.7,43.9 653.8,44.6 653.9,45.3 654.0,46.2 654.2,47.1 654.3,48.2 654.4,49.3 654.5,50.5 654.7,51.7 654.8,53.0 654.9,54.3 655.0,55.6 655.2,57.0 655.3,58.4 655.4,59.7 655.5,61.1 655.7,62.4 655.8,63.7 655.9,64.9 656.0,66.1 656.2,67.2 656.3,68.3 656.4,69.2 656.5,70.1 656.7,70.9 656.8,71.5 656.9,72.1 657.0,72.6 657.2,72.9 657.3,73.1 657.4,73.2 657.5,73.2 657.7,73.1 657.8,72.8 657.9,72.4 658.1,71.9 658.2,71.3 658.3,70.6 658.4,69.8 658.6,68.9 658.7,67.9 658.8,66.9 658.9,65.8 659.1,64.6 659.2,63.3 659.3,62.0 659.4,60.7 659.6,59.4 659.7,58.0 659.8,56.7 659.9,55.3 660.1,54.0 660.2,52.7 660.3,51.5 660.4,50.3 660.6,49.2 660.7,48.1 660.8,47.1 660.9,46.2 661.1,45.4 661.2,44.7 661.3,44.1 661.4,43.6 661.6,43.3 661.7,43.0 661.8,42.8 661.9,42.8 662.1,42.9 662.2,43.1 662.3,43.5 662.4,43.9 662.6,44.5 662.7,45.1 662.8,45.9 662.9,46.8 663.1,47.7 663.2,48.7 663.3,49.8 663.4,51.0 663.6,52.2 663.7,53.5 663.8,54.8 664.0,56.1 664.1,57.4 664.2,58.8 664.3,60.1 664.5,61.4 664.6,62.7 664.7,63.9 664.8,65.1 665.0,66.2 665.1,67.3 665.2,68.3 665.3,69.2 665.5,70.0 665.6,70.7 665.7,71.3 665.8,71.9 666.0,72.2 666.1,72.5 666.2,72.7 666.3,72.7 666.5,72.7 666.6,72.5 666.7,72.2 666.8,71.7 667.0,71.2 667.1,70.6 667.2,69.8 667.3,69.0 667.5,68.1 667.6,67.1 667.7,66.0 667.8,64.9 668.0,63.7 668.1,62.4 668.2,61.2 668.3,59.9 668.5,58.5 668.6,57.2 668.7,55.9 668.8,54.6 669.0,53.4 669.1,52.1 669.2,50.9 669.3,49.8 669.5,48.8 669.6,47.8 669.7,46.9 669.8,46.1 670.0,45.3 670.1,44.7 670.2,44.2 670.4,43.8 670.5,43.5 670.6,43.4 670.7,43.3 670.9,43.4 671.0,43.6 671.1,43.9 671.2,44.3 671.4,44.8 671.5,45.4 671.6,46.1 671.7,47.0 671.9,47.9 672.0,48.8 672.1,49.9 672.2,51.0 672.4,52.2 672.5,53.4 672.6,54.7 672.7,56.0 672.9,57.3 673.0,58.6 673.1,59.9 673.2,61.1 673.4,62.4 673.5,63.6 673.6,64.8 673.7,65.9 673.9,66.9 674.0,67.9 674.1,68.8 674.2,69.6 674.4,70.3 674.5,70.9 674.6,71.4 674.7,71.8 674.9,72.1 675.0,72.3 675.1,72.3 675.2,72.2 675.4,72.0 675.5,71.7 675.6,71.3 675.7,70.8 675.9,70.1 676.0,69.4 676.1,68.6 676.2,67.7 676.4,66.7 676.5,65.6" fill="none" stroke="#ff0000" stroke-width="1" marker-mid="url(#cir)"/>
<polyline points="425.5,59.5 425.8,59.5 426.0,59.6 426.3,59.6 426.5,59.5 426.8,59.3 427.0,59.1 427.3,58.8 427.5,58.4 427.8,58.0 428.0,57.6 428.3,57.2 428.5,56.8 428.8,56.5 429.0,56.2 429.3,56.1 429.5,56.0 429.8,56.0 430.0,56.1 430.3,56.3 430.5,56.8 430.8,57.4 431.0,58.1 431.3,58.9 431.5,59.8 431.8,60.8 432.0,61.9 432.3,63.0 432.5,64.2 432.8,65.3 433.0,66.5 433.3,67.6 433.5,68.6 433.8,69.6 434.0,70.4 434.3,71.0 434.5,71.5 434.8,71.6 435.0,71.5 435.3,71.1 435.5,70.6 435.8,69.9 436.0,68.9 436.3,67.8 436.5,66.6 436.8,65.2 437.0,63.7 437.3,62.0 437.5,60.4 437.8,58.6 438.1,56.9 438.3,55.2 438.6,53.5 438.8,52.0 439.1,50.5 439.3,49.2 439.6,48.1 439.8,47.1 440.1,46.4 440.3,46.0 440.6,45.9 440.8,46.0 441.1,46.4 441.3,47.1 441.6,48.0 441.8,49.2 442.1,50.5 442.3,52.1 442.6,53.8 442.8,55.7 443.1,57.7 443.3,59.7 443.6,61.8 443.8,63.8 444.1,65.8 444.3,67.8 444.6,69.6 444.8,71.2 445.1,72.6 445.3,73.9 445.6,74.8 445.8,75.4 446.1,75.7 446.3,75.8 446.6,75.5 446.8,74.9 447.1,74.0 447.3,72.8 447.6,71.4 447.8,69.7 448.1,67.8 448.3,65.7 448.6,63.5 448.8,61.1 449.1,58.8 449.3,56.4 449.6,54.0 449.8,51.7 450.1,49.5 450.3,47.5 450.6,45.6 450.9,44.0 451.1,42.7 451.4,41.7 451.6,41.1 451.9,40.8 452.1,40.8 452.4,41.2 452.6,41.9 452.9,43.0 453.1,44.3 453.4,45.9 453.6,47.8 453.9,49.8 454.1,52.1 454.4,54.4 454.6,56.9 454.9,59.3 455.1,61.8 455.4,64.2 455.6,66.5 455.9,68.7 456.1,70.6 456.4,72.3 456.6,73.8 456.9,75.0 457.1,75.9 457.4,76.4 457.6,76.6 457.9,76.4 458.1,75.9 458.4,75.1 458.6,73.9 458.9,72.5 459.1,70.7 459.4,68.8 459.6,66.6 459.9,64.3 460.1,61.9 460.4,59.4 460.6,56.9 460.9,54.4 461.1,52.1 461.4,49.8 461.6,47.7 461.9,45.8 462.1,44.2 462.4,42.9 462.6,41.8 462.9,41.1 463.1,40.8 463.4,40.8 463.7,41.1 463.9,41.8 464.2,42.8 464.4,44.1 464.7,45.8 464.9,47.7 465.2,49.8 465.4,52.1 465.7,54.5 465.9,57.0 466.2,59.6 466.4,62.1 466.7,64.6 466.9,67.0 467.2,69.2 467.4,71.2 467.7,73.0 467.9,74.5 468.2,75.6 468.4,76.5 468.7,77.0 468.9,77.1 469.2,76.9 469.4,76.3 469.7,75.4 469.9,74.1 470.2,72.5 470.4,70.6 470.7,68.5 470.9,66.2 471.2,63.7 471.4,61.2 471.7,58.6 471.9,55.9 472.2,53.4 472.4,50.9 472.7,48.6 472.9,46.5 473.2,44.6 473.4,43.0 473.7,41.7 473.9,40.8 474.2,40.2 474.4,40.0 474.7,40.1 474.9,40.7 475.2,41.6 475.4,42.9 475.7,44.4 476.0,46.3 476.2,48.4 476.5,50.8 476.7,53.3 477.0,55.9 477.2,58.6 477.5,61.3 477.7,63.9 478.0,66.4 478.2,68.8 478.5,71.0 478.7,72.9 479.0,74.6 479.2,75.9 479.5,76.9 479.7,77.5 480.0,77.7 480.2,77.5 480.5,76.9 480.7,76.0 481.0,74.7 481.2,73.1 481.5,71.1 481.7,69.0 482.0,66.5 482.2,64.0 482.5,61.3 482.7,58.5 483.0,55.8 483.2,53.1 483.5,50.5 483.7,48.1 484.0,45.8 484.2,43.9 484.5,42.2 484.7,40.9 485.0,40.0 485.2,39.4 485.5,39.2 485.7,39.5 486.0,40.1 486.2,41.1 486.5,42.5 486.7,44.2 487.0,46.2 487.2,48.5 487.5,51.0 487.7,53.7 488.0,56.5 488.2,59.3 488.5,62.1 488.8,64.8 489.0,67.4 489.3,69.9 489.5,72.1 489.8,74.0 490.0,75.6 490.3,76.8 490.5,77.7 490.8,78.1 491.0,78.2 491.3,77.8 491.5,77.0 491.8,75.9 492.0,74.3 492.3,72.5 492.5,70.3 492.8,67.9 493.0,65.2 493.3,62.4 493.5,59.6 493.8,56.7 494.0,53.8 494.3,51.0 494.5,48.4 494.8,46.0 495.0,43.8 495.3,41.9 495.5,40.4 495.8,39.3 496.0,38.6 496.3,38.3 496.5,38.4 496.8,39.0 497.0,40.0 497.3,41.3 497.5,43.1 497.8,45.1 498.0,47.5 498.3,50.1 498.5,52.9 498.8,55.8 499.0,58.7 499.3,61.7 499.5,64.6 499.8,67.3 500.0,69.9 500.3,72.2 500.5,74.3 500.8,76.0 501.1,77.3 501.3,78.2 501.6,78.7 501.8,78.7 502.1,78.3 502.3,77.5 502.6,76.2 502.8,74.6 503.1,72.6 503.3,70.3 503.6,67.8 503.8,65.0 504.1,62.0 504.3,59.0 504.6,56.0 504.8,53.0 505.1,50.1 505.3,47.4 505.6,44.9 505.8,42.6 506.1,40.8 506.3,39.3 506.6,38.2 506.8,37.5 507.1,37.3 507.3,37.5 507.6,38.2 507.8,39.3 508.1,40.8 508.3,42.7 508.6,45.0 508.8,47.6 509.1,50.4 509.3,53.3 509.6,56.4 509.8,59.5 510.1,62.6 510.3,65.5 510.6,68.4 510.8,71.0 511.1,73.3 511.3,75.3 511.6,76.9 511.8,78.1 512.1,78.8 512.3,79.1 512.6,79.0 512.8,78.4 513.1,77.3 513.4,75.8 513.6,74.0 513.9,71.7 514.1,69.2 514.4,66.5 514.6,63.5 514.9,60.4 515.1,57.3 515.4,54.2 515.6,51.2 515.9,48.3 516.1,45.7 516.4,43.3 516.6,41.3 516.9,39.6 517.1,38.4 517.4,37.6 517.6,37.3 517.9,37.4 518.1,38.0 518.4,39.0 518.6,40.5 518.9,42.4 519.1,44.6 519.4,47.2 519.6,50.0 519.9,53.0 520.1,56.1 520.4,59.2 520.6,62.4 520.9,65.4 521.1,68.3 521.4,71.0 521.6,73.4 521.9,75.4 522.1,77.1 522.4,78.3 522.6,79.1 522.9,79.4 523.1,79.3 523.4,78.7 523.6,77.6 523.9,76.1 524.1,74.2 524.4,71.9 524.6,69.3 524.9,66.5 525.1,63.5 525.4,60.3 525.6,57.2 525.9,54.0 526.2,51.0 526.4,48.1 526.7,45.4 526.9,43.1 527.2,41.1 527.4,39.5 527.7,38.3 527.9,37.6 528.2,37.4 528.4,37.6 528.7,38.4 528.9,39.5 529.2,41.2 529.4,43.2 529.7,45.6 529.9,48.3 530.2,51.2 530.4,54.3 530.7,57.4 530.9,60.7 531.2,63.8 531.4,66.9 531.7,69.7 531.9,72.3 532.2,74.6 532.4,76.5 532.7,78.0 532.9,79.1 533.2,79.6 533.4,79.7 533.7,79.3 533.9,78.5 534.2,77.1 534.4,75.3 534.7,73.2 534.9,70.7 535.2,67.9 535.4,64.9 535.7,61.7 535.9,58.5 536.2,55.3 536.4,52.1 536.7,49.2 536.9,46.4 537.2,43.9 537.4,41.8 537.7,40.0 537.9,38.7 538.2,37.9 538.5,37.5 538.7,37.6 539.0,38.3 539.2,39.4 539.5,41.0 539.7,43.0 540.0,45.3 540.2,48.0 540.5,50.9 540.7,54.1 541.0,57.3 541.2,60.6 541.5,63.8 541.7,66.9 542.0,69.8 542.2,72.5 542.5,74.8 542.7,76.8 543.0,78.3 543.2,79.4 543.5,80.0 543.7,80.0 544.0,79.6 544.2,78.7 544.5,77.3 544.7,75.5 545.0,73.2 545.2,70.7 545.5,67.8 545.7,64.7 546.0,61.5 546.2,58.2 546.5,55.0 546.7,51.8 547.0,48.8 547.2,46.0 547.5,43.5 547.7,41.5 548.0,39.8 548.2,38.6 548.5,37.8 548.7,37.6 549.0,37.9 549.2,38.7 549.5,40.0 549.7,41.7 550.0,43.9 550.2,46.4 550.5,49.2 550.7,52.3 551.0,55.5 551.3,58.8 551.5,62.1 551.8,65.4 552.0,68.4 552.3,71.3 552.5,73.9 552.8,76.1 553.0,77.9 553.3,79.2 553.5,80.0 553.8,80.4 554.0,80.2 554.3,79.5 554.5,78.3 554.8,76.6 555.0,74.5 555.3,72.0 555.5,69.2 555.8,66.2 556.0,62.9 556.3,59.6 556.5,56.3 556.8,53.0 557.0,49.9 557.3,47.0 557.5,44.4 557.8,42.1 558.0,40.3 558.3,39.0 558.5,38.1 558.8,37.7 559.0,37.9 559.3,38.6 559.5,39.8 559.8,41.5 560.0,43.6 560.3,46.1 560.5,48.9 560.8,52.0 561.0,55.2 561.3,58.6 561.5,62.0 561.8,65.3 562.0,68.4 562.3,71.4 562.5,74.0 562.8,76.2 563.0,78.1 563.3,79.4 563.5,80.3 563.8,80.6 564.1,80.4 564.3,79.7 564.6,78.4 564.8,76.7 565.1,74.5 565.3,72.0 565.6,69.1 565.8,66.0 566.1,62.7 566.3,59.3 566.6,55.9 566.8,52.6 567.1,49.5 567.3,46.6 567.6,44.1 567.8,41.9 568.1,40.1 568.3,38.8 568.6,38.1 568.8,37.8 569.1,38.1 569.3,39.0 569.6,40.3 569.8,42.1 570.1,44.3 570.3,46.9 570.6,49.8 570.8,53.0 571.1,56.3 571.3,59.6 571.6,63.0 571.8,66.2 572.1,69.3 572.3,72.1 572.6,74.5 572.8,76.6 573.1,78.2 573.3,79.4 573.6,80.0 573.8,80.0 574.1,79.6 574.3,78.6 574.6,77.1 574.8,75.1 575.1,72.8 575.3,70.1 575.6,67.1 575.8,63.9 576.1,60.5 576.4,57.1 576.6,53.8 576.9,50.5 577.1,47.5 577.4,44.8 577.6,42.5 577.9,40.6 578.1,39.2 578.4,38.3 578.6,37.9 578.9,38.1 579.1,38.9 579.4,40.2 579.6,42.0 579.9,44.2 580.1,46.8 580.4,49.7 580.6,52.9 580.9,56.2 581.1,59.6 581.4,63.0 581.6,66.2 581.9,69.3 582.1,72.1 582.4,74.5 582.6,76.5 582.9,78.0 583.1,79.0 583.4,79.5 583.6,79.4 583.9,78.8 584.1,77.6 584.4,75.9 584.6,73.8 584.9,71.3 585.1,68.4 585.4,65.3 585.6,62.0 585.9,58.6 586.1,55.2 586.4,51.9 586.6,48.8 586.9,46.0 587.1,43.5 587.4,41.4 587.6,39.8 587.9,38.7 588.1,38.1 588.4,38.1 588.6,38.7 588.9,39.8 589.2,41.4 589.4,43.5 589.7,46.0 589.9,48.8 590.2,51.9 590.4,55.2 590.7,58.6 590.9,61.9 591.2,65.2 591.4,68.3 591.7,71.1 591.9,73.6 592.2,75.6 592.4,77.2 592.7,78.3 592.9,78.9 593.2,78.9 593.4,78.4 593.7,77.3 593.9,75.7 594.2,73.7 594.4,71.3 594.7,68.5 594.9,65.5 595.2,62.3 595.4,59.0 595.7,55.7 595.9,52.5 596.2,49.5 596.4,46.8 596.7,44.4 596.9,42.4 597.2,40.9 597.4,39.8 597.7,39.3 597.9,39.4 598.2,40.0 598.4,41.1 598.7,42.7 598.9,44.7 599.2,47.1 599.4,49.9 599.7,52.9 599.9,56.0 600.2,59.3 600.4,62.5 600.7,65.6 600.9,68.5 601.2,71.2 601.5,73.5 601.7,75.4 602.0,76.9 602.2,77.8 602.5,78.2 602.7,78.1 603.0,77.5 603.2,76.3 603.5,74.7 603.7,72.6 604.0,70.2 604.2,67.4 604.5,64.5 604.7,61.4 605.0,58.2 605.2,55.1 605.5,52.1 605.7,49.3 606.0,46.7 606.2,44.6 606.5,42.8 606.7,41.5 607.0,40.7 607.2,40.5 607.5,40.7 607.7,41.5 608.0,42.8 608.2,44.5 608.5,46.6 608.7,49.1 609.0,51.9 609.2,54.9 609.5,58.0 609.7,61.1 610.0,64.1 610.2,67.0 610.5,69.7 610.7,72.1 611.0,74.1 611.2,75.7 611.5,76.8 611.7,77.4 612.0,77.5 612.2,77.0 612.5,76.1 612.7,74.7 613.0,72.9 613.2,70.6 613.5,68.1 613.8,65.3 614.0,62.3 614.3,59.3 614.5,56.3 614.8,53.4 615.0,50.6 615.3,48.1 615.5,45.9 615.8,44.2 616.0,42.8 616.3,42.0 616.5,41.6 616.8,41.8 617.0,42.4 617.3,43.6 617.5,45.2 617.8,47.2 618.0,49.5 618.3,52.2 618.5,55.0 618.8,57.9 619.0,60.9 619.3,63.8 619.5,66.6 619.8,69.2 620.0,71.5 620.3,73.4 620.5,75.0 620.8,76.0 621.0,76.6 621.3,76.7 621.5,76.3 621.8,75.4 622.0,74.1 622.3,72.3 622.5,70.2 622.8,67.7 623.0,65.1 623.3,62.2 623.5,59.4 623.8,56.5 624.0,53.7 624.3,51.1 624.5,48.8 624.8,46.8 625.0,45.1 625.3,43.9 625.5,43.2 625.8,43.0 626.0,43.2 626.3,43.9 626.6,45.1 626.8,46.7 627.1,48.7 627.3,51.0 627.6,53.5 627.8,56.2 628.1,59.0 628.3,61.8 628.6,64.5 628.8,67.1 629.1,69.5 629.3,71.5 629.6,73.2 629.8,74.5 630.1,75.4 630.3,75.7 630.6,75.6 630.8,75.1 631.1,74.1 631.3,72.6 631.6,70.8 631.8,68.7 632.1,66.3 632.3,63.7 632.6,61.0 632.8,58.3 633.1,55.6 633.3,53.1 633.6,50.8 633.8,48.7 634.1,47.0 634.3,45.7 634.6,44.8 634.8,44.3 635.1,44.3 635.3,44.8 635.6,45.7 635.8,47.0 636.1,48.7 636.3,50.7 636.6,53.0 636.8,55.5 637.1,58.1 637.3,60.8 637.6,63.4 637.8,65.9 638.1,68.2 638.3,70.2 638.6,71.9 638.9,73.3 639.1,74.2 639.4,74.7 639.6,74.7 639.9,74.3 640.1,73.5 640.4,72.2 640.6,70.6 640.9,68.6 641.1,66.4 641.4,64.0 641.6,61.5 641.9,58.9 642.1,56.3 642.4,53.9 642.6,51.6 642.9,49.6 643.1,48.0 643.4,46.6 643.6,45.7 643.9,45.2 644.1,45.2 644.4,45.6 644.6,46.4 644.9,47.6 645.1,49.2 645.4,51.1 645.6,53.3 645.9,55.7 646.1,58.2 646.4,60.7 646.6,63.2 646.9,65.6 647.1,67.8 647.4,69.7 647.6,71.4 647.9,72.7 648.1,73.5 648.4,74.0 648.6,74.0 648.9,73.6 649.1,72.8 649.4,71.6 649.6,70.0 649.9,68.1 650.1,65.9 650.4,63.6 650.6,61.2 650.9,58.7 651.1,56.3 651.4,54.0 651.7,51.8 651.9,50.0 652.2,48.4 652.4,47.2 652.7,46.4 652.9,46.0 653.2,46.1 653.4,46.6 653.7,47.5 653.9,48.7 654.2,50.4 654.4,52.3 654.7,54.4 654.9,56.7 655.2,59.2 655.4,61.6 655.7,64.0 655.9,66.2 656.2,68.2 656.4,70.0 656.7,71.5 656.9,72.6 657.2,73.3 657.4,73.6 657.7,73.4 657.9,72.8 658.2,71.9 658.4,70.5 658.7,68.9 658.9,67.0 659.2,64.8 659.4,62.5 659.7,60.1 659.9,57.8 660.2,55.5 660.4,53.4 660.7,51.4 660.9,49.8 661.2,48.5 661.4,47.5 661.7,47.0 661.9,46.9 662.2,47.1 662.4,47.8 662.7,48.9 662.9,50.3 663.2,52.1 663.4,54.1 663.7,56.2 664.0,58.5 664.2,60.9 664.5,63.2 664.7,65.4 665.0,67.4 665.2,69.2 665.5,70.7 665.7,71.8 666.0,72.6 666.2,73.0 666.5,73.0 666.7,72.5 667.0,71.7 667.2,70.5 667.5,69.0 667.7,67.2 668.0,65.2 668.2,63.0 668.5,60.8 668.7,58.5 669.0,56.3 669.2,54.2 669.5,52.3 669.7,50.7 670.0,49.4 670.2,48.4 670.5,47.9 670.7,47.7 671.0,47.9 671.2,48.5 671.5,49.5 671.7,50.8 672.0,52.5 672.2,54.4 672.5,56.4 672.7,58.6 673.0,60.9 673.2,63.1 673.5,65.2 673.7,67.1 674.0,68.8 674.2,70.3 674.5,71.4 674.7,72.1 675.0,72.5 675.2,72.5 675.5,72.0 675.7,71.2 676.0,70.0 676.2,68.5 676.5,66.8" fill="none" stroke="#00ff00" stroke-width="2.1"/>
<polyline points="425.5,59.5 425.8,59.5 426.0,59.5 426.3,59.5 426.5,59.6 426.8,59.5 427.0,59.4 427.3,59.2 427.5,59.0 427.8,58.8 428.0,58.6 428.3,58.4 428.5,58.2 428.8,58.0 429.0,57.8 429.3,57.7 429.5,57.7 429.8,57.7 430.0,57.7 430.3,57.9 430.5,58.1 430.8,58.4 431.0,58.8 431.3,59.2 431.5,59.7 431.8,60.2 432.0,60.8 432.3,61.4 432.5,62.1 432.8,62.7 433.0,63.3 433.3,63.9 433.5,64.5 433.8,65.0 434.0,65.5 434.3,65.9 434.5,66.1 434.8,66.1 435.0,66.0 435.3,65.8 435.5,65.5 435.8,65.0 436.0,64.5 436.3,63.9 436.5,63.2 436.8,62.4 437.0,61.5 437.3,60.6 437.5,59.7 437.8,58.7 438.1,57.8 438.3,56.8 438.6,55.9 438.8,55.1 439.1,54.3 439.3,53.5 439.6,52.9 439.8,52.4 440.1,52.0 440.3,51.8 440.6,51.7 440.8,51.9 441.1,52.1 441.3,52.5 441.6,53.0 441.8,53.7 442.1,54.4 442.3,55.2 442.6,56.1 442.8,57.1 443.1,58.1 443.3,59.1 443.6,60.2 443.8,61.2 444.1,62.2 444.3,63.1 444.6,64.0 444.8,64.8 445.1,65.5 445.3,66.1 445.6,66.5 445.8,66.8 446.1,67.0 446.3,67.0 446.6,66.9 446.8,66.6 447.1,66.2 447.3,65.6 447.6,64.9 447.8,64.1 448.1,63.2 448.3,62.3 448.6,61.2 448.8,60.2 449.1,59.0 449.3,57.9 449.6,56.8 449.8,55.8 450.1,54.8 450.3,53.9 450.6,53.0 450.9,52.3 451.1,51.7 451.4,51.3 451.6,51.0 451.9,50.8 452.1,50.8 452.4,51.0 452.6,51.3 452.9,51.8 453.1,52.4 453.4,53.1 453.6,54.0 453.9,55.0 454.1,56.0 454.4,57.1 454.6,58.3 454.9,59.4 455.1,60.6 455.4,61.8 455.6,62.9 455.9,63.9 456.1,64.9 456.4,65.7 456.6,66.4 456.9,67.0 457.1,67.4 457.4,67.7 457.6,67.7 457.9,67.7 458.1,67.4 458.4,67.0 458.6,66.4 458.9,65.7 459.1,64.9 459.4,63.9 459.6,62.8 459.9,61.7 460.1,60.5 460.4,59.3 460.6,58.0 460.9,56.8 461.1,55.6 461.4,54.5 461.6,53.5 461.9,52.5 462.1,51.7 462.4,51.0 462.6,50.5 462.9,50.1 463.1,50.0 463.4,50.0 463.7,50.1 463.9,50.5 464.2,51.0 464.4,51.7 464.7,52.5 464.9,53.4 465.2,54.4 465.4,55.6 465.7,56.7 465.9,58.0 466.2,59.2 466.4,60.5 466.7,61.7 466.9,62.8 467.2,63.9 467.4,64.9 467.7,65.8 467.9,66.5 468.2,67.0 468.4,67.5 468.7,67.7 468.9,67.7 469.2,67.6 469.4,67.3 469.7,66.9 469.9,66.3 470.2,65.5 470.4,64.6 470.7,63.6 470.9,62.4 471.2,61.3 471.4,60.0 471.7,58.8 471.9,57.5 472.2,56.3 472.4,55.1 472.7,54.0 472.9,53.0 473.2,52.1 473.4,51.3 473.7,50.7 473.9,50.3 474.2,50.0 474.4,49.9 474.7,50.0 474.9,50.2 475.2,50.7 475.4,51.3 475.7,52.0 476.0,52.9 476.2,54.0 476.5,55.1 476.7,56.3 477.0,57.5 477.2,58.8 477.5,60.0 477.7,61.3 478.0,62.5 478.2,63.6 478.5,64.6 478.7,65.5 479.0,66.3 479.2,66.9 479.5,67.4 479.7,67.7 480.0,67.7 480.2,67.7 480.5,67.4 480.7,66.9 481.0,66.3 481.2,65.6 481.5,64.7 481.7,63.6 482.0,62.5 482.2,61.3 482.5,60.0 482.7,58.8 483.0,57.5 483.2,56.2 483.5,55.0 483.7,53.9 484.0,52.9 484.2,52.0 484.5,51.2 484.7,50.6 485.0,50.2 485.2,49.9 485.5,49.8 485.7,49.9 486.0,50.2 486.2,50.7 486.5,51.4 486.7,52.2 487.0,53.1 487.2,54.2 487.5,55.3 487.7,56.5 488.0,57.8 488.2,59.1 488.5,60.4 488.8,61.7 489.0,62.8 489.3,64.0 489.5,65.0 489.8,65.8 490.0,66.6 490.3,67.1 490.5,67.5 490.8,67.7 491.0,67.7 491.3,67.6 491.5,67.2 491.8,66.7 492.0,66.0 492.3,65.1 492.5,64.1 492.8,63.0 493.0,61.8 493.3,60.6 493.5,59.3 493.8,58.0 494.0,56.7 494.3,55.4 494.5,54.2 494.8,53.2 495.0,52.2 495.3,51.4 495.5,50.7 495.8,50.2 496.0,49.9 496.3,49.8 496.5,49.8 496.8,50.1 497.0,50.5 497.3,51.2 497.5,51.9 497.8,52.9 498.0,53.9 498.3,55.1 498.5,56.3 498.8,57.6 499.0,58.9 499.3,60.2 499.5,61.5 499.8,62.7 500.0,63.9 500.3,64.9 500.5,65.8 500.8,66.5 501.1,67.1 501.3,67.5 501.6,67.7 501.8,67.8 502.1,67.6 502.3,67.2 502.6,66.7 502.8,66.0 503.1,65.1 503.3,64.1 503.6,63.0 503.8,61.7 504.1,60.5 504.3,59.1 504.6,57.8 504.8,56.5 505.1,55.2 505.3,54.0 505.6,52.9 505.8,52.0 506.1,51.1 506.3,50.5 506.6,50.0 506.8,49.7 507.1,49.6 507.3,49.7 507.6,50.0 507.8,50.5 508.1,51.2 508.3,52.0 508.6,53.0 508.8,54.2 509.1,55.4 509.3,56.7 509.6,58.0 509.8,59.4 510.1,60.8 510.3,62.1 510.6,63.3 510.8,64.5 511.1,65.5 511.3,66.4 511.6,67.1 511.8,67.6 512.1,68.0 512.3,68.1 512.6,68.1 512.8,67.8 513.1,67.3 513.4,66.7 513.6,65.9 513.9,64.9 514.1,63.7 514.4,62.5 514.6,61.2 514.9,59.8 515.1,58.4 515.4,57.0 515.6,55.7 515.9,54.4 516.1,53.2 516.4,52.2 516.6,51.2 516.9,50.5 517.1,49.9 517.4,49.6 517.6,49.4 517.9,49.4 518.1,49.7 518.4,50.2 518.6,50.8 518.9,51.7 519.1,52.7 519.4,53.8 519.6,55.1 519.9,56.4 520.1,57.8 520.4,59.3 520.6,60.7 520.9,62.1 521.1,63.4 521.4,64.6 521.6,65.7 521.9,66.6 522.1,67.4 522.4,68.0 522.6,68.3 522.9,68.5 523.1,68.4 523.4,68.1 523.6,67.7 523.9,67.0 524.1,66.1 524.4,65.1 524.6,63.9 524.9,62.6 525.1,61.2 525.4,59.8 525.6,58.3 525.9,56.9 526.2,55.5 526.4,54.1 526.7,52.9 526.9,51.8 527.2,50.9 527.4,50.2 527.7,49.6 527.9,49.3 528.2,49.2 528.4,49.3 528.7,49.6 528.9,50.2 529.2,50.9 529.4,51.8 529.7,52.9 529.9,54.2 530.2,55.5 530.4,56.9 530.7,58.4 530.9,59.9 531.2,61.4 531.4,62.8 531.7,64.1 531.9,65.3 532.2,66.4 532.4,67.3 532.7,68.0 532.9,68.5 533.2,68.8 533.4,68.8 533.7,68.6 533.9,68.2 534.2,67.6 534.4,66.8 534.7,65.8 534.9,64.6 535.2,63.3 535.4,61.9 535.7,60.4 535.9,58.9 536.2,57.4 536.4,55.9 536.7,54.5 536.9,53.2 537.2,52.0 537.4,51.0 537.7,50.2 537.9,49.5 538.2,49.1 538.5,49.0 538.7,49.0 539.0,49.3 539.2,49.8 539.5,50.6 539.7,51.5 540.0,52.6 540.2,53.9 540.5,55.3 540.7,56.8 541.0,58.3 541.2,59.9 541.5,61.4 541.7,62.9 542.0,64.3 542.2,65.5 542.5,66.6 542.7,67.6 543.0,68.3 543.2,68.8 543.5,69.1 543.7,69.2 544.0,69.0 544.2,68.5 544.5,67.9 544.7,67.0 545.0,65.9 545.2,64.7 545.5,63.3 545.7,61.8 546.0,60.3 546.2,58.7 546.5,57.1 546.7,55.6 547.0,54.2 547.2,52.8 547.5,51.6 547.7,50.6 548.0,49.8 548.2,49.2 548.5,48.8 548.7,48.7 549.0,48.9 549.2,49.2 549.5,49.9 549.7,50.7 550.0,51.7 550.2,53.0 550.5,54.3 550.7,55.8 551.0,57.4 551.3,59.0 551.5,60.6 551.8,62.2 552.0,63.7 552.3,65.1 552.5,66.3 552.8,67.4 553.0,68.3 553.3,68.9 553.5,69.3 553.8,69.5 554.0,69.4 554.3,69.1 554.5,68.5 554.8,67.7 555.0,66.6 555.3,65.4 555.5,64.1 555.8,62.6 556.0,61.0 556.3,59.4 556.5,57.7 556.8,56.1 557.0,54.6 557.3,53.1 557.5,51.8 557.8,50.7 558.0,49.8 558.3,49.1 558.5,48.7 558.8,48.5 559.0,48.6 559.3,48.9 559.5,49.5 559.8,50.4 560.0,51.4 560.3,52.6 560.5,54.0 560.8,55.6 561.0,57.2 561.3,58.8 561.5,60.5 561.8,62.2 562.0,63.7 562.3,65.2 562.5,66.5 562.8,67.6 563.0,68.5 563.3,69.2 563.5,69.7 563.8,69.8 564.1,69.7 564.3,69.4 564.6,68.8 564.8,67.9 565.1,66.8 565.3,65.6 565.6,64.1 565.8,62.6 566.1,60.9 566.3,59.2 566.6,57.5 566.8,55.9 567.1,54.3 567.3,52.8 567.6,51.5 567.8,50.4 568.1,49.5 568.3,48.8 568.6,48.4 568.8,48.3 569.1,48.5 569.3,48.9 569.6,49.5 569.8,50.5 570.1,51.6 570.3,52.9 570.6,54.4 570.8,56.1 571.1,57.7 571.3,59.5 571.6,61.2 571.8,62.9 572.1,64.5 572.3,65.9 572.6,67.2 572.8,68.3 573.1,69.2 573.3,69.8 573.6,70.1 573.8,70.2 574.1,69.9 574.3,69.4 574.6,68.7 574.8,67.7 575.1,66.4 575.3,65.0 575.6,63.5 575.8,61.8 576.1,60.0 576.4,58.2 576.6,56.5 576.9,54.7 577.1,53.1 577.4,51.7 577.6,50.4 577.9,49.3 578.1,48.5 578.4,48.0 578.6,47.8 578.9,47.9 579.1,48.3 579.4,48.9 579.6,49.9 579.9,51.0 580.1,52.5 580.4,54.0 580.6,55.8 580.9,57.6 581.1,59.5 581.4,61.3 581.6,63.1 581.9,64.9 582.1,66.4 582.4,67.8 582.6,68.9 582.9,69.8 583.1,70.4 583.4,70.7 583.6,70.7 583.9,70.3 584.1,69.7 584.4,68.7 584.6,67.5 584.9,66.1 585.1,64.5 585.4,62.6 585.6,60.7 585.9,58.8 586.1,56.8 586.4,54.9 586.6,53.0 586.9,51.3 587.1,49.9 587.4,48.6 587.6,47.6 587.9,46.9 588.1,46.6 588.4,46.5 588.6,46.8 588.9,47.5 589.2,48.4 589.4,49.6 589.7,51.1 589.9,52.8 590.2,54.7 590.4,56.6 590.7,58.7 590.9,60.7 591.2,62.7 591.4,64.6 591.7,66.4 591.9,67.9 592.2,69.2 592.4,70.2 592.7,70.9 592.9,71.3 593.2,71.3 593.4,71.0 593.7,70.4 593.9,69.4 594.2,68.1 594.4,66.6 594.7,64.9 594.9,63.0 595.2,61.0 595.4,58.9 595.7,56.8 595.9,54.8 596.2,52.9 596.4,51.1 596.7,49.5 596.9,48.2 597.2,47.2 597.4,46.5 597.7,46.2 597.9,46.2 598.2,46.5 598.4,47.2 598.7,48.2 598.9,49.5 599.2,51.1 599.4,52.9 599.7,54.9 599.9,56.9 600.2,59.1 600.4,61.2 600.7,63.3 600.9,65.3 601.2,67.1 601.5,68.6 601.7,69.9 602.0,70.9 602.2,71.5 602.5,71.8 602.7,71.8 603.0,71.4 603.2,70.6 603.5,69.5 603.7,68.1 604.0,66.5 604.2,64.6 604.5,62.6 604.7,60.4 605.0,58.3 605.2,56.1 605.5,54.0 605.7,52.0 606.0,50.3 606.2,48.8 606.5,47.5 606.7,46.6 607.0,46.0 607.2,45.8 607.5,45.9 607.7,46.4 608.0,47.3 608.2,48.5 608.5,50.0 608.7,51.7 609.0,53.7 609.2,55.8 609.5,57.9 609.7,60.2 610.0,62.3 610.2,64.4 610.5,66.3 610.7,68.0 611.0,69.5 611.2,70.6 611.5,71.4 611.7,71.9 612.0,72.0 612.2,71.7 612.5,71.0 612.7,70.0 613.0,68.7 613.2,67.1 613.5,65.2 613.8,63.2 614.0,61.0 614.3,58.8 614.5,56.6 614.8,54.4 615.0,52.3 615.3,50.5 615.5,48.8 615.8,47.5 616.0,46.5 616.3,45.8 616.5,45.5 616.8,45.6 617.0,46.1 617.3,46.9 617.5,48.1 617.8,49.5 618.0,51.3 618.3,53.3 618.5,55.4 618.8,57.6 619.0,59.9 619.3,62.1 619.5,64.3 619.8,66.3 620.0,68.0 620.3,69.5 620.5,70.7 620.8,71.6 621.0,72.0 621.3,72.1 621.5,71.8 621.8,71.1 622.0,70.1 622.3,68.7 622.5,67.1 622.8,65.2 623.0,63.1 623.3,60.9 623.5,58.6 623.8,56.3 624.0,54.1 624.3,52.0 624.5,50.1 624.8,48.5 625.0,47.2 625.3,46.2 625.5,45.5 625.8,45.3 626.0,45.5 626.3,46.0 626.6,46.9 626.8,48.2 627.1,49.8 627.3,51.6 627.6,53.7 627.8,55.9 628.1,58.2 628.3,60.5 628.6,62.8 628.8,64.9 629.1,66.9 629.3,68.6 629.6,70.1 629.8,71.2 630.1,71.9 630.3,72.2 630.6,72.2 630.8,71.7 631.1,70.9 631.3,69.7 631.6,68.2 631.8,66.4 632.1,64.3 632.3,62.1 632.6,59.8 632.8,57.5 633.1,55.2 633.3,53.0 633.6,51.0 633.8,49.2 634.1,47.6 634.3,46.4 634.6,45.6 634.8,45.2 635.1,45.2 635.3,45.5 635.6,46.3 635.8,47.5 636.1,49.0 636.3,50.7 636.6,52.8 636.8,55.0 637.1,57.3 637.3,59.6 637.6,62.0 637.8,64.2 638.1,66.3 638.3,68.2 638.6,69.7 638.9,71.0 639.1,71.8 639.4,72.3 639.6,72.4 639.9,72.0 640.1,71.3 640.4,70.2 640.6,68.7 640.9,66.9 641.1,64.9 641.4,62.7 641.6,60.3 641.9,58.0 642.1,55.6 642.4,53.4 642.6,51.3 642.9,49.4 643.1,47.8 643.4,46.6 643.6,45.7 643.9,45.2 644.1,45.1 644.4,45.5 644.6,46.3 644.9,47.4 645.1,48.9 645.4,50.7 645.6,52.7 645.9,54.9 646.1,57.3 646.4,59.7 646.6,62.1 646.9,64.3 647.1,66.4 647.4,68.3 647.6,69.9 647.9,71.1 648.1,72.0 648.4,72.5 648.6,72.5 648.9,72.1 649.1,71.3 649.4,70.2 649.6,68.6 649.9,66.8 650.1,64.8 650.4,62.5 650.6,60.1 650.9,57.7 651.1,55.4 651.4,53.1 651.7,51.0 651.9,49.2 652.2,47.7 652.4,46.5 652.7,45.7 652.9,45.3 653.2,45.3 653.4,45.8 653.7,46.6 653.9,47.9 654.2,49.5 654.4,51.3 654.7,53.5 654.9,55.8 655.2,58.2 655.4,60.6 655.7,62.9 655.9,65.2 656.2,67.2 656.4,69.0 656.7,70.5 656.9,71.6 657.2,72.3 657.4,72.6 657.7,72.5 657.9,72.0 658.2,71.0 658.4,69.7 658.7,68.0 658.9,66.0 659.2,63.9 659.4,61.5 659.7,59.1 659.9,56.7 660.2,54.4 660.4,52.2 660.7,50.2 660.9,48.5 661.2,47.1 661.4,46.1 661.7,45.5 661.9,45.4 662.2,45.6 662.4,46.3 662.7,47.4 662.9,48.9 663.2,50.7 663.4,52.8 663.7,55.0 664.0,57.4 664.2,59.8 664.5,62.3 664.7,64.6 665.0,66.7 665.2,68.6 665.5,70.2 665.7,71.4 666.0,72.3 666.2,72.7 666.5,72.7 666.7,72.2 667.0,71.4 667.2,70.1 667.5,68.5 667.7,66.6 668.0,64.4 668.2,62.1 668.5,59.7 668.7,57.3 669.0,54.9 669.2,52.6 669.5,50.6 669.7,48.8 670.0,47.4 670.2,46.3 670.5,45.7 670.7,45.5 671.0,45.7 671.2,46.4 671.5,47.4 671.7,48.9 672.0,50.6 672.2,52.7 672.5,55.0 672.7,57.4 673.0,59.8 673.2,62.2 673.5,64.6 673.7,66.7 674.0,68.6 674.2,70.2 674.5,71.5 674.7,72.3 675.0,72.7 675.2,72.7 675.5,72.2 675.7,71.3 676.0,70.0 676.2,68.4 676.5,66.4" fill="none" stroke="#000" stroke-width="1.6" stroke-dasharray="4,0.7,1.5,0.7"/>
</g>
<clipPath id="kc"><rect x="93.5" y="176.5" width="251.0" height="105.0"/></clipPath>
<clipPath id="kcb"><rect x="94.0" y="170.5" width="250.5" height="117.0"/></clipPath>
<polyline clip-path="url(#kcb)" points="93.5,229.0 93.7,228.8 93.8,228.7 94.0,228.5 94.1,228.4 94.3,228.2 94.4,228.1 94.6,227.9 94.7,227.6 94.9,227.2 95.0,226.9 95.2,227.0 95.3,227.1 95.5,227.2 95.6,227.4 95.8,227.6 95.9,227.8 96.1,228.1 96.2,228.4 96.4,228.8 96.5,229.2 96.7,229.6 96.8,230.1 97.0,230.6 97.1,231.1 97.3,231.6 97.4,232.1 97.6,232.6 97.7,233.2 97.9,233.7 98.0,234.2 98.2,234.7 98.3,235.2 98.5,235.6 98.6,236.0 98.8,236.4 98.9,236.7 99.1,236.9 99.2,237.1 99.4,237.3 99.5,237.4 99.7,237.3 99.8,237.1 100.0,236.8 100.1,236.5 100.3,236.1 100.4,235.7 100.6,235.2 100.7,234.6 100.9,234.0 101.0,233.3 101.2,232.6 101.3,231.8 101.5,230.9 101.6,230.0 101.8,229.1 101.9,228.2 102.1,227.2 102.2,226.2 102.4,225.2 102.5,224.2 102.7,223.2 102.8,222.2 103.0,221.3 103.1,220.3 103.3,219.4 103.4,218.6 103.6,217.7 103.7,217.0 103.9,216.3 104.0,215.6 104.2,215.1 104.3,214.6 104.5,214.2 104.6,213.9 104.8,213.8 104.9,213.8 105.1,213.8 105.2,214.0 105.4,214.3 105.5,214.6 105.7,215.1 105.8,215.7 106.0,216.4 106.2,217.1 106.3,218.0 106.5,219.0 106.6,220.0 106.8,221.1 106.9,222.3 107.1,223.6 107.2,224.9 107.4,226.2 107.5,227.6 107.7,229.1 107.8,230.5 108.0,232.0 108.1,233.5 108.3,234.9 108.4,236.4 108.6,237.8 108.7,239.2 108.9,240.5 109.0,241.8 109.2,243.1 109.3,244.2 109.5,245.3 109.6,246.2 109.8,247.1 109.9,247.9 110.1,248.5 110.2,249.0 110.4,249.4 110.5,249.6 110.7,249.7 110.8,249.6 111.0,249.4 111.1,249.1 111.3,248.6 111.4,248.0 111.6,247.2 111.7,246.4 111.9,245.4 112.0,244.3 112.2,243.0 112.3,241.7 112.5,240.3 112.6,238.8 112.8,237.2 112.9,235.5 113.1,233.8 113.2,232.0 113.4,230.2 113.5,228.4 113.7,226.5 113.8,224.7 114.0,222.8 114.1,221.0 114.3,219.3 114.4,217.6 114.6,215.9 114.7,214.3 114.9,212.8 115.0,211.4 115.2,210.1 115.3,209.0 115.5,207.9 115.6,207.0 115.8,206.2 115.9,205.6 116.1,205.1 116.2,204.9 116.4,204.7 116.5,204.8 116.7,205.0 116.8,205.4 117.0,205.9 117.1,206.7 117.3,207.5 117.4,208.5 117.6,209.7 117.7,211.0 117.9,212.4 118.0,214.0 118.2,215.7 118.3,217.5 118.5,219.3 118.7,221.3 118.8,223.3 119.0,225.4 119.1,227.5 119.3,229.6 119.4,231.8 119.6,233.9 119.7,236.0 119.9,238.1 120.0,240.2 120.2,242.1 120.3,244.0 120.5,245.9 120.6,247.6 120.8,249.2 120.9,250.7 121.1,252.0 121.2,253.2 121.4,254.2 121.5,255.1 121.7,255.8 121.8,256.3 122.0,256.6 122.1,256.7 122.3,256.7 122.4,256.4 122.6,256.0 122.7,255.3 122.9,254.5 123.0,253.5 123.2,252.3 123.3,251.0 123.5,249.5 123.6,247.8 123.8,246.0 123.9,244.1 124.1,242.1 124.2,239.9 124.4,237.7 124.5,235.4 124.7,233.1 124.8,230.7 125.0,228.3 125.1,225.9 125.3,223.5 125.4,221.1 125.6,218.8 125.7,216.5 125.9,214.3 126.0,212.2 126.2,210.2 126.3,208.3 126.5,206.6 126.6,205.0 126.8,203.6 126.9,202.3 127.1,201.2 127.2,200.3 127.4,199.6 127.5,199.1 127.7,198.8 127.8,198.8 128.0,198.9 128.1,199.3 128.3,199.8 128.4,200.6 128.6,201.6 128.7,202.8 128.9,204.1 129.0,205.7 129.2,207.4 129.3,209.2 129.5,211.2 129.6,213.4 129.8,215.6 129.9,218.0 130.1,220.4 130.2,222.9 130.4,225.5 130.5,228.0 130.7,230.7 130.8,233.3 131.0,235.8 131.2,238.4 131.3,240.9 131.5,243.3 131.6,245.6 131.8,247.8 131.9,249.9 132.1,251.8 132.2,253.6 132.4,255.2 132.5,256.7 132.7,257.9 132.8,258.9 133.0,259.8 133.1,260.4 133.3,260.8 133.4,261.0 133.6,260.9 133.7,260.6 133.9,260.1 134.0,259.4 134.2,258.4 134.3,257.2 134.5,255.9 134.6,254.3 134.8,252.5 134.9,250.6 135.1,248.5 135.2,246.3 135.4,243.9 135.5,241.5 135.7,238.9 135.8,236.3 136.0,233.6 136.1,230.8 136.3,228.1 136.4,225.3 136.6,222.6 136.7,219.9 136.9,217.2 137.0,214.6 137.2,212.2 137.3,209.8 137.5,207.6 137.6,205.5 137.8,203.6 137.9,201.8 138.1,200.3 138.2,198.9 138.4,197.8 138.5,196.8 138.7,196.1 138.8,195.7 139.0,195.5 139.1,195.5 139.3,195.8 139.4,196.3 139.6,197.0 139.7,198.0 139.9,199.2 140.0,200.6 140.2,202.2 140.3,204.0 140.5,206.0 140.6,208.1 140.8,210.4 140.9,212.9 141.1,215.5 141.2,218.1 141.4,220.9 141.5,223.7 141.7,226.5 141.8,229.4 142.0,232.3 142.1,235.1 142.3,237.9 142.4,240.7 142.6,243.3 142.7,245.9 142.9,248.4 143.0,250.7 143.2,252.8 143.3,254.8 143.5,256.6 143.6,258.2 143.8,259.6 144.0,260.8 144.1,261.7 144.3,262.4 144.4,262.9 144.6,263.1 144.7,263.1 144.9,262.8 145.0,262.2 145.2,261.5 145.3,260.4 145.5,259.2 145.6,257.7 145.8,256.0 145.9,254.1 146.1,252.1 146.2,249.8 146.4,247.4 146.5,244.9 146.7,242.2 146.8,239.5 147.0,236.6 147.1,233.7 147.3,230.8 147.4,227.8 147.6,224.8 147.7,221.9 147.9,219.0 148.0,216.2 148.2,213.5 148.3,210.8 148.5,208.3 148.6,206.0 148.8,203.8 148.9,201.8 149.1,200.0 149.2,198.4 149.4,197.1 149.5,195.9 149.7,195.0 149.8,194.4 150.0,194.0 150.1,193.9 150.3,194.0 150.4,194.4 150.6,195.1 150.7,196.0 150.9,197.1 151.0,198.5 151.2,200.1 151.3,201.9 151.5,204.0 151.6,206.2 151.8,208.6 151.9,211.1 152.1,213.8 152.2,216.6 152.4,219.5 152.5,222.4 152.7,225.4 152.8,228.5 153.0,231.5 153.1,234.6 153.3,237.6 153.4,240.5 153.6,243.4 153.7,246.1 153.9,248.8 154.0,251.2 154.2,253.6 154.3,255.7 154.5,257.7 154.6,259.4 154.8,260.9 154.9,262.2 155.1,263.2 155.2,264.0 155.4,264.5 155.5,264.8 155.7,264.7 155.8,264.4 156.0,263.9 156.1,263.0 156.3,262.0 156.5,260.6 156.6,259.1 156.8,257.3 156.9,255.3 157.1,253.1 157.2,250.7 157.4,248.2 157.5,245.5 157.7,242.7 157.8,239.8 158.0,236.8 158.1,233.7 158.3,230.7 158.4,227.6 158.6,224.5 158.7,221.4 158.9,218.4 159.0,215.5 159.2,212.7 159.3,210.0 159.5,207.5 159.6,205.1 159.8,202.9 159.9,200.9 160.1,199.1 160.2,197.5 160.4,196.2 160.5,195.1 160.7,194.3 160.8,193.7 161.0,193.5 161.1,193.4 161.3,193.7 161.4,194.2 161.6,195.0 161.7,196.1 161.9,197.4 162.0,199.0 162.2,200.7 162.3,202.7 162.5,204.9 162.6,207.3 162.8,209.8 162.9,212.5 163.1,215.3 163.2,218.2 163.4,221.2 163.5,224.3 163.7,227.4 163.8,230.4 164.0,233.5 164.1,236.6 164.3,239.6 164.4,242.5 164.6,245.3 164.7,248.0 164.9,250.5 165.0,252.9 165.2,255.0 165.3,257.0 165.5,258.8 165.6,260.3 165.8,261.6 165.9,262.7 166.1,263.5 166.2,264.0 166.4,264.3 166.5,264.3 166.7,264.0 166.8,263.4 167.0,262.6 167.1,261.5 167.3,260.2 167.4,258.6 167.6,256.8 167.7,254.7 167.9,252.5 168.0,250.1 168.2,247.6 168.3,244.9 168.5,242.1 168.6,239.2 168.8,236.3 169.0,233.3 169.1,230.3 169.3,227.3 169.4,224.4 169.6,221.4 169.7,218.5 169.9,215.8 170.0,213.1 170.2,210.5 170.3,208.1 170.5,205.8 170.6,203.8 170.8,201.9 170.9,200.2 171.1,198.7 171.2,197.5 171.4,196.5 171.5,195.7 171.7,195.2 171.8,194.9 172.0,194.9 172.1,195.2 172.3,195.7 172.4,196.4 172.6,197.4 172.7,198.6 172.9,200.1 173.0,201.8 173.2,203.6 173.3,205.7 173.5,207.9 173.6,210.3 173.8,212.8 173.9,215.4 174.1,218.1 174.2,220.9 174.4,223.7 174.5,226.6 174.7,229.5 174.8,232.3 175.0,235.2 175.1,237.9 175.3,240.6 175.4,243.2 175.6,245.7 175.7,248.1 175.9,250.3 176.0,252.3 176.2,254.1 176.3,255.8 176.5,257.2 176.6,258.4 176.8,259.4 176.9,260.2 177.1,260.7 177.2,261.0 177.4,261.0 177.5,260.8 177.7,260.3 177.8,259.6 178.0,258.7 178.1,257.6 178.3,256.2 178.4,254.6 178.6,252.9 178.7,250.9 178.9,248.8 179.0,246.5 179.2,244.1 179.3,241.6 179.5,239.0 179.6,236.3 179.8,233.6 179.9,230.8 180.1,228.0 180.2,225.2 180.4,222.5 180.5,219.8 180.7,217.2 180.8,214.7 181.0,212.3 181.1,210.0 181.3,207.8 181.5,205.9 181.6,204.1 181.8,202.5 181.9,201.1 182.1,199.9 182.2,198.9 182.4,198.2 182.5,197.7 182.7,197.5 182.8,197.4 183.0,197.7 183.1,198.1 183.3,198.8 183.4,199.8 183.6,200.9 183.7,202.3 183.9,203.9 184.0,205.6 184.2,207.6 184.3,209.7 184.5,211.9 184.6,214.3 184.8,216.7 184.9,219.3 185.1,221.9 185.2,224.6 185.4,227.3 185.5,230.1 185.7,232.8 185.8,235.4 186.0,238.1 186.1,240.6 186.3,243.0 186.4,245.4 186.6,247.6 186.7,249.6 186.9,251.5 187.0,253.2 187.2,254.7 187.3,256.1 187.5,257.2 187.6,258.0 187.8,258.7 187.9,259.1 188.1,259.3 188.2,259.2 188.4,258.9 188.5,258.3 188.7,257.5 188.8,256.5 189.0,255.3 189.1,253.9 189.3,252.3 189.4,250.5 189.6,248.5 189.7,246.4 189.9,244.2 190.0,241.8 190.2,239.4 190.3,236.9 190.5,234.3 190.6,231.7 190.8,229.1 190.9,226.4 191.1,223.8 191.2,221.3 191.4,218.8 191.5,216.4 191.7,214.1 191.8,212.0 192.0,209.9 192.1,208.0 192.3,206.3 192.4,204.8 192.6,203.5 192.7,202.3 192.9,201.4 193.0,200.7 193.2,200.2 193.3,199.9 193.5,199.9 193.6,200.1 193.8,200.5 194.0,201.2 194.1,202.0 194.3,203.1 194.4,204.3 194.6,205.8 194.7,207.4 194.9,209.2 195.0,211.1 195.2,213.2 195.3,215.3 195.5,217.6 195.6,220.0 195.8,222.4 195.9,224.8 196.1,227.2 196.2,229.7 196.4,232.1 196.5,234.5 196.7,236.9 196.8,239.1 197.0,241.3 197.1,243.3 197.3,245.3 197.4,247.0 197.6,248.7 197.7,250.1 197.9,251.4 198.0,252.5 198.2,253.4 198.3,254.1 198.5,254.5 198.6,254.8 198.8,254.8 198.9,254.7 199.1,254.3 199.2,253.7 199.4,252.9 199.5,252.0 199.7,250.8 199.8,249.4 200.0,247.9 200.1,246.3 200.3,244.5 200.4,242.6 200.6,240.5 200.7,238.4 200.9,236.2 201.0,234.0 201.2,231.7 201.3,229.4 201.5,227.1 201.6,224.8 201.8,222.5 201.9,220.3 202.1,218.2 202.2,216.2 202.4,214.3 202.5,212.4 202.7,210.8 202.8,209.2 203.0,207.9 203.1,206.7 203.3,205.6 203.4,204.8 203.6,204.2 203.7,203.7 203.9,203.5 204.0,203.4 204.2,203.6 204.3,203.9 204.5,204.5 204.6,205.2 204.8,206.1 204.9,207.2 205.1,208.5 205.2,209.9 205.4,211.4 205.5,213.1 205.7,214.9 205.8,216.8 206.0,218.8 206.1,220.8 206.3,222.9 206.4,225.0 206.6,227.0 206.8,229.1 206.9,231.1 207.1,233.1 207.2,235.1 207.4,237.0 207.5,238.8 207.7,240.5 207.8,242.1 208.0,243.6 208.1,245.0 208.3,246.3 208.4,247.4 208.6,248.3 208.7,249.1 208.9,249.7 209.0,250.2 209.2,250.4 209.3,250.5 209.5,250.5 209.6,250.2 209.8,249.8 209.9,249.2 210.1,248.5 210.2,247.6 210.4,246.5 210.5,245.4 210.7,244.1 210.8,242.6 211.0,241.1 211.1,239.5 211.3,237.8 211.4,236.0 211.6,234.2 211.7,232.3 211.9,230.4 212.0,228.5 212.2,226.6 212.3,224.8 212.5,222.9 212.6,221.1 212.8,219.4 212.9,217.8 213.1,216.2 213.2,214.7 213.4,213.4 213.5,212.1 213.7,211.0 213.8,210.1 214.0,209.3 214.1,208.6 214.3,208.1 214.4,207.7 214.6,207.5 214.7,207.5 214.9,207.6 215.0,207.9 215.2,208.3 215.3,208.9 215.5,209.6 215.6,210.5 215.8,211.5 215.9,212.6 216.1,213.9 216.2,215.2 216.4,216.7 216.5,218.2 216.7,219.8 216.8,221.4 217.0,223.1 217.1,224.9 217.3,226.6 217.4,228.3 217.6,230.1 217.7,231.8 217.9,233.5 218.0,235.1 218.2,236.6 218.3,238.1 218.5,239.5 218.6,240.8 218.8,242.0 218.9,243.1 219.1,244.0 219.3,244.8 219.4,245.5 219.6,246.1 219.7,246.5 219.9,246.7 220.0,246.8 220.2,246.8 220.3,246.6 220.5,246.2 220.6,245.7 220.8,245.1 220.9,244.4 221.1,243.5 221.2,242.5 221.4,241.4 221.5,240.1 221.7,238.8 221.8,237.5 222.0,236.0 222.1,234.5 222.3,233.0 222.4,231.4 222.6,229.8 222.7,228.2 222.9,226.6 223.0,225.0 223.2,223.4 223.3,221.9 223.5,220.5 223.6,219.1 223.8,217.8 223.9,216.6 224.1,215.5 224.2,214.4 224.4,213.5 224.5,212.8 224.7,212.1 224.8,211.6 225.0,211.2 225.1,210.9 225.3,210.8 225.4,210.8 225.6,210.9 225.7,211.2 225.9,211.6 226.0,212.2 226.2,212.8 226.3,213.6 226.5,214.5 226.6,215.5 226.8,216.6 226.9,217.7 227.1,219.0 227.2,220.3 227.4,221.7 227.5,223.1 227.7,224.5 227.8,226.0 228.0,227.4 228.1,228.9 228.3,230.3 228.4,231.7 228.6,233.1 228.7,234.4 228.9,235.7 229.0,236.9 229.2,238.1 229.3,239.1 229.5,240.1 229.6,241.0 229.8,241.7 229.9,242.4 230.1,242.8 230.2,243.2 230.4,243.4 230.5,243.5 230.7,243.4 230.8,243.2 231.0,242.9 231.1,242.4 231.3,241.8 231.4,241.1 231.6,240.2 231.8,239.3 231.9,238.2 232.1,237.1 232.2,235.9 232.4,234.6 232.5,233.3 232.7,231.9 232.8,230.5 233.0,229.1 233.1,227.6 233.3,226.2 233.4,224.8 233.6,223.4 233.7,222.1 233.9,220.8 234.0,219.6 234.2,218.5 234.3,217.4 234.5,216.5 234.6,215.7 234.8,214.9 234.9,214.3 235.1,213.9 235.2,213.5 235.4,213.3 235.5,213.2 235.7,213.2 235.8,213.4 236.0,213.7 236.1,214.1 236.3,214.7 236.4,215.3 236.6,216.1 236.7,217.0 236.9,218.0 237.0,219.1 237.2,220.2 237.3,221.4 237.5,222.7 237.6,224.0 237.8,225.3 237.9,226.7 238.1,228.0 238.2,229.4 238.4,230.7 238.5,232.0 238.7,233.3 238.8,234.5 239.0,235.7 239.1,236.8 239.3,237.8 239.4,238.7 239.6,239.5 239.7,240.2 239.9,240.8 240.0,241.3 240.2,241.6 240.3,241.8 240.5,241.9 240.6,241.9 240.8,241.7 240.9,241.5 241.1,241.1 241.2,240.5 241.4,239.9 241.5,239.2 241.7,238.3 241.8,237.4 242.0,236.4 242.1,235.3 242.3,234.2 242.4,233.0 242.6,231.7 242.7,230.5 242.9,229.2 243.0,227.9 243.2,226.6 243.3,225.3 243.5,224.1 243.6,222.9 243.8,221.7 243.9,220.6 244.1,219.6 244.3,218.7 244.4,217.8 244.6,217.1 244.7,216.4 244.9,215.9 245.0,215.5 245.2,215.1 245.3,215.0 245.5,214.9 245.6,214.9 245.8,215.1 245.9,215.4 246.1,215.8 246.2,216.4 246.4,217.0 246.5,217.7 246.7,218.5 246.8,219.5 247.0,220.5 247.1,221.5 247.3,222.6 247.4,223.8 247.6,225.0 247.7,226.2 247.9,227.5 248.0,228.7 248.2,229.9 248.3,231.2 248.5,232.4 248.6,233.5 248.8,234.6 248.9,235.6 249.1,236.6 249.2,237.5 249.4,238.2 249.5,238.9 249.7,239.5 249.8,240.0 250.0,240.4 250.1,240.6 250.3,240.8 250.4,240.8 250.6,240.7 250.7,240.5 250.9,240.2 251.0,239.8 251.2,239.2 251.3,238.6 251.5,237.8 251.6,237.0 251.8,236.1 251.9,235.1 252.1,234.1 252.2,233.0 252.4,231.9 252.5,230.7 252.7,229.6 252.8,228.4 253.0,227.2 253.1,226.0 253.3,224.9 253.4,223.8 253.6,222.7 253.7,221.7 253.9,220.8 254.0,219.9 254.2,219.1 254.3,218.4 254.5,217.8 254.6,217.3 254.8,216.9 254.9,216.6 255.1,216.4 255.2,216.3 255.4,216.4 255.5,216.5 255.7,216.8 255.8,217.2 256.0,217.6 256.1,218.2 256.3,218.9 256.4,219.6 256.6,220.4 256.8,221.3 256.9,222.3 257.1,223.3 257.2,224.4 257.4,225.5 257.5,226.6 257.7,227.8 257.8,228.9 258.0,230.0 258.1,231.2 258.3,232.3 258.4,233.3 258.6,234.3 258.7,235.3 258.9,236.1 259.0,237.0 259.2,237.7 259.3,238.3 259.5,238.8 259.6,239.3 259.8,239.6 259.9,239.8 260.1,239.9 260.2,239.9 260.4,239.8 260.5,239.6 260.7,239.3 260.8,238.9 261.0,238.3 261.1,237.7 261.3,237.0 261.4,236.2 261.6,235.3 261.7,234.4 261.9,233.4 262.0,232.4 262.2,231.3 262.3,230.2 262.5,229.1 262.6,228.0 262.8,226.8 262.9,225.7 263.1,224.7 263.2,223.6 263.4,222.6 263.5,221.7 263.7,220.8 263.8,220.0 264.0,219.3 264.1,218.7 264.3,218.1 264.4,217.7 264.6,217.4 264.7,217.1 264.9,217.0 265.0,217.0 265.2,217.1 265.3,217.3 265.5,217.6 265.6,218.1 265.8,218.6 265.9,219.2 266.1,219.9 266.2,220.7 266.4,221.5 266.5,222.4 266.7,223.4 266.8,224.4 267.0,225.5 267.1,226.6 267.3,227.7 267.4,228.8 267.6,229.9 267.7,231.0 267.9,232.1 268.0,233.1 268.2,234.1 268.3,235.0 268.5,235.8 268.6,236.6 268.8,237.3 268.9,238.0 269.1,238.5 269.3,238.9 269.4,239.2 269.6,239.5 269.7,239.6 269.9,239.6 270.0,239.5 270.2,239.2 270.3,238.9 270.5,238.5 270.6,237.9 270.8,237.3 270.9,236.6 271.1,235.8 271.2,234.9 271.4,234.0 271.5,233.0 271.7,232.0 271.8,230.9 272.0,229.9 272.1,228.8 272.3,227.7 272.4,226.6 272.6,225.5 272.7,224.5 272.9,223.5 273.0,222.5 273.2,221.6 273.3,220.8 273.5,220.1 273.6,219.4 273.8,218.9 273.9,218.4 274.1,218.1 274.2,217.8 274.4,217.7 274.5,217.6 274.7,217.7 274.8,217.9 275.0,218.2 275.1,218.6 275.3,219.0 275.4,219.6 275.6,220.3 275.7,221.1 275.9,221.9 276.0,222.8 276.2,223.7 276.3,224.7 276.5,225.8 276.6,226.9 276.8,227.9 276.9,229.0 277.1,230.1 277.2,231.2 277.4,232.2 277.5,233.2 277.7,234.1 277.8,235.0 278.0,235.8 278.1,236.6 278.3,237.3 278.4,237.8 278.6,238.3 278.7,238.7 278.9,239.0 279.0,239.1 279.2,239.2 279.3,239.2 279.5,239.0 279.6,238.7 279.8,238.4 279.9,237.9 280.1,237.4 280.2,236.7 280.4,236.0 280.5,235.2 280.7,234.3 280.8,233.4 281.0,232.4 281.1,231.4 281.3,230.4 281.4,229.3 281.6,228.3 281.8,227.2 281.9,226.2 282.1,225.2 282.2,224.2 282.4,223.2 282.5,222.4 282.7,221.6 282.8,220.8 283.0,220.2 283.1,219.6 283.3,219.1 283.4,218.7 283.6,218.5 283.7,218.3 283.9,218.2 284.0,218.3 284.2,218.4 284.3,218.7 284.5,219.0 284.6,219.5 284.8,220.0 284.9,220.7 285.1,221.4 285.2,222.2 285.4,223.0 285.5,223.9 285.7,224.9 285.8,225.9 286.0,226.9 286.1,227.9 286.3,229.0 286.4,230.0 286.6,231.1 286.7,232.1 286.9,233.0 287.0,233.9 287.2,234.8 287.3,235.6 287.5,236.3 287.6,237.0 287.8,237.5 287.9,238.0 288.1,238.3 288.2,238.6 288.4,238.8 288.5,238.8 288.7,238.8 288.8,238.6 289.0,238.4 289.1,238.0 289.3,237.6 289.4,237.0 289.6,236.4 289.7,235.7 289.9,234.9 290.0,234.1 290.2,233.2 290.3,232.2 290.5,231.2 290.6,230.2 290.8,229.2 290.9,228.2 291.1,227.2 291.2,226.2 291.4,225.2 291.5,224.3 291.7,223.4 291.8,222.6 292.0,221.8 292.1,221.1 292.3,220.5 292.4,220.0 292.6,219.6 292.7,219.2 292.9,219.0 293.0,218.9 293.2,218.8 293.3,218.9 293.5,219.1 293.6,219.4 293.8,219.7 293.9,220.2 294.1,220.8 294.2,221.4 294.4,222.1 294.6,222.9 294.7,223.8 294.9,224.7 295.0,225.6 295.2,226.6 295.3,227.6 295.5,228.6 295.6,229.6 295.8,230.6 295.9,231.6 296.1,232.5 296.2,233.5 296.4,234.3 296.5,235.1 296.7,235.9 296.8,236.5 297.0,237.1 297.1,237.6 297.3,238.0 297.4,238.3 297.6,238.5 297.7,238.6 297.9,238.6 298.0,238.5 298.2,238.3 298.3,237.9 298.5,237.5 298.6,237.0 298.8,236.4 298.9,235.8 299.1,235.0 299.2,234.2 299.4,233.3 299.5,232.4 299.7,231.5 299.8,230.5 300.0,229.5 300.1,228.5 300.3,227.4 300.4,226.4 300.6,225.5 300.7,224.5 300.9,223.7 301.0,222.8 301.2,222.0 301.3,221.4 301.5,220.7 301.6,220.2 301.8,219.8 301.9,219.4 302.1,219.2 302.2,219.0 302.4,219.0 302.5,219.0 302.7,219.2 302.8,219.5 303.0,219.9 303.1,220.3 303.3,220.9 303.4,221.5 303.6,222.3 303.7,223.0 303.9,223.9 304.0,224.8 304.2,225.8 304.3,226.7 304.5,227.7 304.6,228.8 304.8,229.8 304.9,230.8 305.1,231.8 305.2,232.7 305.4,233.6 305.5,234.5 305.7,235.3 305.8,236.0 306.0,236.7 306.1,237.2 306.3,237.7 306.4,238.1 306.6,238.4 306.7,238.5 306.9,238.6 307.1,238.6 307.2,238.4 307.4,238.2 307.5,237.8 307.7,237.4 307.8,236.9 308.0,236.2 308.1,235.5 308.3,234.8 308.4,233.9 308.6,233.0 308.7,232.1 308.9,231.1 309.0,230.1 309.2,229.1 309.3,228.1 309.5,227.1 309.6,226.1 309.8,225.1 309.9,224.2 310.1,223.3 310.2,222.5 310.4,221.8 310.5,221.1 310.7,220.5 310.8,220.0 311.0,219.6 311.1,219.4 311.3,219.2 311.4,219.1 311.6,219.1 311.7,219.2 311.9,219.5 312.0,219.8 312.2,220.2 312.3,220.7 312.5,221.4 312.6,222.1 312.8,222.8 312.9,223.7 313.1,224.6 313.2,225.5 313.4,226.5 313.5,227.5 313.7,228.5 313.8,229.5 314.0,230.5 314.1,231.5 314.3,232.5 314.4,233.4 314.6,234.3 314.7,235.1 314.9,235.9 315.0,236.5 315.2,237.1 315.3,237.6 315.5,238.0 315.6,238.3 315.8,238.5 315.9,238.6 316.1,238.6 316.2,238.5 316.4,238.2 316.5,237.9 316.7,237.5 316.8,236.9 317.0,236.3 317.1,235.6 317.3,234.8 317.4,234.0 317.6,233.1 317.7,232.2 317.9,231.2 318.0,230.2 318.2,229.2 318.3,228.1 318.5,227.1 318.6,226.1 318.8,225.2 318.9,224.2 319.1,223.4 319.2,222.6 319.4,221.8 319.6,221.1 319.7,220.6 319.9,220.1 320.0,219.7 320.2,219.4 320.3,219.2 320.5,219.2 320.6,219.2 320.8,219.3 320.9,219.6 321.1,219.9 321.2,220.4 321.4,220.9 321.5,221.6 321.7,222.3 321.8,223.1 322.0,223.9 322.1,224.8 322.3,225.8 322.4,226.8 322.6,227.8 322.7,228.8 322.9,229.8 323.0,230.9 323.2,231.9 323.3,232.8 323.5,233.7 323.6,234.6 323.8,235.4 323.9,236.1 324.1,236.8 324.2,237.3 324.4,237.8 324.5,238.1 324.7,238.4 324.8,238.6 325.0,238.6 325.1,238.5 325.3,238.4 325.4,238.1 325.6,237.7 325.7,237.2 325.9,236.7 326.0,236.0 326.2,235.3 326.3,234.4 326.5,233.6 326.6,232.6 326.8,231.7 326.9,230.7 327.1,229.7 327.2,228.6 327.4,227.6 327.5,226.6 327.7,225.6 327.8,224.7 328.0,223.8 328.1,222.9 328.3,222.2 328.4,221.5 328.6,220.9 328.7,220.3 328.9,219.9 329.0,219.6 329.2,219.4 329.3,219.3 329.5,219.3 329.6,219.4 329.8,219.6 329.9,219.9 330.1,220.3 330.2,220.9 330.4,221.5 330.5,222.2 330.7,223.0 330.8,223.8 331.0,224.7 331.1,225.7 331.3,226.6 331.4,227.7 331.6,228.7 331.7,229.7 331.9,230.7 332.1,231.7 332.2,232.7 332.4,233.6 332.5,234.5 332.7,235.3 332.8,236.1 333.0,236.7 333.1,237.3 333.3,237.8 333.4,238.1 333.6,238.4 333.7,238.6 333.9,238.6 334.0,238.5 334.2,238.4 334.3,238.1 334.5,237.7 334.6,237.2 334.8,236.6 334.9,236.0 335.1,235.2 335.2,234.4 335.4,233.5 335.5,232.6 335.7,231.6 335.8,230.6 336.0,229.6 336.1,228.6 336.3,227.5 336.4,226.5 336.6,225.5 336.7,224.6 336.9,223.7 337.0,222.9 337.2,222.1 337.3,221.4 337.5,220.8 337.6,220.3 337.8,219.9 337.9,219.6 338.1,219.4 338.2,219.3 338.4,219.4 338.5,219.5 338.7,219.8 338.8,220.1 339.0,220.6 339.1,221.1 339.3,221.8 339.4,222.5 339.6,223.3 339.7,224.2 339.9,225.1 340.0,226.0 340.2,227.1 340.3,228.1 340.5,229.1 340.6,230.1 340.8,231.2 340.9,232.2 341.1,233.1 341.2,234.0 341.4,234.9 341.5,235.7 341.7,236.4 341.8,237.0 342.0,237.5 342.1,237.9 342.3,238.3 342.4,238.5 342.6,238.6 342.7,238.6 342.9,238.5 343.0,238.2 343.2,237.9 343.3,237.5 343.5,236.9 343.6,236.3 343.8,235.6 343.9,234.8 344.1,233.9 344.2,233.0 344.4,232.1" fill="none" stroke="#0000ff" stroke-width="0.8" marker-mid="url(#dia)"/>
<g clip-path="url(#kc)">
<polyline points="93.5,229.0 93.7,228.8 93.9,228.7 94.1,228.5 94.3,228.3 94.5,228.0 94.7,227.9 94.9,227.9 95.1,228.2 95.3,228.6 95.5,229.1 95.7,229.7 95.9,230.4 96.1,231.0 96.3,231.7 96.5,232.4 96.7,233.2 96.9,233.9 97.1,234.5 97.3,235.2 97.5,235.8 97.7,236.3 97.9,236.7 98.1,237.1 98.3,237.4 98.5,237.5 98.7,237.5 98.9,237.4 99.1,237.2 99.3,236.8 99.5,236.3 99.7,235.4 99.9,234.4 100.1,233.3 100.3,232.1 100.5,230.9 100.7,229.6 100.9,228.3 101.1,227.0 101.3,225.7 101.5,224.5 101.7,223.2 101.9,222.0 102.1,220.9 102.3,219.8 102.5,218.9 102.7,218.0 102.9,217.3 103.1,216.7 103.3,216.2 103.5,215.8 103.7,215.6 103.9,215.6 104.1,215.7 104.3,216.0 104.5,216.4 104.7,217.2 104.9,218.1 105.1,219.1 105.3,220.2 105.5,221.5 105.7,222.8 105.9,224.2 106.2,225.6 106.4,227.0 106.6,228.5 106.8,230.0 107.0,231.4 107.2,232.8 107.4,234.2 107.6,235.5 107.8,236.7 108.0,237.8 108.2,238.8 108.4,239.6 108.6,240.4 108.8,241.0 109.0,241.4 109.2,241.7 109.4,241.8 109.6,241.7 109.8,241.5 110.0,241.2 110.2,240.6 110.4,240.0 110.6,239.1 110.8,238.2 111.0,237.1 111.2,235.9 111.4,234.7 111.6,233.3 111.8,231.9 112.0,230.4 112.2,228.9 112.4,227.4 112.6,225.9 112.8,224.5 113.0,223.0 113.2,221.7 113.4,220.4 113.6,219.2 113.8,218.1 114.0,217.2 114.2,216.3 114.4,215.7 114.6,215.1 114.8,214.8 115.0,214.6 115.2,214.6 115.4,214.7 115.6,215.0 115.8,215.5 116.0,216.2 116.2,217.0 116.4,217.9 116.6,219.0 116.8,220.2 117.0,221.5 117.2,222.9 117.4,224.3 117.6,225.9 117.8,227.4 118.0,229.0 118.2,230.6 118.4,232.2 118.6,233.7 118.8,235.1 119.0,236.5 119.2,237.8 119.4,238.9 119.6,240.0 119.8,240.9 120.0,241.6 120.2,242.2 120.4,242.7 120.6,242.9 120.8,243.0 121.0,242.9 121.2,242.7 121.4,242.2 121.6,241.6 121.8,240.8 122.0,239.9 122.2,238.9 122.4,237.7 122.6,236.4 122.8,235.0 123.0,233.5 123.2,232.0 123.4,230.4 123.6,228.8 123.8,227.2 124.0,225.7 124.2,224.1 124.4,222.6 124.6,221.2 124.8,219.9 125.0,218.7 125.2,217.6 125.4,216.7 125.6,215.9 125.8,215.3 126.0,214.8 126.2,214.5 126.4,214.4 126.6,214.5 126.8,214.8 127.0,215.2 127.2,215.8 127.4,216.5 127.6,217.4 127.8,218.5 128.0,219.7 128.2,221.0 128.4,222.4 128.6,223.9 128.8,225.4 129.0,227.0 129.2,228.6 129.4,230.2 129.6,231.8 129.8,233.4 130.0,234.9 130.2,236.3 130.4,237.6 130.6,238.8 130.8,239.9 131.0,240.8 131.3,241.6 131.5,242.3 131.7,242.7 131.9,243.0 132.1,243.1 132.3,243.0 132.5,242.7 132.7,242.3 132.9,241.7 133.1,240.9 133.3,239.9 133.5,238.9 133.7,237.6 133.9,236.3 134.1,234.9 134.3,233.4 134.5,231.8 134.7,230.2 134.9,228.6 135.1,227.0 135.3,225.4 135.5,223.8 135.7,222.3 135.9,220.9 136.1,219.6 136.3,218.4 136.5,217.3 136.7,216.4 136.9,215.6 137.1,215.0 137.3,214.6 137.5,214.4 137.7,214.3 137.9,214.5 138.1,214.8 138.3,215.3 138.5,216.0 138.7,216.8 138.9,217.8 139.1,219.0 139.3,220.2 139.5,221.6 139.7,223.1 139.9,224.6 140.1,226.2 140.3,227.8 140.5,229.5 140.7,231.1 140.9,232.7 141.1,234.3 141.3,235.8 141.5,237.2 141.7,238.4 141.9,239.6 142.1,240.6 142.3,241.5 142.5,242.2 142.7,242.7 142.9,243.0 143.1,243.2 143.3,243.1 143.5,242.9 143.7,242.5 143.9,241.9 144.1,241.1 144.3,240.2 144.5,239.1 144.7,237.9 144.9,236.5 145.1,235.1 145.3,233.5 145.5,232.0 145.7,230.3 145.9,228.7 146.1,227.0 146.3,225.4 146.5,223.8 146.7,222.2 146.9,220.8 147.1,219.5 147.3,218.2 147.5,217.2 147.7,216.2 147.9,215.5 148.1,214.9 148.3,214.5 148.5,214.3 148.7,214.2 148.9,214.4 149.1,214.8 149.3,215.3 149.5,216.1 149.7,216.9 149.9,218.0 150.1,219.2 150.3,220.5 150.5,221.9 150.7,223.5 150.9,225.1 151.1,226.7 151.3,228.4 151.5,230.1 151.7,231.7 151.9,233.3 152.1,234.9 152.3,236.4 152.5,237.7 152.7,239.0 152.9,240.1 153.1,241.1 153.3,241.9 153.5,242.5 153.7,242.9 153.9,243.2 154.1,243.2 154.3,243.1 154.5,242.7 154.7,242.2 154.9,241.5 155.1,240.6 155.3,239.6 155.5,238.4 155.7,237.1 155.9,235.6 156.1,234.1 156.4,232.5 156.6,230.8 156.8,229.1 157.0,227.4 157.2,225.8 157.4,224.1 157.6,222.5 157.8,221.0 158.0,219.7 158.2,218.4 158.4,217.3 158.6,216.3 158.8,215.5 159.0,214.9 159.2,214.4 159.4,214.2 159.6,214.1 159.8,214.3 160.0,214.7 160.2,215.2 160.4,215.9 160.6,216.8 160.8,217.9 161.0,219.1 161.2,220.5 161.4,221.9 161.6,223.5 161.8,225.1 162.0,226.8 162.2,228.5 162.4,230.2 162.6,231.9 162.8,233.6 163.0,235.1 163.2,236.6 163.4,238.0 163.6,239.3 163.8,240.4 164.0,241.3 164.2,242.1 164.4,242.7 164.6,243.1 164.8,243.3 165.0,243.3 165.2,243.1 165.4,242.7 165.6,242.1 165.8,241.3 166.0,240.3 166.2,239.2 166.4,237.9 166.6,236.5 166.8,235.0 167.0,233.4 167.2,231.8 167.4,230.1 167.6,228.3 167.8,226.6 168.0,224.9 168.2,223.3 168.4,221.7 168.6,220.2 168.8,218.9 169.0,217.7 169.2,216.6 169.4,215.7 169.6,215.0 169.8,214.5 170.0,214.2 170.2,214.0 170.4,214.1 170.6,214.4 170.8,214.9 171.0,215.6 171.2,216.5 171.4,217.5 171.6,218.7 171.8,220.0 172.0,221.5 172.2,223.1 172.4,224.7 172.6,226.4 172.8,228.2 173.0,229.9 173.2,231.6 173.4,233.3 173.6,234.9 173.8,236.5 174.0,237.9 174.2,239.2 174.4,240.3 174.6,241.3 174.8,242.1 175.0,242.7 175.2,243.1 175.4,243.4 175.6,243.4 175.8,243.1 176.0,242.7 176.2,242.1 176.4,241.3 176.6,240.3 176.8,239.2 177.0,237.9 177.2,236.4 177.4,234.9 177.6,233.3 177.8,231.6 178.0,229.8 178.2,228.0 178.4,226.3 178.6,224.6 178.8,222.9 179.0,221.3 179.2,219.9 179.4,218.5 179.6,217.3 179.8,216.3 180.0,215.4 180.2,214.7 180.4,214.3 180.6,214.0 180.8,214.0 181.0,214.1 181.2,214.5 181.5,215.1 181.7,215.8 181.9,216.8 182.1,217.9 182.3,219.2 182.5,220.6 182.7,222.2 182.9,223.8 183.1,225.5 183.3,227.3 183.5,229.0 183.7,230.8 183.9,232.5 184.1,234.2 184.3,235.8 184.5,237.3 184.7,238.7 184.9,239.9 185.1,241.0 185.3,241.9 185.5,242.6 185.7,243.1 185.9,243.4 186.1,243.4 186.3,243.3 186.5,242.9 186.7,242.4 186.9,241.6 187.1,240.7 187.3,239.5 187.5,238.2 187.7,236.8 187.9,235.2 188.1,233.6 188.3,231.9 188.5,230.1 188.7,228.3 188.9,226.5 189.1,224.8 189.3,223.1 189.5,221.5 189.7,219.9 189.9,218.6 190.1,217.3 190.3,216.3 190.5,215.4 190.7,214.7 190.9,214.2 191.1,213.9 191.3,213.9 191.5,214.0 191.7,214.4 191.9,215.0 192.1,215.8 192.3,216.8 192.5,217.9 192.7,219.3 192.9,220.7 193.1,222.3 193.3,224.0 193.5,225.7 193.7,227.5 193.9,229.3 194.1,231.1 194.3,232.9 194.5,234.6 194.7,236.2 194.9,237.7 195.1,239.1 195.3,240.3 195.5,241.3 195.7,242.2 195.9,242.8 196.1,243.3 196.3,243.5 196.5,243.5 196.7,243.3 196.9,242.8 197.1,242.2 197.3,241.3 197.5,240.3 197.7,239.1 197.9,237.7 198.1,236.2 198.3,234.5 198.5,232.8 198.7,231.0 198.9,229.2 199.1,227.4 199.3,225.6 199.5,223.8 199.7,222.1 199.9,220.6 200.1,219.1 200.3,217.8 200.5,216.6 200.7,215.6 200.9,214.8 201.1,214.3 201.3,213.9 201.5,213.8 201.7,213.9 201.9,214.2 202.1,214.7 202.3,215.5 202.5,216.4 202.7,217.5 202.9,218.8 203.1,220.3 203.3,221.9 203.5,223.6 203.7,225.3 203.9,227.1 204.1,229.0 204.3,230.8 204.5,232.6 204.7,234.4 204.9,236.0 205.1,237.6 205.3,239.0 205.5,240.2 205.7,241.3 205.9,242.2 206.1,242.9 206.3,243.3 206.6,243.6 206.8,243.6 207.0,243.3 207.2,242.9 207.4,242.2 207.6,241.4 207.8,240.3 208.0,239.0 208.2,237.6 208.4,236.1 208.6,234.4 208.8,232.7 209.0,230.9 209.2,229.0 209.4,227.1 209.6,225.3 209.8,223.5 210.0,221.8 210.2,220.2 210.4,218.8 210.6,217.4 210.8,216.3 211.0,215.3 211.2,214.6 211.4,214.1 211.6,213.8 211.8,213.7 212.0,213.8 212.2,214.2 212.4,214.8 212.6,215.7 212.8,216.7 213.0,217.9 213.2,219.3 213.4,220.8 213.6,222.5 213.8,224.2 214.0,226.0 214.2,227.9 214.4,229.8 214.6,231.6 214.8,233.4 215.0,235.2 215.2,236.8 215.4,238.3 215.6,239.7 215.8,240.9 216.0,241.8 216.2,242.6 216.4,243.2 216.6,243.5 216.8,243.7 217.0,243.5 217.2,243.2 217.4,242.6 217.6,241.8 217.8,240.7 218.0,239.5 218.2,238.2 218.4,236.6 218.6,235.0 218.8,233.2 219.0,231.4 219.2,229.5 219.4,227.6 219.6,225.7 219.8,223.9 220.0,222.2 220.2,220.5 220.4,219.0 220.6,217.6 220.8,216.4 221.0,215.4 221.2,214.6 221.4,214.0 221.6,213.7 221.8,213.6 222.0,213.7 222.2,214.1 222.4,214.7 222.6,215.5 222.8,216.5 223.0,217.8 223.2,219.2 223.4,220.7 223.6,222.4 223.8,224.2 224.0,226.0 224.2,227.9 224.4,229.8 224.6,231.7 224.8,233.5 225.0,235.3 225.2,237.0 225.4,238.5 225.6,239.8 225.8,241.0 226.0,242.0 226.2,242.8 226.4,243.3 226.6,243.6 226.8,243.7 227.0,243.5 227.2,243.1 227.4,242.5 227.6,241.6 227.8,240.5 228.0,239.3 228.2,237.8 228.4,236.2 228.6,234.5 228.8,232.7 229.0,230.8 229.2,228.9 229.4,227.0 229.6,225.1 229.8,223.3 230.0,221.5 230.2,219.9 230.4,218.4 230.6,217.0 230.8,215.9 231.0,215.0 231.2,214.3 231.4,213.8 231.7,213.5 231.9,213.5 232.1,213.8 232.3,214.3 232.5,215.0 232.7,215.9 232.9,217.1 233.1,218.4 233.3,219.9 233.5,221.6 233.7,223.4 233.9,225.2 234.1,227.1 234.3,229.1 234.5,231.0 234.7,232.9 234.9,234.7 235.1,236.4 235.3,238.0 235.5,239.5 235.7,240.7 235.9,241.8 236.1,242.6 236.3,243.3 236.5,243.6 236.7,243.8 236.9,243.7 237.1,243.3 237.3,242.7 237.5,241.9 237.7,240.8 237.9,239.6 238.1,238.1 238.3,236.5 238.5,234.8 238.7,233.0 238.9,231.1 239.1,229.1 239.3,227.2 239.5,225.3 239.7,223.4 239.9,221.6 240.1,219.9 240.3,218.4 240.5,217.0 240.7,215.9 240.9,214.9 241.1,214.2 241.3,213.7 241.5,213.4 241.7,213.4 241.9,213.7 242.1,214.2 242.3,215.0 242.5,215.9 242.7,217.1 242.9,218.5 243.1,220.1 243.3,221.7 243.5,223.6 243.7,225.4 243.9,227.4 244.1,229.4 244.3,231.3 244.5,233.2 244.7,235.1 244.9,236.8 245.1,238.4 245.3,239.8 245.5,241.0 245.7,242.1 245.9,242.9 246.1,243.5 246.3,243.8 246.5,243.8 246.7,243.6 246.9,243.2 247.1,242.5 247.3,241.6 247.5,240.4 247.7,239.1 247.9,237.6 248.1,235.9 248.3,234.1 248.5,232.2 248.7,230.3 248.9,228.3 249.1,226.3 249.3,224.4 249.5,222.5 249.7,220.7 249.9,219.1 250.1,217.6 250.3,216.3 250.5,215.3 250.7,214.4 250.9,213.8 251.1,213.4 251.3,213.3 251.5,213.5 251.7,213.9 251.9,214.6 252.1,215.5 252.3,216.6 252.5,217.9 252.7,219.4 252.9,221.1 253.1,222.9 253.3,224.8 253.5,226.8 253.7,228.8 253.9,230.7 254.1,232.7 254.3,234.6 254.5,236.4 254.7,238.0 254.9,239.5 255.1,240.8 255.3,241.9 255.5,242.8 255.7,243.4 255.9,243.8 256.1,243.9 256.3,243.8 256.5,243.3 256.8,242.7 257.0,241.8 257.2,240.6 257.4,239.3 257.6,237.8 257.8,236.1 258.0,234.3 258.2,232.3 258.4,230.4 258.6,228.4 258.8,226.3 259.0,224.4 259.2,222.5 259.4,220.7 259.6,219.0 259.8,217.5 260.0,216.2 260.2,215.1 260.4,214.3 260.6,213.7 260.8,213.3 261.0,213.2 261.2,213.4 261.4,213.9 261.6,214.6 261.8,215.5 262.0,216.7 262.2,218.1 262.4,219.6 262.6,221.4 262.8,223.2 263.0,225.2 263.2,227.2 263.4,229.2 263.6,231.2 263.8,233.2 264.0,235.1 264.2,236.9 264.4,238.5 264.6,240.0 264.8,241.2 265.0,242.3 265.2,243.1 265.4,243.6 265.6,243.9 265.8,244.0 266.0,243.7 266.2,243.2 266.4,242.4 266.6,241.4 266.8,240.2 267.0,238.7 267.2,237.1 267.4,235.3 267.6,233.4 267.8,231.5 268.0,229.4 268.2,227.4 268.4,225.4 268.6,223.4 268.8,221.5 269.0,219.7 269.2,218.1 269.4,216.7 269.6,215.5 269.8,214.6 270.0,213.8 270.2,213.4 270.4,213.2 270.6,213.2 270.8,213.6 271.0,214.2 271.2,215.1 271.4,216.2 271.6,217.5 271.8,219.0 272.0,220.7 272.2,222.6 272.4,224.5 272.6,226.5 272.8,228.6 273.0,230.7 273.2,232.7 273.4,234.6 273.6,236.5 273.8,238.2 274.0,239.7 274.2,241.0 274.4,242.1 274.6,243.0 274.8,243.6 275.0,244.0 275.2,244.0 275.4,243.8 275.6,243.3 275.8,242.6 276.0,241.6 276.2,240.3 276.4,238.9 276.6,237.3 276.8,235.5 277.0,233.6 277.2,231.6 277.4,229.5 277.6,227.4 277.8,225.4 278.0,223.4 278.2,221.5 278.4,219.7 278.6,218.1 278.8,216.6 279.0,215.4 279.2,214.4 279.4,213.7 279.6,213.3 279.8,213.1 280.0,213.2 280.2,213.6 280.4,214.2 280.6,215.1 280.8,216.3 281.0,217.7 281.2,219.2 281.4,221.0 281.6,222.9 281.9,224.9 282.1,226.9 282.3,229.0 282.5,231.1 282.7,233.2 282.9,235.1 283.1,236.9 283.3,238.6 283.5,240.1 283.7,241.4 283.9,242.5 284.1,243.3 284.3,243.8 284.5,244.1 284.7,244.1 284.9,243.7 285.1,243.2 285.3,242.3 285.5,241.2 285.7,239.9 285.9,238.3 286.1,236.6 286.3,234.7 286.5,232.7 286.7,230.7 286.9,228.6 287.1,226.5 287.3,224.4 287.5,222.4 287.7,220.5 287.9,218.8 288.1,217.2 288.3,215.9 288.5,214.8 288.7,213.9 288.9,213.3 289.1,213.0 289.3,213.0 289.5,213.3 289.7,213.8 289.9,214.7 290.1,215.7 290.3,217.1 290.5,218.6 290.7,220.3 290.9,222.2 291.1,224.2 291.3,226.2 291.5,228.4 291.7,230.5 291.9,232.6 292.1,234.6 292.3,236.5 292.5,238.2 292.7,239.8 292.9,241.2 293.1,242.3 293.3,243.2 293.5,243.8 293.7,244.1 293.9,244.1 294.1,243.9 294.3,243.3 294.5,242.5 294.7,241.4 294.9,240.1 295.1,238.6 295.3,236.8 295.5,235.0 295.7,232.9 295.9,230.9 296.1,228.7 296.3,226.6 296.5,224.5 296.7,222.5 296.9,220.6 297.1,218.8 297.3,217.2 297.5,215.8 297.7,214.7 297.9,213.8 298.1,213.3 298.3,213.0 298.5,212.9 298.7,213.2 298.9,213.8 299.1,214.6 299.3,215.8 299.5,217.1 299.7,218.7 299.9,220.4 300.1,222.4 300.3,224.4 300.5,226.5 300.7,228.6 300.9,230.8 301.1,232.9 301.3,234.9 301.5,236.8 301.7,238.6 301.9,240.1 302.1,241.5 302.3,242.6 302.5,243.4 302.7,244.0 302.9,244.2 303.1,244.2 303.3,243.8 303.5,243.2 303.7,242.3 303.9,241.1 304.1,239.7 304.3,238.1 304.5,236.3 304.7,234.3 304.9,232.2 305.1,230.1 305.3,227.9 305.5,225.8 305.7,223.7 305.9,221.6 306.1,219.8 306.3,218.0 306.5,216.5 306.7,215.2 307.0,214.2 307.2,213.5 307.4,213.0 307.6,212.8 307.8,213.0 308.0,213.4 308.2,214.1 308.4,215.1 308.6,216.4 308.8,217.9 309.0,219.6 309.2,221.5 309.4,223.5 309.6,225.6 309.8,227.7 310.0,229.9 310.2,232.1 310.4,234.2 310.6,236.2 310.8,238.0 311.0,239.7 311.2,241.1 311.4,242.3 311.6,243.2 311.8,243.9 312.0,244.2 312.2,244.3 312.4,244.0 312.6,243.4 312.8,242.6 313.0,241.5 313.2,240.1 313.4,238.5 313.6,236.7 313.8,234.8 314.0,232.7 314.2,230.5 314.4,228.3 314.6,226.1 314.8,224.0 315.0,221.9 315.2,220.0 315.4,218.2 315.6,216.7 315.8,215.3 316.0,214.3 316.2,213.5 316.4,212.9 316.6,212.8 316.8,212.9 317.0,213.3 317.2,214.0 317.4,215.0 317.6,216.3 317.8,217.8 318.0,219.5 318.2,221.4 318.4,223.4 318.6,225.6 318.8,227.8 319.0,230.0 319.2,232.2 319.4,234.3 319.6,236.3 319.8,238.1 320.0,239.8 320.2,241.3 320.4,242.4 320.6,243.4 320.8,244.0 321.0,244.3 321.2,244.3 321.4,244.0 321.6,243.4 321.8,242.5 322.0,241.3 322.2,239.9 322.4,238.2 322.6,236.4 322.8,234.3 323.0,232.2 323.2,230.0 323.4,227.8 323.6,225.6 323.8,223.4 324.0,221.4 324.2,219.4 324.4,217.7 324.6,216.2 324.8,214.9 325.0,213.9 325.2,213.2 325.4,212.8 325.6,212.7 325.8,212.9 326.0,213.4 326.2,214.3 326.4,215.4 326.6,216.8 326.8,218.4 327.0,220.2 327.2,222.2 327.4,224.3 327.6,226.5 327.8,228.7 328.0,231.0 328.2,233.2 328.4,235.3 328.6,237.2 328.8,239.0 329.0,240.6 329.2,241.9 329.4,243.0 329.6,243.8 329.8,244.3 330.0,244.4 330.2,244.2 330.4,243.8 330.6,243.0 330.8,241.9 331.0,240.5 331.2,238.9 331.4,237.1 331.6,235.1 331.8,233.0 332.1,230.8 332.3,228.6 332.5,226.3 332.7,224.1 332.9,222.0 333.1,220.0 333.3,218.2 333.5,216.5 333.7,215.2 333.9,214.1 334.1,213.3 334.3,212.8 334.5,212.6 334.7,212.7 334.9,213.2 335.1,214.0 335.3,215.1 335.5,216.4 335.7,218.0 335.9,219.8 336.1,221.8 336.3,223.9 336.5,226.1 336.7,228.4 336.9,230.7 337.1,232.9 337.3,235.0 337.5,237.1 337.7,238.9 337.9,240.5 338.1,241.9 338.3,243.0 338.5,243.8 338.7,244.3 338.9,244.5 339.1,244.3 339.3,243.8 339.5,243.0 339.7,241.9 339.9,240.6 340.1,239.0 340.3,237.1 340.5,235.1 340.7,233.0 340.9,230.7 341.1,228.4 341.3,226.1 341.5,223.9 341.7,221.8 341.9,219.8 342.1,217.9 342.3,216.3 342.5,215.0 342.7,213.9 342.9,213.1 343.1,212.6 343.3,212.5 343.5,212.7 343.7,213.2 343.9,214.1 344.1,215.2 344.3,216.6 344.5,218.3" fill="none" stroke="#ff0000" stroke-width="1" marker-mid="url(#cirs)"/>
<polyline points="93.5,229.0 93.8,228.7 94.0,228.2 94.3,227.5 94.5,227.0 94.8,226.8 95.0,226.7 95.3,227.2 95.5,227.9 95.8,228.7 96.0,229.5 96.3,230.4 96.5,231.4 96.8,232.4 97.0,233.5 97.3,234.5 97.5,235.4 97.8,236.3 98.0,237.0 98.3,237.7 98.5,238.2 98.8,238.5 99.0,238.6 99.3,238.5 99.5,238.2 99.8,237.4 100.0,236.4 100.3,235.3 100.5,234.0 100.8,232.5 101.0,230.9 101.3,229.2 101.5,227.5 101.8,225.7 102.0,223.9 102.3,222.1 102.5,220.4 102.8,218.8 103.0,217.4 103.3,216.1 103.5,215.1 103.8,214.2 104.0,213.7 104.3,213.4 104.5,213.4 104.8,213.8 105.0,214.6 105.3,215.6 105.5,217.0 105.8,218.5 106.0,220.3 106.3,222.4 106.6,224.6 106.8,226.9 107.1,229.3 107.3,231.8 107.6,234.2 107.8,236.7 108.1,239.0 108.3,241.2 108.6,243.3 108.8,245.1 109.1,246.6 109.3,247.9 109.6,248.8 109.8,249.4 110.1,249.7 110.3,249.6 110.6,248.9 110.8,247.9 111.1,246.6 111.3,244.9 111.6,243.0 111.8,240.7 112.1,238.3 112.3,235.6 112.6,232.8 112.8,230.0 113.1,227.1 113.3,224.2 113.6,221.4 113.8,218.8 114.1,216.3 114.3,214.1 114.6,212.1 114.8,210.5 115.1,209.2 115.3,208.3 115.6,207.8 115.8,207.8 116.1,208.1 116.3,209.0 116.6,210.3 116.8,211.9 117.1,213.9 117.3,216.3 117.6,218.9 117.8,221.8 118.1,224.8 118.3,228.0 118.6,231.2 118.9,234.4 119.1,237.6 119.4,240.6 119.6,243.5 119.9,246.1 120.1,248.5 120.4,250.5 120.6,252.2 120.9,253.4 121.1,254.2 121.4,254.5 121.6,254.4 121.9,253.8 122.1,252.8 122.4,251.3 122.6,249.4 122.9,247.0 123.1,244.4 123.4,241.4 123.6,238.3 123.9,235.0 124.1,231.6 124.4,228.2 124.6,224.8 124.9,221.6 125.1,218.5 125.4,215.6 125.6,213.0 125.9,210.8 126.1,209.0 126.4,207.5 126.6,206.5 126.9,206.0 127.1,206.0 127.4,206.4 127.6,207.3 127.9,208.7 128.1,210.5 128.4,212.7 128.6,215.3 128.9,218.1 129.1,221.2 129.4,224.4 129.6,227.8 129.9,231.2 130.1,234.6 130.4,237.9 130.6,241.0 130.9,243.9 131.2,246.6 131.4,248.9 131.7,250.9 131.9,252.4 132.2,253.5 132.4,254.1 132.7,254.3 132.9,254.0 133.2,253.1 133.4,251.9 133.7,250.2 133.9,248.1 134.2,245.6 134.4,242.9 134.7,239.9 134.9,236.6 135.2,233.3 135.4,229.9 135.7,226.4 135.9,223.1 136.2,219.9 136.4,216.9 136.7,214.1 136.9,211.7 137.2,209.7 137.4,208.0 137.7,206.8 137.9,206.1 138.2,205.9 138.4,206.1 138.7,206.8 138.9,208.0 139.2,209.6 139.4,211.7 139.7,214.1 139.9,216.8 140.2,219.8 140.4,223.1 140.7,226.4 140.9,229.9 141.2,233.3 141.4,236.7 141.7,240.0 141.9,243.0 142.2,245.8 142.4,248.3 142.7,250.3 142.9,252.0 143.2,253.2 143.4,254.0 143.7,254.2 144.0,254.0 144.2,253.3 144.5,252.0 144.7,250.4 145.0,248.3 145.2,245.8 145.5,243.0 145.7,239.9 146.0,236.6 146.2,233.1 146.5,229.6 146.7,226.1 147.0,222.6 147.2,219.3 147.5,216.3 147.7,213.4 148.0,211.0 148.2,208.9 148.5,207.2 148.7,206.0 149.0,205.3 149.2,205.1 149.5,205.4 149.7,206.2 150.0,207.5 150.2,209.3 150.5,211.5 150.7,214.0 151.0,216.9 151.2,220.1 151.5,223.5 151.7,227.0 152.0,230.5 152.2,234.1 152.5,237.5 152.7,240.8 153.0,243.9 153.2,246.6 153.5,249.0 153.7,251.0 154.0,252.6 154.2,253.6 154.5,254.2 154.7,254.2 155.0,253.7 155.2,252.7 155.5,251.2 155.7,249.3 156.0,246.9 156.2,244.2 156.5,241.1 156.8,237.8 157.0,234.3 157.3,230.7 157.5,227.1 157.8,223.5 158.0,220.0 158.3,216.8 158.5,213.8 158.8,211.1 159.0,208.8 159.3,206.9 159.5,205.6 159.8,204.7 160.0,204.3 160.3,204.5 160.5,205.3 160.8,206.5 161.0,208.2 161.3,210.4 161.5,213.0 161.8,216.0 162.0,219.2 162.3,222.7 162.5,226.3 162.8,230.0 163.0,233.6 163.3,237.2 163.5,240.7 163.8,243.8 164.0,246.7 164.3,249.2 164.5,251.3 164.8,252.9 165.0,254.0 165.3,254.6 165.5,254.6 165.8,254.1 166.0,253.0 166.3,251.4 166.5,249.4 166.8,246.8 167.0,244.0 167.3,240.8 167.5,237.3 167.8,233.6 168.0,229.9 168.3,226.1 168.5,222.3 168.8,218.7 169.1,215.4 169.3,212.3 169.6,209.6 169.8,207.3 170.1,205.4 170.3,204.1 170.6,203.4 170.8,203.2 171.1,203.6 171.3,204.5 171.6,206.0 171.8,208.1 172.1,210.6 172.3,213.5 172.6,216.8 172.8,220.3 173.1,224.1 173.3,228.0 173.6,232.0 173.8,235.9 174.1,239.7 174.3,243.2 174.6,246.5 174.8,249.4 175.1,251.9 175.3,253.9 175.6,255.3 175.8,256.2 176.1,256.5 176.3,256.2 176.6,255.3 176.8,253.8 177.1,251.8 177.3,249.2 177.6,246.2 177.8,242.8 178.1,239.1 178.3,235.2 178.6,231.1 178.8,227.0 179.1,223.0 179.3,219.0 179.6,215.3 179.8,211.9 180.1,208.9 180.3,206.4 180.6,204.3 180.8,202.8 181.1,201.9 181.3,201.6 181.6,202.0 181.9,202.9 182.1,204.5 182.4,206.6 182.6,209.3 182.9,212.4 183.1,215.9 183.4,219.7 183.6,223.7 183.9,227.8 184.1,232.1 184.4,236.2 184.6,240.2 184.9,244.0 185.1,247.4 185.4,250.4 185.6,253.0 185.9,255.0 186.1,256.4 186.4,257.2 186.6,257.4 186.9,256.9 187.1,255.8 187.4,254.1 187.6,251.8 187.9,249.0 188.1,245.7 188.4,242.0 188.6,238.0 188.9,233.8 189.1,229.5 189.4,225.2 189.6,220.9 189.9,216.8 190.1,213.0 190.4,209.5 190.6,206.5 190.9,204.0 191.1,202.1 191.4,200.8 191.6,200.1 191.9,200.1 192.1,200.8 192.4,202.1 192.6,204.1 192.9,206.6 193.1,209.6 193.4,213.2 193.6,217.0 193.9,221.2 194.2,225.5 194.4,230.0 194.7,234.4 194.9,238.7 195.2,242.8 195.4,246.5 195.7,249.9 195.9,252.8 196.2,255.1 196.4,256.8 196.7,257.9 196.9,258.3 197.2,258.0 197.4,257.0 197.7,255.4 197.9,253.1 198.2,250.3 198.4,247.0 198.7,243.2 198.9,239.1 199.2,234.8 199.4,230.3 199.7,225.8 199.9,221.3 200.2,217.0 200.4,213.0 200.7,209.4 200.9,206.2 201.2,203.6 201.4,201.5 201.7,200.1 201.9,199.4 202.2,199.3 202.4,200.0 202.7,201.4 202.9,203.4 203.2,206.0 203.4,209.2 203.7,212.9 203.9,216.9 204.2,221.3 204.4,225.8 204.7,230.4 204.9,235.0 205.2,239.5 205.4,243.7 205.7,247.6 205.9,251.0 206.2,253.9 206.4,256.2 206.7,257.9 207.0,258.9 207.2,259.2 207.5,258.7 207.7,257.6 208.0,255.7 208.2,253.2 208.5,250.1 208.7,246.5 209.0,242.5 209.2,238.2 209.5,233.6 209.7,228.9 210.0,224.2 210.2,219.6 210.5,215.2 210.7,211.2 211.0,207.5 211.2,204.4 211.5,201.9 211.7,200.0 212.0,198.9 212.2,198.4 212.5,198.8 212.7,199.8 213.0,201.6 213.2,204.0 213.5,207.0 213.7,210.6 214.0,214.6 214.2,219.0 214.5,223.6 214.7,228.4 215.0,233.2 215.2,237.9 215.5,242.3 215.7,246.5 216.0,250.2 216.2,253.4 216.5,256.1 216.7,258.0 217.0,259.3 217.2,259.8 217.5,259.6 217.7,258.6 218.0,256.9 218.2,254.5 218.5,251.4 218.7,247.9 219.0,243.8 219.3,239.4 219.5,234.7 219.8,229.9 220.0,225.1 220.3,220.3 220.5,215.8 220.8,211.6 221.0,207.8 221.3,204.5 221.5,201.9 221.8,199.9 222.0,198.7 222.3,198.2 222.5,198.4 222.8,199.5 223.0,201.3 223.3,203.7 223.5,206.8 223.8,210.5 224.0,214.6 224.3,219.1 224.5,223.8 224.8,228.7 225.0,233.5 225.3,238.3 225.5,242.8 225.8,247.0 226.0,250.7 226.3,253.9 226.5,256.5 226.8,258.4 227.0,259.6 227.3,259.9 227.5,259.6 227.8,258.4 228.0,256.5 228.3,254.0 228.5,250.8 228.8,247.0 229.0,242.8 229.3,238.3 229.5,233.5 229.8,228.6 230.0,223.8 230.3,219.0 230.5,214.6 230.8,210.5 231.0,206.8 231.3,203.8 231.6,201.3 231.8,199.6 232.1,198.7 232.3,198.5 232.6,199.1 232.8,200.4 233.1,202.5 233.3,205.2 233.6,208.6 233.8,212.5 234.1,216.8 234.3,221.4 234.6,226.3 234.8,231.2 235.1,236.0 235.3,240.7 235.6,245.1 235.8,249.1 236.1,252.5 236.3,255.4 236.6,257.6 236.8,259.0 237.1,259.7 237.3,259.6 237.6,258.8 237.8,257.1 238.1,254.8 238.3,251.7 238.6,248.1 238.8,244.0 239.1,239.6 239.3,234.8 239.6,229.9 239.8,225.0 240.1,220.2 240.3,215.6 240.6,211.4 240.8,207.6 241.1,204.4 241.3,201.8 241.6,199.9 241.8,198.8 242.1,198.5 242.3,198.9 242.6,200.2 242.8,202.2 243.1,204.9 243.3,208.3 243.6,212.1 243.8,216.5 244.1,221.2 244.4,226.0 244.6,231.0 244.9,235.9 245.1,240.6 245.4,245.1 245.6,249.1 245.9,252.6 246.1,255.5 246.4,257.7 246.6,259.2 246.9,259.8 247.1,259.7 247.4,258.8 247.6,257.1 247.9,254.6 248.1,251.5 248.4,247.8 248.6,243.7 248.9,239.1 249.1,234.3 249.4,229.3 249.6,224.4 249.9,219.6 250.1,215.0 250.4,210.8 250.6,207.1 250.9,204.0 251.1,201.6 251.4,199.9 251.6,199.0 251.9,198.9 252.1,199.6 252.4,201.1 252.6,203.3 252.9,206.2 253.1,209.8 253.4,213.9 253.6,218.3 253.9,223.1 254.1,228.1 254.4,233.1 254.6,238.0 254.9,242.7 255.1,247.0 255.4,250.9 255.6,254.1 255.9,256.7 256.1,258.6 256.4,259.7 256.6,259.9 256.9,259.4 257.2,258.0 257.4,255.9 257.7,253.0 257.9,249.5 258.2,245.5 258.4,241.0 258.7,236.2 258.9,231.2 259.2,226.2 259.4,221.2 259.7,216.5 259.9,212.1 260.2,208.1 260.4,204.7 260.7,202.0 260.9,200.0 261.2,198.8 261.4,198.5 261.7,198.9 261.9,200.2 262.2,202.3 262.4,205.1 262.7,208.5 262.9,212.5 263.2,216.9 263.4,221.7 263.7,226.7 263.9,231.7 264.2,236.6 264.4,241.3 264.7,245.7 264.9,249.7 265.2,253.0 265.4,255.7 265.7,257.7 265.9,258.8 266.2,259.2 266.4,258.7 266.7,257.4 266.9,255.4 267.2,252.6 267.4,249.1 267.7,245.1 267.9,240.7 268.2,236.0 268.4,231.0 268.7,226.0 268.9,221.1 269.2,216.4 269.5,212.1 269.7,208.2 270.0,204.9 270.2,202.3 270.5,200.4 270.7,199.3 271.0,199.0 271.2,199.6 271.5,201.0 271.7,203.1 272.0,206.0 272.2,209.5 272.5,213.5 272.7,217.9 273.0,222.7 273.2,227.6 273.5,232.5 273.7,237.3 274.0,241.9 274.2,246.1 274.5,249.9 274.7,253.0 275.0,255.5 275.2,257.2 275.5,258.1 275.7,258.2 276.0,257.5 276.2,256.0 276.5,253.7 276.7,250.8 277.0,247.2 277.2,243.1 277.5,238.6 277.7,233.9 278.0,229.1 278.2,224.2 278.5,219.5 278.7,215.0 279.0,211.0 279.2,207.5 279.5,204.5 279.7,202.3 280.0,200.8 280.2,200.2 280.5,200.3 280.7,201.2 281.0,202.9 281.2,205.4 281.5,208.5 281.8,212.2 282.0,216.4 282.3,220.9 282.5,225.6 282.8,230.4 283.0,235.2 283.3,239.8 283.5,244.0 283.8,247.8 284.0,251.1 284.3,253.7 284.5,255.7 284.8,256.8 285.0,257.2 285.3,256.7 285.5,255.5 285.8,253.5 286.0,250.8 286.3,247.5 286.5,243.6 286.8,239.3 287.0,234.8 287.3,230.0 287.5,225.3 287.8,220.6 288.0,216.2 288.3,212.2 288.5,208.7 288.8,205.7 289.0,203.4 289.3,201.8 289.5,201.1 289.8,201.1 290.0,202.0 290.3,203.6 290.5,206.0 290.8,209.0 291.0,212.5 291.3,216.6 291.5,221.0 291.8,225.6 292.0,230.3 292.3,234.9 292.5,239.4 292.8,243.5 293.0,247.2 293.3,250.4 293.5,253.0 293.8,254.8 294.0,255.9 294.3,256.2 294.6,255.7 294.8,254.5 295.1,252.4 295.3,249.8 295.6,246.5 295.8,242.7 296.1,238.5 296.3,234.1 296.6,229.5 296.8,224.9 297.1,220.5 297.3,216.3 297.6,212.5 297.8,209.2 298.1,206.5 298.3,204.5 298.6,203.2 298.8,202.6 299.1,202.8 299.3,203.8 299.6,205.6 299.8,208.0 300.1,211.0 300.3,214.6 300.6,218.6 300.8,222.9 301.1,227.4 301.3,231.9 301.6,236.3 301.8,240.5 302.1,244.3 302.3,247.7 302.6,250.5 302.8,252.7 303.1,254.2 303.3,254.9 303.6,254.9 303.8,254.1 304.1,252.6 304.3,250.3 304.6,247.5 304.8,244.1 305.1,240.2 305.3,236.1 305.6,231.7 305.8,227.3 306.1,222.9 306.3,218.8 306.6,214.9 306.9,211.5 307.1,208.6 307.4,206.4 307.6,204.8 307.9,203.9 308.1,203.9 308.4,204.5 308.6,206.0 308.9,208.1 309.1,210.8 309.4,214.1 309.6,217.8 309.9,221.9 310.1,226.1 310.4,230.5 310.6,234.8 310.9,238.9 311.1,242.7 311.4,246.1 311.6,249.0 311.9,251.3 312.1,252.9 312.4,253.8 312.6,253.9 312.9,253.3 313.1,251.9 313.4,249.9 313.6,247.2 313.9,244.1 314.1,240.4 314.4,236.4 314.6,232.3 314.9,228.0 315.1,223.8 315.4,219.8 315.6,216.0 315.9,212.7 316.1,209.9 316.4,207.6 316.6,206.1 316.9,205.2 317.1,205.1 317.4,205.7 317.6,207.1 317.9,209.1 318.1,211.7 318.4,214.8 318.6,218.4 318.9,222.3 319.1,226.4 319.4,230.6 319.7,234.7 319.9,238.6 320.2,242.3 320.4,245.5 320.7,248.2 320.9,250.3 321.2,251.8 321.4,252.6 321.7,252.6 321.9,251.9 322.2,250.5 322.4,248.5 322.7,245.8 322.9,242.7 323.2,239.1 323.4,235.3 323.7,231.3 323.9,227.2 324.2,223.2 324.4,219.4 324.7,215.9 324.9,212.8 325.2,210.3 325.4,208.3 325.7,207.0 325.9,206.4 326.2,206.5 326.4,207.3 326.7,208.7 326.9,210.8 327.2,213.5 327.4,216.6 327.7,220.1 327.9,223.9 328.2,227.8 328.4,231.8 328.7,235.6 328.9,239.3 329.2,242.6 329.4,245.4 329.7,247.8 329.9,249.5 330.2,250.6 330.4,251.0 330.7,250.7 330.9,249.7 331.2,248.1 331.4,245.9 331.7,243.2 331.9,240.0 332.2,236.5 332.5,232.7 332.7,228.8 333.0,225.0 333.2,221.3 333.5,217.8 333.7,214.7 334.0,212.1 334.2,210.0 334.5,208.5 334.7,207.6 335.0,207.4 335.2,207.9 335.5,209.1 335.7,210.9 336.0,213.3 336.2,216.1 336.5,219.3 336.7,222.9 337.0,226.6 337.2,230.4 337.5,234.1 337.7,237.6 338.0,240.9 338.2,243.7 338.5,246.1 338.7,247.9 339.0,249.1 339.2,249.7 339.5,249.6 339.7,248.8 340.0,247.4 340.2,245.4 340.5,242.9 340.7,239.9 341.0,236.6 341.2,233.1 341.5,229.4 341.7,225.7 342.0,222.1 342.2,218.7 342.5,215.7 342.7,213.1 343.0,211.0 343.2,209.5 343.5,208.6 343.7,208.4 344.0,208.8 344.2,209.9 344.5,211.6" fill="none" stroke="#00ff00" stroke-width="2.1"/>
<polyline points="93.5,229.0 93.8,228.7 94.0,227.8 94.3,227.0 94.5,226.3 94.8,225.8 95.0,225.5 95.3,225.9 95.5,226.5 95.8,227.1 96.0,227.9 96.3,228.8 96.5,229.8 96.8,230.9 97.0,232.0 97.3,233.2 97.5,234.3 97.8,235.4 98.0,236.5 98.3,237.5 98.5,238.3 98.8,239.0 99.0,239.5 99.3,239.8 99.5,239.9 99.8,239.5 100.0,238.8 100.3,238.0 100.5,236.9 100.8,235.6 101.0,234.1 101.3,232.5 101.5,230.7 101.8,228.8 102.0,226.8 102.3,224.8 102.5,222.8 102.8,220.8 103.0,218.9 103.3,217.2 103.5,215.5 103.8,214.1 104.0,212.9 104.3,212.0 104.5,211.4 104.8,211.3 105.0,211.5 105.3,212.0 105.5,212.9 105.8,214.1 106.0,215.6 106.3,217.3 106.6,219.3 106.8,221.6 107.1,224.0 107.3,226.5 107.6,229.2 107.8,231.9 108.1,234.5 108.3,237.2 108.6,239.7 108.8,242.0 109.1,244.2 109.3,246.1 109.6,247.7 109.8,249.0 110.1,249.9 110.3,250.4 110.6,250.4 110.8,250.0 111.1,249.2 111.3,248.0 111.6,246.4 111.8,244.5 112.1,242.3 112.3,239.8 112.6,237.2 112.8,234.3 113.1,231.3 113.3,228.3 113.6,225.2 113.8,222.3 114.1,219.4 114.3,216.7 114.6,214.2 114.8,212.0 115.1,210.1 115.3,208.6 115.6,207.4 115.8,206.7 116.1,206.4 116.3,206.7 116.6,207.4 116.8,208.6 117.1,210.2 117.3,212.1 117.6,214.4 117.8,217.0 118.1,219.8 118.3,222.8 118.6,225.9 118.9,229.1 119.1,232.3 119.4,235.4 119.6,238.5 119.9,241.3 120.1,244.0 120.4,246.4 120.6,248.4 120.9,250.1 121.1,251.4 121.4,252.3 121.6,252.8 121.9,252.8 122.1,252.4 122.4,251.5 122.6,250.1 122.9,248.4 123.1,246.3 123.4,243.9 123.6,241.3 123.9,238.5 124.1,235.5 124.4,232.5 124.6,229.5 124.9,226.5 125.1,223.7 125.4,221.0 125.6,218.5 125.9,216.3 126.1,214.4 126.4,212.8 126.6,211.6 126.9,210.8 127.1,210.4 127.4,210.4 127.6,210.8 127.9,211.5 128.1,212.6 128.4,214.1 128.6,215.9 128.9,217.9 129.1,220.2 129.4,222.7 129.6,225.3 129.9,228.0 130.1,230.7 130.4,233.3 130.6,235.9 130.9,238.4 131.2,240.7 131.4,242.7 131.7,244.5 131.9,245.9 132.2,247.0 132.4,247.8 132.7,248.2 132.9,248.3 133.2,247.9 133.4,247.2 133.7,246.3 133.9,245.0 134.2,243.4 134.4,241.5 134.7,239.5 134.9,237.2 135.2,234.8 135.4,232.3 135.7,229.8 135.9,227.3 136.2,224.8 136.4,222.5 136.7,220.4 136.9,218.4 137.2,216.7 137.4,215.3 137.7,214.2 137.9,213.4 138.2,213.0 138.4,212.9 138.7,213.2 138.9,213.7 139.2,214.5 139.4,215.7 139.7,217.1 139.9,218.8 140.2,220.8 140.4,222.9 140.7,225.2 140.9,227.6 141.2,230.0 141.4,232.4 141.7,234.8 141.9,237.1 142.2,239.2 142.4,241.1 142.7,242.7 142.9,244.1 143.2,245.2 143.4,246.0 143.7,246.4 144.0,246.4 144.2,246.1 144.5,245.4 144.7,244.5 145.0,243.2 145.2,241.5 145.5,239.7 145.7,237.6 146.0,235.3 146.2,232.8 146.5,230.3 146.7,227.7 147.0,225.2 147.2,222.7 147.5,220.3 147.7,218.1 148.0,216.1 148.2,214.3 148.5,212.9 148.7,211.8 149.0,211.0 149.2,210.6 149.5,210.6 149.7,210.9 150.0,211.7 150.2,212.8 150.5,214.2 150.7,215.9 151.0,217.9 151.2,220.1 151.5,222.5 151.7,225.1 152.0,227.7 152.2,230.3 152.5,232.9 152.7,235.4 153.0,237.7 153.2,239.9 153.5,241.8 153.7,243.4 154.0,244.7 154.2,245.6 154.5,246.2 154.7,246.3 155.0,246.1 155.2,245.5 155.5,244.6 155.7,243.3 156.0,241.6 156.2,239.7 156.5,237.5 156.8,235.1 157.0,232.6 157.3,229.9 157.5,227.2 157.8,224.4 158.0,221.8 158.3,219.2 158.5,216.9 158.8,214.8 159.0,212.9 159.3,211.4 159.5,210.2 159.8,209.4 160.0,209.1 160.3,209.1 160.5,209.5 160.8,210.4 161.0,211.6 161.3,213.2 161.5,215.1 161.8,217.3 162.0,219.8 162.3,222.4 162.5,225.2 162.8,228.1 163.0,230.9 163.3,233.8 163.5,236.5 163.8,239.0 164.0,241.3 164.3,243.4 164.5,245.1 164.8,246.4 165.0,247.4 165.3,247.9 165.5,248.0 165.8,247.7 166.0,246.9 166.3,245.7 166.5,244.1 166.8,242.1 167.0,239.9 167.3,237.3 167.5,234.6 167.8,231.6 168.0,228.6 168.3,225.6 168.5,222.6 168.8,219.7 169.1,217.0 169.3,214.5 169.6,212.3 169.8,210.4 170.1,208.9 170.3,207.8 170.6,207.2 170.8,207.0 171.1,207.3 171.3,208.1 171.6,209.3 171.8,210.9 172.1,212.9 172.3,215.3 172.6,218.0 172.8,220.9 173.1,224.0 173.3,227.2 173.6,230.5 173.8,233.7 174.1,236.8 174.3,239.8 174.6,242.5 174.8,244.9 175.1,247.0 175.3,248.7 175.6,249.9 175.8,250.6 176.1,250.9 176.3,250.6 176.6,249.9 176.8,248.7 177.1,247.0 177.3,244.8 177.6,242.3 177.8,239.5 178.1,236.3 178.3,233.0 178.6,229.6 178.8,226.1 179.1,222.7 179.3,219.4 179.6,216.2 179.8,213.3 180.1,210.8 180.3,208.6 180.6,206.8 180.8,205.6 181.1,204.9 181.3,204.6 181.6,205.0 181.9,205.8 182.1,207.2 182.4,209.0 182.6,211.3 182.9,214.0 183.1,217.0 183.4,220.3 183.6,223.8 183.9,227.4 184.1,231.0 184.4,234.6 184.6,238.1 184.9,241.3 185.1,244.3 185.4,246.9 185.6,249.1 185.9,250.9 186.1,252.1 186.4,252.8 186.6,252.9 186.9,252.5 187.1,251.5 187.4,250.0 187.6,247.9 187.9,245.5 188.1,242.6 188.4,239.4 188.6,235.9 188.9,232.2 189.1,228.5 189.4,224.7 189.6,221.0 189.9,217.4 190.1,214.1 190.4,211.1 190.6,208.5 190.9,206.3 191.1,204.7 191.4,203.6 191.6,203.0 191.9,203.1 192.1,203.7 192.4,204.9 192.6,206.7 192.9,209.0 193.1,211.7 193.4,214.8 193.6,218.3 193.9,222.0 194.2,225.9 194.4,229.8 194.7,233.8 194.9,237.6 195.2,241.2 195.4,244.6 195.7,247.6 195.9,250.1 196.2,252.2 196.4,253.7 196.7,254.6 196.9,255.0 197.2,254.7 197.4,253.7 197.7,252.2 197.9,250.2 198.2,247.6 198.4,244.5 198.7,241.1 198.9,237.3 199.2,233.3 199.4,229.2 199.7,225.1 199.9,221.0 200.2,217.1 200.4,213.5 200.7,210.2 200.9,207.3 201.2,204.9 201.4,203.1 201.7,201.8 201.9,201.2 202.2,201.3 202.4,202.0 202.7,203.3 202.9,205.3 203.2,207.8 203.4,210.8 203.7,214.3 203.9,218.1 204.2,222.2 204.4,226.5 204.7,230.8 204.9,235.1 205.2,239.3 205.4,243.2 205.7,246.8 205.9,250.0 206.2,252.7 206.4,254.8 206.7,256.4 207.0,257.2 207.2,257.4 207.5,256.9 207.7,255.7 208.0,253.9 208.2,251.4 208.5,248.4 208.7,245.0 209.0,241.1 209.2,236.9 209.5,232.5 209.7,228.1 210.0,223.6 210.2,219.2 210.5,215.1 210.7,211.3 211.0,207.9 211.2,205.0 211.5,202.7 211.7,201.0 212.0,200.0 212.2,199.7 212.5,200.1 212.7,201.2 213.0,203.0 213.2,205.4 213.5,208.4 213.7,212.0 214.0,216.0 214.2,220.3 214.5,224.8 214.7,229.5 215.0,234.2 215.2,238.7 215.5,243.1 215.7,247.1 216.0,250.7 216.2,253.8 216.5,256.3 216.7,258.2 217.0,259.3 217.2,259.7 217.5,259.3 217.7,258.2 218.0,256.4 218.2,253.9 218.5,250.7 218.7,247.0 219.0,242.9 219.3,238.4 219.5,233.7 219.8,228.8 220.0,223.9 220.3,219.1 220.5,214.6 220.8,210.3 221.0,206.6 221.3,203.4 221.5,200.8 221.8,198.9 222.0,197.7 222.3,197.4 222.5,197.8 222.8,199.0 223.0,200.9 223.3,203.6 223.5,206.9 223.8,210.8 224.0,215.1 224.3,219.8 224.5,224.8 224.8,229.9 225.0,235.0 225.3,240.0 225.5,244.7 225.8,249.0 226.0,252.9 226.3,256.1 226.5,258.7 226.8,260.6 227.0,261.7 227.3,261.9 227.5,261.4 227.8,260.0 228.0,257.8 228.3,254.9 228.5,251.3 228.8,247.2 229.0,242.5 229.3,237.5 229.5,232.3 229.8,227.0 230.0,221.7 230.3,216.5 230.5,211.7 230.8,207.3 231.0,203.4 231.3,200.2 231.6,197.6 231.8,195.9 232.1,195.0 232.3,195.0 232.6,195.8 232.8,197.5 233.1,200.0 233.3,203.2 233.6,207.1 233.8,211.6 234.1,216.6 234.3,221.9 234.6,227.4 234.8,232.9 235.1,238.4 235.3,243.6 235.6,248.5 235.8,253.0 236.1,256.8 236.3,259.9 236.6,262.2 236.8,263.7 237.1,264.3 237.3,264.0 237.6,262.8 237.8,260.7 238.1,257.8 238.3,254.1 238.6,249.7 238.8,244.9 239.1,239.5 239.3,233.9 239.6,228.2 239.8,222.4 240.1,216.8 240.3,211.5 240.6,206.6 240.8,202.2 241.1,198.6 241.3,195.7 241.6,193.7 241.8,192.6 242.1,192.5 242.3,193.3 242.6,195.0 242.8,197.7 243.1,201.1 243.3,205.4 243.6,210.2 243.8,215.6 244.1,221.3 244.4,227.3 244.6,233.3 244.9,239.2 245.1,244.9 245.4,250.2 245.6,255.0 245.9,259.1 246.1,262.5 246.4,264.9 246.6,266.5 246.9,267.0 247.1,266.6 247.4,265.1 247.6,262.8 247.9,259.5 248.1,255.4 248.4,250.6 248.6,245.2 248.9,239.4 249.1,233.2 249.4,227.0 249.6,220.8 249.9,214.7 250.1,209.1 250.4,204.0 250.6,199.5 250.9,195.8 251.1,192.9 251.4,191.0 251.6,190.2 251.9,190.3 252.1,191.5 252.4,193.8 252.6,196.9 252.9,200.9 253.1,205.7 253.4,211.2 253.6,217.1 253.9,223.4 254.1,229.9 254.4,236.4 254.6,242.7 254.9,248.7 255.1,254.2 255.4,259.0 255.6,263.1 255.9,266.2 256.1,268.4 256.4,269.5 256.6,269.6 256.9,268.5 257.2,266.4 257.4,263.2 257.7,259.2 257.9,254.3 258.2,248.7 258.4,242.5 258.7,235.9 258.9,229.2 259.2,222.4 259.4,215.7 259.7,209.4 259.9,203.6 260.2,198.4 260.4,194.1 260.7,190.7 260.9,188.3 261.2,187.1 261.4,186.9 261.7,188.0 261.9,190.1 262.2,193.3 262.4,197.5 262.7,202.6 262.9,208.4 263.2,214.8 263.4,221.6 263.7,228.6 263.9,235.7 264.2,242.6 264.4,249.1 264.7,255.2 264.9,260.5 265.2,265.0 265.4,268.5 265.7,271.0 265.9,272.2 266.2,272.3 266.4,271.2 266.7,269.0 266.9,265.6 267.2,261.2 267.4,255.9 267.7,249.9 267.9,243.3 268.2,236.2 268.4,228.9 268.7,221.7 268.9,214.5 269.2,207.8 269.5,201.7 269.7,196.2 270.0,191.7 270.2,188.2 270.5,185.8 270.7,184.6 271.0,184.7 271.2,186.0 271.5,188.4 271.7,192.1 272.0,196.7 272.2,202.3 272.5,208.6 272.7,215.5 273.0,222.8 273.2,230.3 273.5,237.8 273.7,245.0 274.0,251.9 274.2,258.1 274.5,263.5 274.7,267.9 275.0,271.3 275.2,273.5 275.5,274.4 275.7,274.1 276.0,272.6 276.2,269.7 276.5,265.8 276.7,260.8 277.0,254.8 277.2,248.2 277.5,240.9 277.7,233.4 278.0,225.6 278.2,218.0 278.5,210.6 278.7,203.7 279.0,197.6 279.2,192.3 279.5,188.0 279.7,184.9 280.0,183.0 280.2,182.4 280.5,183.2 280.7,185.2 281.0,188.5 281.2,193.0 281.5,198.5 281.8,204.9 282.0,212.0 282.3,219.6 282.5,227.5 282.8,235.4 283.0,243.2 283.3,250.6 283.5,257.5 283.8,263.5 284.0,268.6 284.3,272.5 284.5,275.2 284.8,276.6 285.0,276.7 285.3,275.3 285.5,272.7 285.8,268.7 286.0,263.7 286.3,257.6 286.5,250.7 286.8,243.1 287.0,235.1 287.3,227.0 287.5,218.8 287.8,211.0 288.0,203.6 288.3,197.0 288.5,191.3 288.8,186.6 289.0,183.2 289.3,181.0 289.5,180.3 289.8,181.0 290.0,183.1 290.3,186.5 290.5,191.2 290.8,196.9 291.0,203.6 291.3,211.1 291.5,219.1 291.8,227.3 292.0,235.7 292.3,243.9 292.5,251.6 292.8,258.8 293.0,265.0 293.3,270.2 293.5,274.3 293.8,277.0 294.0,278.3 294.3,278.2 294.6,276.7 294.8,273.7 295.1,269.5 295.3,264.0 295.6,257.5 295.8,250.2 296.1,242.3 296.3,233.9 296.6,225.4 296.8,217.0 297.1,209.0 297.3,201.5 297.6,194.8 297.8,189.1 298.1,184.6 298.3,181.4 298.6,179.6 298.8,179.3 299.1,180.4 299.3,183.0 299.6,186.9 299.8,192.1 300.1,198.4 300.3,205.6 300.6,213.5 300.8,221.9 301.1,230.5 301.3,239.1 301.6,247.4 301.8,255.2 302.1,262.2 302.3,268.2 302.6,273.1 302.8,276.7 303.1,278.9 303.3,279.6 303.6,278.7 303.8,276.4 304.1,272.7 304.3,267.7 304.6,261.5 304.8,254.3 305.1,246.4 305.3,237.9 305.6,229.2 305.8,220.4 306.1,211.9 306.3,203.9 306.6,196.7 306.9,190.4 307.1,185.2 307.4,181.4 307.6,178.9 307.9,178.1 308.1,178.7 308.4,180.9 308.6,184.5 308.9,189.4 309.1,195.5 309.4,202.7 309.6,210.6 309.9,219.1 310.1,227.9 310.4,236.8 310.6,245.4 310.9,253.5 311.1,260.9 311.4,267.3 311.6,272.6 311.9,276.5 312.1,279.0 312.4,280.0 312.6,279.4 312.9,277.3 313.1,273.7 313.4,268.8 313.6,262.6 313.9,255.5 314.1,247.5 314.4,238.9 314.6,230.1 314.9,221.2 315.1,212.6 315.4,204.4 315.6,197.0 315.9,190.6 316.1,185.4 316.4,181.5 316.6,179.0 316.9,178.1 317.1,178.7 317.4,180.9 317.6,184.6 317.9,189.6 318.1,195.8 318.4,203.0 318.6,211.1 318.9,219.6 319.1,228.4 319.4,237.3 319.7,245.9 319.9,253.9 320.2,261.2 320.4,267.5 320.7,272.6 320.9,276.3 321.2,278.5 321.4,279.3 321.7,278.4 321.9,276.1 322.2,272.2 322.4,267.1 322.7,260.7 322.9,253.4 323.2,245.3 323.4,236.8 323.7,228.0 323.9,219.2 324.2,210.7 324.4,202.9 324.7,195.8 324.9,189.8 325.2,185.0 325.4,181.6 325.7,179.7 325.9,179.3 326.2,180.4 326.4,183.0 326.7,187.1 326.9,192.5 327.2,199.0 327.4,206.4 327.7,214.5 327.9,223.1 328.2,231.8 328.4,240.4 328.7,248.7 328.9,256.3 329.2,263.0 329.4,268.7 329.7,273.1 329.9,276.1 330.2,277.5 330.4,277.5 330.7,275.9 330.9,272.8 331.2,268.4 331.4,262.7 331.7,255.9 331.9,248.3 332.2,240.0 332.5,231.4 332.7,222.7 333.0,214.1 333.2,206.1 333.5,198.8 333.7,192.4 334.0,187.1 334.2,183.2 334.5,180.7 334.7,179.7 335.0,180.3 335.2,182.4 335.5,186.0 335.7,191.0 336.0,197.1 336.2,204.2 336.5,212.1 336.7,220.5 337.0,229.2 337.2,237.8 337.5,246.1 337.7,253.9 338.0,260.8 338.2,266.7 338.5,271.4 338.7,274.7 339.0,276.5 339.2,276.7 339.5,275.4 339.7,272.7 340.0,268.5 340.2,263.0 340.5,256.5 340.7,249.0 341.0,240.9 341.2,232.4 341.5,223.8 341.7,215.3 342.0,207.3 342.2,200.0 342.5,193.6 342.7,188.3 343.0,184.3 343.2,181.8 343.5,180.8 343.7,181.3 344.0,183.3 344.2,186.9 344.5,191.8" fill="none" stroke="#000" stroke-width="1.6" stroke-dasharray="4,0.7,1.5,0.7"/>
</g>
<clipPath id="kd"><rect x="425.5" y="176.5" width="251.0" height="105.0"/></clipPath>
<g clip-path="url(#kd)">
<polyline points="425.5,228.9 425.8,228.7 426.0,228.6 426.3,228.4 426.5,228.1 426.8,227.3 427.0,226.5 427.3,226.3 427.5,226.1 427.8,226.0 428.0,226.0 428.3,226.1 428.5,226.3 428.8,226.7 429.0,227.2 429.3,227.8 429.5,228.6 429.8,229.4 430.0,230.4 430.3,231.5 430.5,232.6 430.8,233.7 431.0,234.9 431.3,236.0 431.5,237.1 431.8,238.0 432.0,238.9 432.3,239.6 432.5,239.9 432.8,240.1 433.0,240.0 433.3,239.7 433.5,239.2 433.8,238.4 434.0,237.5 434.3,236.3 434.5,234.9 434.8,233.4 435.0,231.7 435.3,229.8 435.5,227.9 435.8,225.9 436.0,223.9 436.3,221.9 436.5,219.9 436.8,218.1 437.0,216.4 437.3,214.8 437.5,213.5 437.8,212.4 438.1,211.6 438.3,211.2 438.6,211.1 438.8,211.3 439.1,211.9 439.3,212.8 439.6,214.1 439.8,215.6 440.1,217.4 440.3,219.5 440.6,221.8 440.8,224.3 441.1,226.9 441.3,229.7 441.6,232.5 441.8,235.2 442.1,237.9 442.3,240.5 442.6,242.9 442.8,245.2 443.1,247.1 443.3,248.7 443.6,250.0 443.8,250.9 444.1,251.4 444.3,251.4 444.6,250.9 444.8,250.1 445.1,248.8 445.3,247.1 445.6,245.0 445.8,242.6 446.1,239.9 446.3,236.9 446.6,233.7 446.8,230.4 447.1,226.9 447.3,223.5 447.6,220.1 447.8,216.7 448.1,213.6 448.3,210.7 448.6,208.1 448.8,205.8 449.1,203.9 449.3,202.5 449.6,201.6 449.8,201.3 450.1,201.4 450.3,202.0 450.6,203.2 450.9,204.9 451.1,207.0 451.4,209.6 451.6,212.5 451.9,215.8 452.1,219.3 452.4,223.1 452.6,227.0 452.9,231.0 453.1,235.0 453.4,238.9 453.6,242.6 453.9,246.1 454.1,249.3 454.4,252.1 454.6,254.5 454.9,256.4 455.1,257.8 455.4,258.6 455.6,258.8 455.9,258.4 456.1,257.5 456.4,256.0 456.6,253.9 456.9,251.3 457.1,248.3 457.4,244.9 457.6,241.1 457.9,237.0 458.1,232.8 458.4,228.4 458.6,224.0 458.9,219.6 459.1,215.4 459.4,211.5 459.6,207.8 459.9,204.5 460.1,201.6 460.4,199.3 460.6,197.5 460.9,196.3 461.1,195.7 461.4,195.9 461.6,196.6 461.9,198.0 462.1,200.0 462.4,202.6 462.6,205.7 462.9,209.3 463.1,213.2 463.4,217.5 463.7,222.1 463.9,226.8 464.2,231.5 464.4,236.3 464.7,240.9 464.9,245.3 465.2,249.4 465.4,253.1 465.7,256.4 465.9,259.1 466.2,261.3 466.4,262.7 466.7,263.5 466.9,263.6 467.2,263.0 467.4,261.7 467.7,259.8 467.9,257.3 468.2,254.1 468.4,250.5 468.7,246.4 468.9,241.9 469.2,237.2 469.4,232.2 469.7,227.2 469.9,222.2 470.2,217.3 470.4,212.6 470.7,208.3 470.9,204.3 471.2,200.8 471.4,197.8 471.7,195.5 471.9,193.8 472.2,192.8 472.4,192.5 472.7,193.0 472.9,194.2 473.2,196.1 473.4,198.7 473.7,201.9 473.9,205.6 474.2,209.8 474.4,214.5 474.7,219.4 474.9,224.5 475.2,229.7 475.4,234.9 475.7,240.1 476.0,244.9 476.2,249.4 476.5,253.5 476.7,257.2 477.0,260.3 477.2,262.8 477.5,264.6 477.7,265.7 478.0,266.0 478.2,265.6 478.5,264.5 478.7,262.6 479.0,260.1 479.2,256.9 479.5,253.2 479.7,249.0 480.0,244.3 480.2,239.3 480.5,234.1 480.7,228.8 481.0,223.5 481.2,218.2 481.5,213.2 481.7,208.4 482.0,204.0 482.2,200.2 482.5,196.9 482.7,194.2 483.0,192.2 483.2,190.9 483.5,190.4 483.7,190.7 484.0,191.8 484.2,193.6 484.5,196.1 484.7,199.3 485.0,203.1 485.2,207.4 485.5,212.2 485.7,217.2 486.0,222.6 486.2,228.0 486.5,233.5 486.7,238.8 487.0,244.0 487.2,248.9 487.5,253.4 487.7,257.3 488.0,260.7 488.2,263.5 488.5,265.5 488.8,266.8 489.0,267.3 489.3,267.0 489.5,265.8 489.8,264.0 490.0,261.4 490.3,258.1 490.5,254.3 490.8,249.9 491.0,245.1 491.3,239.9 491.5,234.5 491.8,229.0 492.0,223.5 492.3,218.1 492.5,213.0 492.8,208.1 493.0,203.7 493.3,199.8 493.5,196.5 493.8,193.9 494.0,191.9 494.3,190.8 494.5,190.4 494.8,190.8 495.0,192.1 495.3,194.1 495.5,196.8 495.8,200.1 496.0,204.1 496.3,208.5 496.5,213.4 496.8,218.5 497.0,223.9 497.3,229.4 497.5,234.8 497.8,240.1 498.0,245.1 498.3,249.8 498.5,254.1 498.8,257.8 499.0,260.9 499.3,263.2 499.5,264.9 499.8,265.8 500.0,265.9 500.3,265.2 500.5,263.8 500.8,261.6 501.1,258.7 501.3,255.2 501.6,251.1 501.8,246.5 502.1,241.6 502.3,236.4 502.6,231.1 502.8,225.7 503.1,220.3 503.3,215.2 503.6,210.3 503.8,205.8 504.1,201.8 504.3,198.4 504.6,195.7 504.8,193.6 505.1,192.3 505.3,191.7 505.6,192.0 505.8,193.0 506.1,194.8 506.3,197.3 506.6,200.5 506.8,204.2 507.1,208.5 507.3,213.2 507.6,218.2 507.8,223.4 508.1,228.7 508.3,234.0 508.6,239.1 508.8,244.1 509.1,248.6 509.3,252.8 509.6,256.4 509.8,259.4 510.1,261.7 510.3,263.3 510.6,264.1 510.8,264.2 511.1,263.5 511.3,262.0 511.6,259.8 511.8,256.9 512.1,253.5 512.3,249.5 512.6,245.0 512.8,240.3 513.1,235.2 513.4,230.1 513.6,225.0 513.9,219.9 514.1,215.0 514.4,210.5 514.6,206.4 514.9,202.7 515.1,199.7 515.4,197.2 515.6,195.5 515.9,194.5 516.1,194.3 516.4,194.8 516.6,196.0 516.9,197.9 517.1,200.5 517.4,203.7 517.6,207.5 517.9,211.7 518.1,216.2 518.4,221.0 518.6,225.9 518.9,230.8 519.1,235.7 519.4,240.4 519.6,244.8 519.9,248.8 520.1,252.4 520.4,255.4 520.6,257.8 520.9,259.6 521.1,260.6 521.4,260.9 521.6,260.6 521.9,259.4 522.1,257.7 522.4,255.2 522.6,252.2 522.9,248.7 523.1,244.7 523.4,240.4 523.6,235.8 523.9,231.1 524.1,226.4 524.4,221.7 524.6,217.2 524.9,213.0 525.1,209.1 525.4,205.7 525.6,202.8 525.9,200.5 526.2,198.8 526.4,197.8 526.7,197.5 526.9,197.9 527.2,199.0 527.4,200.7 527.7,203.1 527.9,206.0 528.2,209.4 528.4,213.2 528.7,217.4 528.9,221.8 529.2,226.3 529.4,230.8 529.7,235.2 529.9,239.5 530.2,243.5 530.4,247.1 530.7,250.3 530.9,253.0 531.2,255.2 531.4,256.7 531.7,257.5 531.9,257.7 532.2,257.2 532.4,256.1 532.7,254.3 532.9,252.0 533.2,249.1 533.4,245.9 533.7,242.2 533.9,238.2 534.2,234.1 534.4,229.9 534.7,225.6 534.9,221.5 535.2,217.5 535.4,213.8 535.7,210.5 535.9,207.7 536.2,205.3 536.4,203.5 536.7,202.2 536.9,201.6 537.2,201.6 537.4,202.3 537.7,203.5 537.9,205.3 538.2,207.6 538.5,210.4 538.7,213.6 539.0,217.1 539.2,220.9 539.5,224.8 539.7,228.7 540.0,232.6 540.2,236.4 540.5,240.0 540.7,243.3 541.0,246.3 541.2,248.8 541.5,250.8 541.7,252.2 542.0,253.1 542.2,253.5 542.5,253.3 542.7,252.5 543.0,251.1 543.2,249.2 543.5,246.9 543.7,244.1 544.0,241.0 544.2,237.7 544.5,234.1 544.7,230.5 545.0,226.8 545.2,223.2 545.5,219.7 545.7,216.5 546.0,213.6 546.2,211.0 546.5,208.9 546.7,207.3 547.0,206.2 547.2,205.6 547.5,205.6 547.7,206.1 548.0,207.1 548.2,208.7 548.5,210.7 548.7,213.1 549.0,215.8 549.2,218.9 549.5,222.1 549.7,225.5 550.0,229.0 550.2,232.4 550.5,235.7 550.7,238.9 551.0,241.7 551.3,244.3 551.5,246.5 551.8,248.2 552.0,249.4 552.3,250.1 552.5,250.3 552.8,250.0 553.0,249.1 553.3,247.7 553.5,245.8 553.8,243.6 554.0,241.0 554.3,238.0 554.5,234.9 554.8,231.6 555.0,228.3 555.3,225.0 555.5,221.8 555.8,218.8 556.0,216.1 556.3,213.6 556.5,211.6 556.8,210.0 557.0,208.9 557.3,208.2 557.5,208.1 557.8,208.5 558.0,209.4 558.3,210.7 558.5,212.5 558.8,214.7 559.0,217.2 559.3,219.9 559.5,222.9 559.8,226.0 560.0,229.1 560.3,232.2 560.5,235.2 560.8,238.0 561.0,240.5 561.3,242.7 561.5,244.5 561.8,245.9 562.0,246.9 562.3,247.4 562.5,247.4 562.8,247.0 563.0,246.1 563.3,244.7 563.5,242.9 563.8,240.8 564.1,238.4 564.3,235.7 564.6,232.9 564.8,229.9 565.1,226.9 565.3,224.0 565.6,221.2 565.8,218.7 566.1,216.3 566.3,214.3 566.6,212.7 566.8,211.5 567.1,210.7 567.3,210.3 567.6,210.5 567.8,211.1 568.1,212.1 568.3,213.5 568.6,215.4 568.8,217.5 569.1,219.9 569.3,222.5 569.6,225.3 569.8,228.1 570.1,230.9 570.3,233.7 570.6,236.3 570.8,238.6 571.1,240.8 571.3,242.5 571.6,244.0 571.8,245.0 572.1,245.5 572.3,245.7 572.6,245.4 572.8,244.6 573.1,243.5 573.3,241.9 573.6,240.0 573.8,237.8 574.1,235.4 574.3,232.8 574.6,230.2 574.8,227.4 575.1,224.8 575.3,222.2 575.6,219.8 575.8,217.6 576.1,215.8 576.4,214.2 576.6,213.1 576.9,212.3 577.1,212.0 577.4,212.1 577.6,212.6 577.9,213.6 578.1,214.9 578.4,216.6 578.6,218.5 578.9,220.8 579.1,223.2 579.4,225.8 579.6,228.4 579.9,231.0 580.1,233.6 580.4,235.9 580.6,238.1 580.9,240.1 581.1,241.7 581.4,243.0 581.6,243.8 581.9,244.3 582.1,244.4 582.4,244.0 582.6,243.3 582.9,242.1 583.1,240.6 583.4,238.8 583.6,236.7 583.9,234.5 584.1,232.0 584.4,229.5 584.6,227.0 584.9,224.6 585.1,222.2 585.4,220.1 585.6,218.1 585.9,216.5 586.1,215.2 586.4,214.3 586.6,213.7 586.9,213.6 587.1,213.9 587.4,214.5 587.6,215.6 587.9,217.0 588.1,218.7 588.4,220.6 588.6,222.8 588.9,225.1 589.2,227.5 589.4,229.9 589.7,232.3 589.9,234.6 590.2,236.8 590.4,238.7 590.7,240.3 590.9,241.7 591.2,242.6 591.4,243.2 591.7,243.4 591.9,243.3 592.2,242.7 592.4,241.7 592.7,240.4 592.9,238.8 593.2,236.9 593.4,234.8 593.7,232.5 593.9,230.2 594.2,227.8 594.4,225.4 594.7,223.1 594.9,221.0 595.2,219.1 595.4,217.4 595.7,216.1 595.9,215.1 596.2,214.5 596.4,214.2 596.7,214.4 596.9,214.9 597.2,215.9 597.4,217.1 597.7,218.7 597.9,220.5 598.2,222.6 598.4,224.8 598.7,227.1 598.9,229.5 599.2,231.8 599.4,234.0 599.7,236.1 599.9,237.9 600.2,239.5 600.4,240.8 600.7,241.7 600.9,242.3 601.2,242.5 601.5,242.3 601.7,241.8 602.0,240.9 602.2,239.6 602.5,238.0 602.7,236.2 603.0,234.1 603.2,231.9 603.5,229.7 603.7,227.3 604.0,225.0 604.2,222.9 604.5,220.8 604.7,219.0 605.0,217.5 605.2,216.2 605.5,215.3 605.7,214.8 606.0,214.6 606.2,214.9 606.5,215.5 606.7,216.5 607.0,217.8 607.2,219.4 607.5,221.3 607.7,223.4 608.0,225.6 608.2,227.9 608.5,230.2 608.7,232.5 609.0,234.7 609.2,236.6 609.5,238.4 609.7,239.9 610.0,241.0 610.2,241.9 610.5,242.3 610.7,242.3 611.0,242.0 611.2,241.3 611.5,240.2 611.7,238.8 612.0,237.2 612.2,235.2 612.5,233.1 612.7,230.9 613.0,228.6 613.2,226.3 613.5,224.1 613.8,222.0 614.0,220.1 614.3,218.4 614.5,217.1 614.8,216.0 615.0,215.3 615.3,215.0 615.5,215.1 615.8,215.6 616.0,216.5 616.3,217.7 616.5,219.2 616.8,221.0 617.0,223.0 617.3,225.1 617.5,227.4 617.8,229.7 618.0,232.0 618.3,234.1 618.5,236.1 618.8,238.0 619.0,239.5 619.3,240.7 619.5,241.6 619.8,242.1 620.0,242.2 620.3,242.0 620.5,241.3 620.8,240.3 621.0,239.0 621.3,237.4 621.5,235.5 621.8,233.4 622.0,231.2 622.3,229.0 622.5,226.7 622.8,224.5 623.0,222.4 623.3,220.5 623.5,218.8 623.8,217.5 624.0,216.4 624.3,215.7 624.5,215.4 624.8,215.5 625.0,216.0 625.3,216.9 625.5,218.0 625.8,219.6 626.0,221.3 626.3,223.3 626.6,225.5 626.8,227.7 627.1,230.0 627.3,232.2 627.6,234.4 627.8,236.4 628.1,238.1 628.3,239.6 628.6,240.8 628.8,241.6 629.1,242.0 629.3,242.1 629.6,241.8 629.8,241.1 630.1,240.0 630.3,238.6 630.6,236.9 630.8,235.0 631.1,232.9 631.3,230.7 631.6,228.4 631.8,226.2 632.1,224.0 632.3,222.0 632.6,220.1 632.8,218.6 633.1,217.3 633.3,216.4 633.6,215.8 633.8,215.7 634.1,215.9 634.3,216.5 634.6,217.5 634.8,218.8 635.1,220.4 635.3,222.2 635.6,224.3 635.8,226.5 636.1,228.8 636.3,231.0 636.6,233.2 636.8,235.3 637.1,237.2 637.3,238.8 637.6,240.1 637.8,241.1 638.1,241.8 638.3,242.0 638.6,241.9 638.9,241.3 639.1,240.4 639.4,239.2 639.6,237.6 639.9,235.8 640.1,233.7 640.4,231.6 640.6,229.3 640.9,227.0 641.1,224.8 641.4,222.7 641.6,220.8 641.9,219.2 642.1,217.8 642.4,216.8 642.6,216.1 642.9,215.8 643.1,216.0 643.4,216.5 643.6,217.3 643.9,218.6 644.1,220.1 644.4,221.9 644.6,223.9 644.9,226.1 645.1,228.3 645.4,230.6 645.6,232.8 645.9,234.9 646.1,236.8 646.4,238.5 646.6,239.9 646.9,240.9 647.1,241.6 647.4,241.9 647.6,241.8 647.9,241.3 648.1,240.4 648.4,239.2 648.6,237.6 648.9,235.8 649.1,233.8 649.4,231.6 649.6,229.4 649.9,227.1 650.1,224.9 650.4,222.8 650.6,221.0 650.9,219.3 651.1,217.9 651.4,216.9 651.7,216.3 651.9,216.0 652.2,216.2 652.4,216.7 652.7,217.6 652.9,218.8 653.2,220.4 653.4,222.2 653.7,224.3 653.9,226.4 654.2,228.7 654.4,231.0 654.7,233.1 654.9,235.2 655.2,237.1 655.4,238.7 655.7,240.0 655.9,241.0 656.2,241.6 656.4,241.8 656.7,241.6 656.9,241.0 657.2,240.0 657.4,238.7 657.7,237.1 657.9,235.2 658.2,233.2 658.4,231.0 658.7,228.7 658.9,226.5 659.2,224.3 659.4,222.3 659.7,220.5 659.9,218.9 660.2,217.7 660.4,216.8 660.7,216.3 660.9,216.2 661.2,216.5 661.4,217.2 661.7,218.2 661.9,219.6 662.2,221.3 662.4,223.2 662.7,225.3 662.9,227.5 663.2,229.8 663.4,232.0 663.7,234.2 664.0,236.1 664.2,237.9 664.5,239.3 664.7,240.5 665.0,241.2 665.2,241.6 665.5,241.6 665.7,241.2 666.0,240.4 666.2,239.2 666.5,237.7 666.7,235.9 667.0,233.9 667.2,231.8 667.5,229.6 667.7,227.3 668.0,225.1 668.2,223.0 668.5,221.2 668.7,219.5 669.0,218.2 669.2,217.2 669.5,216.6 669.7,216.4 670.0,216.6 670.2,217.1 670.5,218.1 670.7,219.4 671.0,221.0 671.2,222.9 671.5,224.9 671.7,227.1 672.0,229.4 672.2,231.6 672.5,233.8 672.7,235.8 673.0,237.5 673.2,239.0 673.5,240.2 673.7,241.0 674.0,241.5 674.2,241.5 674.5,241.1 674.7,240.3 675.0,239.2 675.2,237.8 675.5,236.0 675.7,234.0 676.0,231.9 676.2,229.7 676.5,227.4" fill="none" stroke="#0000ff" stroke-width="1"/>
<polyline points="425.5,228.9 426.0,228.6 426.5,228.1 427.0,226.5 427.5,226.1 428.0,226.0 428.5,226.3 429.0,227.2 429.5,228.6 430.0,230.4 430.5,232.6 431.0,234.9 431.5,237.1 432.0,238.9 432.5,239.9 433.0,240.0 433.5,239.2 434.0,237.5 434.5,234.9 435.0,231.7 435.5,227.9 436.0,223.9 436.5,219.9 437.0,216.4 437.5,213.5 438.1,211.6 438.6,211.1 439.1,211.9 439.6,214.1 440.1,217.4 440.6,221.8 441.1,226.9 441.6,232.5 442.1,237.9 442.6,242.9 443.1,247.1 443.6,250.0 444.1,251.4 444.6,250.9 445.1,248.8 445.6,245.0 446.1,239.9 446.6,233.7 447.1,226.9 447.6,220.1 448.1,213.6 448.6,208.1 449.1,203.9 449.6,201.6 450.1,201.4 450.6,203.2 451.1,207.0 451.6,212.5 452.1,219.3 452.6,227.0 453.1,235.0 453.6,242.6 454.1,249.3 454.6,254.5 455.1,257.8 455.6,258.8 456.1,257.5 456.6,253.9 457.1,248.3 457.6,241.1 458.1,232.8 458.6,224.0 459.1,215.4 459.6,207.8 460.1,201.6 460.6,197.5 461.1,195.7 461.6,196.6 462.1,200.0 462.6,205.7 463.1,213.2 463.7,222.1 464.2,231.5 464.7,240.9 465.2,249.4 465.7,256.4 466.2,261.3 466.7,263.5 467.2,263.0 467.7,259.8 468.2,254.1 468.7,246.4 469.2,237.2 469.7,227.2 470.2,217.3 470.7,208.3 471.2,200.8 471.7,195.5 472.2,192.8 472.7,193.0 473.2,196.1 473.7,201.9 474.2,209.8 474.7,219.4 475.2,229.7 475.7,240.1 476.2,249.4 476.7,257.2 477.2,262.8 477.7,265.7 478.2,265.6 478.7,262.6 479.2,256.9 479.7,249.0 480.2,239.3 480.7,228.8 481.2,218.2 481.7,208.4 482.2,200.2 482.7,194.2 483.2,190.9 483.7,190.7 484.2,193.6 484.7,199.3 485.2,207.4 485.7,217.2 486.2,228.0 486.7,238.8 487.2,248.9 487.7,257.3 488.2,263.5 488.8,266.8 489.3,267.0 489.8,264.0 490.3,258.1 490.8,249.9 491.3,239.9 491.8,229.0 492.3,218.1 492.8,208.1 493.3,199.8 493.8,193.9 494.3,190.8 494.8,190.8 495.3,194.1 495.8,200.1 496.3,208.5 496.8,218.5 497.3,229.4 497.8,240.1 498.3,249.8 498.8,257.8 499.3,263.2 499.8,265.8 500.3,265.2 500.8,261.6 501.3,255.2 501.8,246.5 502.3,236.4 502.8,225.7 503.3,215.2 503.8,205.8 504.3,198.4 504.8,193.6 505.3,191.7 505.8,193.0 506.3,197.3 506.8,204.2 507.3,213.2 507.8,223.4 508.3,234.0 508.8,244.1 509.3,252.8 509.8,259.4 510.3,263.3 510.8,264.2 511.3,262.0 511.8,256.9 512.3,249.5 512.8,240.3 513.4,230.1 513.9,219.9 514.4,210.5 514.9,202.7 515.4,197.2 515.9,194.5 516.4,194.8 516.9,197.9 517.4,203.7 517.9,211.7 518.4,221.0 518.9,230.8 519.4,240.4 519.9,248.8 520.4,255.4 520.9,259.6 521.4,260.9 521.9,259.4 522.4,255.2 522.9,248.7 523.4,240.4 523.9,231.1 524.4,221.7 524.9,213.0 525.4,205.7 525.9,200.5 526.4,197.8 526.9,197.9 527.4,200.7 527.9,206.0 528.4,213.2 528.9,221.8 529.4,230.8 529.9,239.5 530.4,247.1 530.9,253.0 531.4,256.7 531.9,257.7 532.4,256.1 532.9,252.0 533.4,245.9 533.9,238.2 534.4,229.9 534.9,221.5 535.4,213.8 535.9,207.7 536.4,203.5 536.9,201.6 537.4,202.3 537.9,205.3 538.5,210.4 539.0,217.1 539.5,224.8 540.0,232.6 540.5,240.0 541.0,246.3 541.5,250.8 542.0,253.1 542.5,253.3 543.0,251.1 543.5,246.9 544.0,241.0 544.5,234.1 545.0,226.8 545.5,219.7 546.0,213.6 546.5,208.9 547.0,206.2 547.5,205.6 548.0,207.1 548.5,210.7 549.0,215.8 549.5,222.1 550.0,229.0 550.5,235.7 551.0,241.7 551.5,246.5 552.0,249.4 552.5,250.3 553.0,249.1 553.5,245.8 554.0,241.0 554.5,234.9 555.0,228.3 555.5,221.8 556.0,216.1 556.5,211.6 557.0,208.9 557.5,208.1 558.0,209.4 558.5,212.5 559.0,217.2 559.5,222.9 560.0,229.1 560.5,235.2 561.0,240.5 561.5,244.5 562.0,246.9 562.5,247.4 563.0,246.1 563.5,242.9 564.1,238.4 564.6,232.9 565.1,226.9 565.6,221.2 566.1,216.3 566.6,212.7 567.1,210.7 567.6,210.5 568.1,212.1 568.6,215.4 569.1,219.9 569.6,225.3 570.1,230.9 570.6,236.3 571.1,240.8 571.6,244.0 572.1,245.5 572.6,245.4 573.1,243.5 573.6,240.0 574.1,235.4 574.6,230.2 575.1,224.8 575.6,219.8 576.1,215.8 576.6,213.1 577.1,212.0 577.6,212.6 578.1,214.9 578.6,218.5 579.1,223.2 579.6,228.4 580.1,233.6 580.6,238.1 581.1,241.7 581.6,243.8 582.1,244.4 582.6,243.3 583.1,240.6 583.6,236.7 584.1,232.0 584.6,227.0 585.1,222.2 585.6,218.1 586.1,215.2 586.6,213.7 587.1,213.9 587.6,215.6 588.1,218.7 588.6,222.8 589.2,227.5 589.7,232.3 590.2,236.8 590.7,240.3 591.2,242.6 591.7,243.4 592.2,242.7 592.7,240.4 593.2,236.9 593.7,232.5 594.2,227.8 594.7,223.1 595.2,219.1 595.7,216.1 596.2,214.5 596.7,214.4 597.2,215.9 597.7,218.7 598.2,222.6 598.7,227.1 599.2,231.8 599.7,236.1 600.2,239.5 600.7,241.7 601.2,242.5 601.7,241.8 602.2,239.6 602.7,236.2 603.2,231.9 603.7,227.3 604.2,222.9 604.7,219.0 605.2,216.2 605.7,214.8 606.2,214.9 606.7,216.5 607.2,219.4 607.7,223.4 608.2,227.9 608.7,232.5 609.2,236.6 609.7,239.9 610.2,241.9 610.7,242.3 611.2,241.3 611.7,238.8 612.2,235.2 612.7,230.9 613.2,226.3 613.8,222.0 614.3,218.4 614.8,216.0 615.3,215.0 615.8,215.6 616.3,217.7 616.8,221.0 617.3,225.1 617.8,229.7 618.3,234.1 618.8,238.0 619.3,240.7 619.8,242.1 620.3,242.0 620.8,240.3 621.3,237.4 621.8,233.4 622.3,229.0 622.8,224.5 623.3,220.5 623.8,217.5 624.3,215.7 624.8,215.5 625.3,216.9 625.8,219.6 626.3,223.3 626.8,227.7 627.3,232.2 627.8,236.4 628.3,239.6 628.8,241.6 629.3,242.1 629.8,241.1 630.3,238.6 630.8,235.0 631.3,230.7 631.8,226.2 632.3,222.0 632.8,218.6 633.3,216.4 633.8,215.7 634.3,216.5 634.8,218.8 635.3,222.2 635.8,226.5 636.3,231.0 636.8,235.3 637.3,238.8 637.8,241.1 638.3,242.0 638.9,241.3 639.4,239.2 639.9,235.8 640.4,231.6 640.9,227.0 641.4,222.7 641.9,219.2 642.4,216.8 642.9,215.8 643.4,216.5 643.9,218.6 644.4,221.9 644.9,226.1 645.4,230.6 645.9,234.9 646.4,238.5 646.9,240.9 647.4,241.9 647.9,241.3 648.4,239.2 648.9,235.8 649.4,231.6 649.9,227.1 650.4,222.8 650.9,219.3 651.4,216.9 651.9,216.0 652.4,216.7 652.9,218.8 653.4,222.2 653.9,226.4 654.4,231.0 654.9,235.2 655.4,238.7 655.9,241.0 656.4,241.8 656.9,241.0 657.4,238.7 657.9,235.2 658.4,231.0 658.9,226.5 659.4,222.3 659.9,218.9 660.4,216.8 660.9,216.2 661.4,217.2 661.9,219.6 662.4,223.2 662.9,227.5 663.4,232.0 664.0,236.1 664.5,239.3 665.0,241.2 665.5,241.6 666.0,240.4 666.5,237.7 667.0,233.9 667.5,229.6 668.0,225.1 668.5,221.2 669.0,218.2 669.5,216.6 670.0,216.6 670.5,218.1 671.0,221.0 671.5,224.9 672.0,229.4 672.5,233.8 673.0,237.5 673.5,240.2 674.0,241.5 674.5,241.1 675.0,239.2 675.5,236.0 676.0,231.9 676.5,227.4" fill="none" stroke="none" marker-start="url(#diaf)" marker-mid="url(#diaf)" marker-end="url(#diaf)"/>
<polyline points="425.5,228.9 425.8,228.5 426.0,228.2 426.3,228.2 426.5,228.6 426.8,229.0 427.0,229.5 427.3,229.9 427.5,230.3 427.8,230.8 428.0,231.2 428.3,231.6 428.5,232.1 428.8,232.5 429.0,232.9 429.3,232.5 429.5,231.3 429.8,229.8 430.0,228.1 430.3,226.2 430.5,224.2 430.8,222.1 431.0,221.0 431.3,220.8 431.5,220.6 431.8,220.4 432.0,220.2 432.3,220.1 432.5,219.9 432.8,219.7 433.0,219.5 433.3,219.5 433.5,219.5 433.8,219.5 434.0,219.5 434.3,219.5 434.5,219.5 434.8,219.4 435.0,220.3 435.3,222.9 435.5,225.7 435.8,228.6 436.0,231.4 436.3,234.2 436.5,236.9 436.8,238.5 437.0,238.5 437.3,238.5 437.5,238.5 437.8,238.5 438.1,238.5 438.3,238.5 438.6,238.5 438.8,238.5 439.1,238.5 439.3,238.5 439.6,238.5 439.8,238.5 440.1,238.5 440.3,238.5 440.6,238.5 440.8,237.8 441.1,235.1 441.3,232.2 441.6,229.3 441.8,226.4 442.1,223.6 442.3,220.8 442.6,219.2 442.8,219.2 443.1,219.2 443.3,219.2 443.6,219.2 443.8,219.2 444.1,219.2 444.3,219.2 444.6,219.2 444.8,219.2 445.1,219.2 445.3,219.1 445.6,219.1 445.8,219.1 446.1,219.1 446.3,219.1 446.6,220.2 446.8,223.0 447.1,225.9 447.3,228.8 447.6,231.7 447.8,234.6 448.1,237.4 448.3,238.5 448.6,238.5 448.8,238.5 449.1,238.5 449.3,238.5 449.6,238.5 449.8,238.5 450.1,238.5 450.3,238.5 450.6,238.5 450.9,238.5 451.1,238.5 451.4,238.5 451.6,238.5 451.9,238.5 452.1,238.5 452.4,236.5 452.6,233.7 452.9,230.8 453.1,227.8 453.4,224.8 453.6,221.9 453.9,219.2 454.1,219.0 454.4,219.0 454.6,219.0 454.9,219.0 455.1,219.0 455.4,219.0 455.6,219.0 455.9,219.0 456.1,219.0 456.4,219.0 456.6,219.0 456.9,219.0 457.1,219.0 457.4,219.0 457.6,219.0 457.9,219.5 458.1,222.3 458.4,225.2 458.6,228.2 458.9,231.2 459.1,234.2 459.4,237.1 459.6,238.5 459.9,238.5 460.1,238.5 460.4,238.5 460.6,238.5 460.9,238.5 461.1,238.5 461.4,238.5 461.6,238.5 461.9,238.5 462.1,238.5 462.4,238.5 462.6,238.5 462.9,238.5 463.1,238.5 463.4,238.5 463.7,236.2 463.9,233.3 464.2,230.3 464.4,227.3 464.7,224.3 464.9,221.4 465.2,219.0 465.4,219.0 465.7,219.0 465.9,219.0 466.2,219.0 466.4,219.0 466.7,219.0 466.9,219.0 467.2,219.0 467.4,219.0 467.7,219.0 467.9,219.0 468.2,219.0 468.4,219.0 468.7,219.0 468.9,219.0 469.2,220.8 469.4,223.7 469.7,226.7 469.9,229.7 470.2,232.8 470.4,235.7 470.7,238.5 470.9,238.5 471.2,238.5 471.4,238.5 471.7,238.5 471.9,238.5 472.2,238.5 472.4,238.5 472.7,238.5 472.9,238.5 473.2,238.6 473.4,238.6 473.7,238.6 473.9,238.6 474.2,238.6 474.4,238.6 474.7,236.9 474.9,233.9 475.2,230.9 475.4,227.8 475.7,224.8 476.0,221.8 476.2,219.0 476.5,219.0 476.7,219.0 477.0,219.0 477.2,219.0 477.5,219.0 477.7,219.0 478.0,219.0 478.2,219.0 478.5,219.0 478.7,219.0 479.0,219.0 479.2,219.0 479.5,219.0 479.7,219.0 480.0,219.0 480.2,221.0 480.5,224.0 480.7,227.1 481.0,230.2 481.2,233.2 481.5,236.2 481.7,238.6 482.0,238.6 482.2,238.6 482.5,238.6 482.7,238.6 483.0,238.6 483.2,238.6 483.5,238.6 483.7,238.6 484.0,238.6 484.2,238.6 484.5,238.6 484.7,238.6 485.0,238.6 485.2,238.6 485.5,238.6 485.7,235.7 486.0,232.7 486.2,229.6 486.5,226.5 486.7,223.4 487.0,220.4 487.2,219.0 487.5,219.0 487.7,219.0 488.0,219.0 488.2,219.0 488.5,219.0 488.8,219.0 489.0,219.0 489.3,219.0 489.5,219.0 489.8,219.0 490.0,219.0 490.3,219.0 490.5,219.0 490.8,219.0 491.0,220.2 491.3,223.1 491.5,226.2 491.8,229.4 492.0,232.5 492.3,235.5 492.5,238.5 492.8,238.6 493.0,238.6 493.3,238.6 493.5,238.6 493.8,238.6 494.0,238.6 494.3,238.6 494.5,238.6 494.8,238.6 495.0,238.6 495.3,238.6 495.5,238.6 495.8,238.6 496.0,238.6 496.3,238.6 496.5,235.8 496.8,232.7 497.0,229.5 497.3,226.4 497.5,223.3 497.8,220.3 498.0,219.0 498.3,219.0 498.5,219.0 498.8,219.0 499.0,219.0 499.3,219.0 499.5,219.0 499.8,219.0 500.0,219.0 500.3,219.0 500.5,219.0 500.8,219.0 501.1,219.0 501.3,219.0 501.6,219.0 501.8,221.0 502.1,224.0 502.3,227.2 502.6,230.4 502.8,233.5 503.1,236.6 503.3,238.6 503.6,238.6 503.8,238.6 504.1,238.6 504.3,238.6 504.6,238.6 504.8,238.6 505.1,238.6 505.3,238.6 505.6,238.6 505.8,238.6 506.1,238.6 506.3,238.6 506.6,238.6 506.8,238.6 507.1,237.1 507.3,234.0 507.6,230.9 507.8,227.6 508.1,224.4 508.3,221.3 508.6,219.0 508.8,219.0 509.1,219.0 509.3,219.0 509.6,219.0 509.8,219.0 510.1,219.0 510.3,219.0 510.6,219.0 510.8,219.0 511.1,219.0 511.3,219.0 511.6,219.0 511.8,219.0 512.1,219.0 512.3,220.5 512.6,223.6 512.8,226.8 513.1,230.0 513.4,233.2 513.6,236.3 513.9,238.6 514.1,238.6 514.4,238.6 514.6,238.6 514.9,238.6 515.1,238.6 515.4,238.6 515.6,238.6 515.9,238.6 516.1,238.6 516.4,238.6 516.6,238.6 516.9,238.6 517.1,238.6 517.4,238.6 517.6,236.8 517.9,233.6 518.1,230.4 518.4,227.1 518.6,223.9 518.9,220.8 519.1,218.9 519.4,218.9 519.6,218.9 519.9,218.9 520.1,218.9 520.4,218.9 520.6,218.9 520.9,218.9 521.1,218.9 521.4,218.9 521.6,218.9 521.9,218.9 522.1,218.9 522.4,218.9 522.6,218.9 522.9,221.6 523.1,224.8 523.4,228.1 523.6,231.4 523.9,234.6 524.1,237.7 524.4,238.7 524.6,238.7 524.9,238.7 525.1,238.7 525.4,238.7 525.6,238.7 525.9,238.7 526.2,238.7 526.4,238.7 526.7,238.7 526.9,238.7 527.2,238.7 527.4,238.7 527.7,238.7 527.9,237.9 528.2,234.8 528.4,231.5 528.7,228.2 528.9,224.9 529.2,221.7 529.4,218.9 529.7,218.9 529.9,218.9 530.2,218.9 530.4,218.9 530.7,218.9 530.9,218.9 531.2,218.9 531.4,218.9 531.7,218.9 531.9,218.9 532.2,218.9 532.4,218.9 532.7,218.9 532.9,218.9 533.2,221.3 533.4,224.5 533.7,227.8 533.9,231.2 534.2,234.5 534.4,237.6 534.7,238.7 534.9,238.7 535.2,238.7 535.4,238.7 535.7,238.7 535.9,238.7 536.2,238.7 536.4,238.7 536.7,238.7 536.9,238.7 537.2,238.7 537.4,238.7 537.7,238.7 537.9,238.7 538.2,237.4 538.5,234.2 538.7,230.9 539.0,227.6 539.2,224.2 539.5,221.0 539.7,218.9 540.0,218.9 540.2,218.9 540.5,218.9 540.7,218.9 541.0,218.9 541.2,218.9 541.5,218.9 541.7,218.9 542.0,218.9 542.2,218.9 542.5,218.9 542.7,218.9 543.0,218.9 543.2,219.4 543.5,222.6 543.7,225.9 544.0,229.3 544.2,232.7 544.5,235.9 544.7,238.7 545.0,238.7 545.2,238.7 545.5,238.7 545.7,238.7 546.0,238.7 546.2,238.7 546.5,238.7 546.7,238.7 547.0,238.7 547.2,238.7 547.5,238.7 547.7,238.7 548.0,238.7 548.2,238.6 548.5,235.4 548.7,232.1 549.0,228.7 549.2,225.3 549.5,221.9 549.7,218.9 550.0,218.9 550.2,218.9 550.5,218.9 550.7,218.9 551.0,218.9 551.3,218.9 551.5,218.9 551.8,218.9 552.0,218.9 552.3,218.9 552.5,218.9 552.8,218.9 553.0,218.9 553.3,219.0 553.5,222.2 553.8,225.5 554.0,229.0 554.3,232.4 554.5,235.7 554.8,238.7 555.0,238.7 555.3,238.7 555.5,238.7 555.8,238.7 556.0,238.7 556.3,238.7 556.5,238.7 556.8,238.7 557.0,238.7 557.3,238.7 557.5,238.7 557.8,238.7 558.0,238.7 558.3,238.2 558.5,235.0 558.8,231.6 559.0,228.1 559.3,224.7 559.5,221.4 559.8,218.8 560.0,218.8 560.3,218.8 560.5,218.8 560.8,218.8 561.0,218.8 561.3,218.8 561.5,218.8 561.8,218.8 562.0,218.8 562.3,218.8 562.5,218.8 562.8,218.8 563.0,218.8 563.3,220.0 563.5,223.4 563.8,226.8 564.1,230.3 564.3,233.7 564.6,237.1 564.8,238.8 565.1,238.8 565.3,238.8 565.6,238.8 565.8,238.8 566.1,238.8 566.3,238.8 566.6,238.8 566.8,238.8 567.1,238.8 567.3,238.8 567.6,238.8 567.8,238.8 568.1,238.8 568.3,236.4 568.6,233.0 568.8,229.5 569.1,226.0 569.3,222.6 569.6,219.3 569.8,218.8 570.1,218.8 570.3,218.8 570.6,218.8 570.8,218.8 571.1,218.8 571.3,218.8 571.6,218.8 571.8,218.8 572.1,218.8 572.3,218.8 572.6,218.8 572.8,218.8 573.1,219.4 573.3,222.7 573.6,226.1 573.8,229.7 574.1,233.2 574.3,236.6 574.6,238.8 574.8,238.8 575.1,238.8 575.3,238.8 575.6,238.8 575.8,238.8 576.1,238.8 576.4,238.8 576.6,238.8 576.9,238.8 577.1,238.8 577.4,238.8 577.6,238.8 577.9,238.8 578.1,236.4 578.4,232.9 578.6,229.4 578.9,225.8 579.1,222.3 579.4,219.0 579.6,218.8 579.9,218.8 580.1,218.8 580.4,218.8 580.6,218.8 580.9,218.8 581.1,218.8 581.4,218.8 581.6,218.8 581.9,218.8 582.1,218.8 582.4,218.8 582.6,218.8 582.9,220.1 583.1,223.5 583.4,227.0 583.6,230.6 583.9,234.2 584.1,237.6 584.4,238.8 584.6,238.8 584.9,238.8 585.1,238.8 585.4,238.8 585.6,238.8 585.9,238.8 586.1,238.8 586.4,238.8 586.6,238.8 586.9,238.8 587.1,238.8 587.4,238.8 587.6,238.2 587.9,234.8 588.1,231.3 588.4,227.7 588.6,224.1 588.9,220.7 589.2,218.7 589.4,218.7 589.7,218.7 589.9,218.7 590.2,218.7 590.4,218.7 590.7,218.7 590.9,218.7 591.2,218.7 591.4,218.7 591.7,218.7 591.9,218.7 592.2,218.7 592.4,218.9 592.7,222.3 592.9,225.8 593.2,229.5 593.4,233.1 593.7,236.6 593.9,238.8 594.2,238.8 594.4,238.8 594.7,238.8 594.9,238.8 595.2,238.8 595.4,238.8 595.7,238.8 595.9,238.8 596.2,238.8 596.4,238.8 596.7,238.8 596.9,238.8 597.2,238.7 597.4,235.3 597.7,231.8 597.9,228.1 598.2,224.5 598.4,220.9 598.7,218.7 598.9,218.7 599.2,218.7 599.4,218.7 599.7,218.7 599.9,218.7 600.2,218.7 600.4,218.7 600.7,218.7 600.9,218.7 601.2,218.7 601.5,218.7 601.7,218.7 602.0,219.1 602.2,222.5 602.5,226.1 602.7,229.8 603.0,233.4 603.2,237.0 603.5,238.8 603.7,238.8 604.0,238.8 604.2,238.8 604.5,238.8 604.7,238.8 605.0,238.8 605.2,238.8 605.5,238.8 605.7,238.8 606.0,238.8 606.2,238.8 606.5,238.8 606.7,237.9 607.0,234.4 607.2,230.8 607.5,227.0 607.7,223.4 608.0,219.9 608.2,218.7 608.5,218.7 608.7,218.7 609.0,218.7 609.2,218.7 609.5,218.7 609.7,218.7 610.0,218.7 610.2,218.7 610.5,218.7 610.7,218.7 611.0,218.7 611.2,218.7 611.5,220.6 611.7,224.1 612.0,227.8 612.2,231.6 612.5,235.2 612.7,238.7 613.0,238.9 613.2,238.9 613.5,238.9 613.8,238.9 614.0,238.9 614.3,238.9 614.5,238.9 614.8,238.9 615.0,238.9 615.3,238.9 615.5,238.9 615.8,238.9 616.0,238.9 616.3,235.7 616.5,232.0 616.8,228.3 617.0,224.5 617.3,220.9 617.5,218.7 617.8,218.7 618.0,218.7 618.3,218.7 618.5,218.7 618.8,218.7 619.0,218.7 619.3,218.7 619.5,218.7 619.8,218.7 620.0,218.7 620.3,218.7 620.5,218.7 620.8,220.0 621.0,223.6 621.3,227.3 621.5,231.1 621.8,234.8 622.0,238.3 622.3,238.9 622.5,238.9 622.8,238.9 623.0,238.9 623.3,238.9 623.5,238.9 623.8,238.9 624.0,238.9 624.3,238.9 624.5,238.9 624.8,238.9 625.0,238.9 625.3,238.9 625.5,235.6 625.8,231.9 626.0,228.1 626.3,224.3 626.6,220.6 626.8,218.6 627.1,218.6 627.3,218.6 627.6,218.6 627.8,218.6 628.1,218.6 628.3,218.6 628.6,218.6 628.8,218.6 629.1,218.6 629.3,218.6 629.6,218.6 629.8,218.6 630.1,220.7 630.3,224.4 630.6,228.2 630.8,232.0 631.1,235.7 631.3,238.9 631.6,238.9 631.8,238.9 632.1,238.9 632.3,238.9 632.6,238.9 632.8,238.9 633.1,238.9 633.3,238.9 633.6,238.9 633.8,238.9 634.1,238.9 634.3,238.9 634.6,237.8 634.8,234.1 635.1,230.3 635.3,226.5 635.6,222.7 635.8,219.1 636.1,218.6 636.3,218.6 636.6,218.6 636.8,218.6 637.1,218.6 637.3,218.6 637.6,218.6 637.8,218.6 638.1,218.6 638.3,218.6 638.6,218.6 638.9,218.6 639.1,219.1 639.4,222.8 639.6,226.6 639.9,230.4 640.1,234.3 640.4,237.9 640.6,238.9 640.9,238.9 641.1,238.9 641.4,238.9 641.6,238.9 641.9,238.9 642.1,238.9 642.4,238.9 642.6,238.9 642.9,238.9 643.1,238.9 643.4,238.9 643.6,238.7 643.9,235.1 644.1,231.3 644.4,227.4 644.6,223.5 644.9,219.8 645.1,218.6 645.4,218.6 645.6,218.6 645.9,218.6 646.1,218.6 646.4,218.6 646.6,218.6 646.9,218.6 647.1,218.6 647.4,218.6 647.6,218.6 647.9,218.6 648.1,218.8 648.4,222.5 648.6,226.3 648.9,230.2 649.1,234.1 649.4,237.8 649.6,238.9 649.9,238.9 650.1,238.9 650.4,238.9 650.6,238.9 650.9,238.9 651.1,238.9 651.4,238.9 651.7,238.9 651.9,238.9 652.2,238.9 652.4,238.9 652.7,238.4 652.9,234.7 653.2,230.8 653.4,226.9 653.7,223.0 653.9,219.3 654.2,218.6 654.4,218.6 654.7,218.6 654.9,218.6 655.2,218.6 655.4,218.6 655.7,218.6 655.9,218.6 656.2,218.6 656.4,218.6 656.7,218.6 656.9,218.6 657.2,219.7 657.4,223.5 657.7,227.4 657.9,231.3 658.2,235.2 658.4,238.9 658.7,239.0 658.9,239.0 659.2,239.0 659.4,239.0 659.7,239.0 659.9,239.0 660.2,239.0 660.4,239.0 660.7,239.0 660.9,239.0 661.2,239.0 661.4,239.0 661.7,236.9 661.9,233.1 662.2,229.1 662.4,225.1 662.7,221.3 662.9,218.5 663.2,218.5 663.4,218.5 663.7,218.5 664.0,218.5 664.2,218.5 664.5,218.5 664.7,218.5 665.0,218.5 665.2,218.5 665.5,218.5 665.7,218.5 666.0,218.5 666.2,221.9 666.5,225.8 666.7,229.8 667.0,233.8 667.2,237.6 667.5,239.0 667.7,239.0 668.0,239.0 668.2,239.0 668.5,239.0 668.7,239.0 669.0,239.0 669.2,239.0 669.5,239.0 669.7,239.0 670.0,239.0 670.2,239.0 670.5,237.8 670.7,234.0 671.0,230.0 671.2,226.0 671.5,222.1 671.7,218.5 672.0,218.5 672.2,218.5 672.5,218.5 672.7,218.5 673.0,218.5 673.2,218.5 673.5,218.5 673.7,218.5 674.0,218.5 674.2,218.5 674.5,218.5 674.7,218.5 675.0,221.5 675.2,225.5 675.5,229.5 675.7,233.5 676.0,237.4 676.2,239.0 676.5,239.0" fill="none" stroke="#ff0000" stroke-width="0.8"/>
<polyline points="425.5,228.9 428.6,232.3 431.8,220.4 434.9,219.4 438.1,238.5 441.2,233.7 444.3,219.2 447.5,230.3 450.6,238.5 453.7,220.5 456.9,219.0 460.0,238.5 463.1,238.5 466.3,219.0 469.4,223.7 472.6,238.5 475.7,224.8 478.8,219.0 482.0,238.6 485.1,238.6 488.2,219.0 491.4,224.7 494.5,238.6 497.7,221.7 500.8,219.0 503.9,238.6 507.1,237.1 510.2,219.0 513.4,233.2 516.5,238.6 519.6,218.9 522.8,220.1 525.9,238.7 529.0,223.3 532.2,218.9 535.3,238.7 538.5,234.2 541.6,218.9 544.7,238.7 547.9,238.7 551.0,218.9 554.1,230.7 557.3,238.7 560.4,218.8 563.5,223.4 566.7,238.8 569.8,218.8 573.0,218.8 576.1,238.8 579.2,220.7 582.4,218.8 585.5,238.8 588.6,224.1 591.8,218.7 594.9,238.8 598.1,226.3 601.2,218.7 604.3,238.8 607.5,227.0 610.6,218.7 613.8,238.9 616.9,226.4 620.0,218.7 623.2,238.9 626.3,224.3 629.4,218.6 632.6,238.9 635.7,220.9 638.9,218.6 642.0,238.9 645.1,218.6 648.3,220.6 651.4,238.9 654.5,218.6 657.7,227.4 660.8,239.0 664.0,218.5 667.1,235.7 670.2,239.0 673.4,218.5 676.5,239.0" fill="none" stroke="none" marker-start="url(#cirf)" marker-mid="url(#cirf)" marker-end="url(#cirf)"/>
<polyline points="425.5,228.9 426.9,227.3 428.3,227.3 429.6,229.5 431.0,232.8 432.4,234.9 433.8,233.1 435.2,228.2 436.5,222.4 437.9,219.1 439.3,221.4 440.7,228.2 442.1,236.0 443.4,240.7 444.8,238.8 446.2,231.3 447.6,222.2 449.0,216.5 450.3,217.7 451.7,225.3 453.1,235.4 454.5,242.2 455.9,241.7 457.3,234.0 458.6,223.1 460.0,215.2 461.4,215.1 462.8,223.0 464.2,234.7 465.5,243.3 466.9,243.8 468.3,235.8 469.7,223.7 471.1,214.5 472.4,213.7 473.8,222.0 475.2,234.6 476.6,244.1 478.0,244.9 479.3,236.1 480.7,223.0 482.1,213.2 483.5,212.9 484.9,222.3 486.2,236.0 487.6,245.6 489.0,245.3 490.4,235.1 491.8,221.2 493.1,212.1 494.5,213.5 495.9,224.7 497.3,239.0 498.7,247.5 500.0,244.7 501.4,232.4 502.8,218.2 504.2,210.9 505.6,215.1 506.9,228.4 508.3,242.6 509.7,248.7 511.1,242.8 512.5,228.5 513.9,214.7 515.2,210.1 516.6,217.9 518.0,233.1 519.4,246.1 520.8,248.4 522.1,238.5 523.5,222.5 524.9,210.7 526.3,211.0 527.7,223.2 529.0,239.5 530.4,249.2 531.8,245.8 533.2,231.3 534.6,215.3 535.9,208.4 537.3,215.3 538.7,231.7 540.1,246.5 541.5,249.7 542.8,239.1 544.2,221.5 545.6,209.0 547.0,210.1 548.4,224.3 549.7,241.9 551.1,250.9 552.5,244.7 553.9,227.7 555.3,211.7 556.6,207.7 558.0,218.5 559.4,236.5 560.8,249.1 562.2,247.3 563.5,232.5 564.9,215.1 566.3,207.4 567.7,214.9 569.1,232.2 570.5,247.0 571.8,248.6 573.2,235.8 574.6,217.9 576.0,207.9 577.4,213.1 578.7,229.8 580.1,245.7 581.5,248.7 582.9,236.7 584.3,218.6 585.6,208.2 587.0,213.2 588.4,230.0 589.8,245.7 591.2,248.3 592.5,235.9 593.9,218.2 595.3,208.8 596.7,214.8 598.1,231.6 599.4,246.1 600.8,247.0 602.2,233.7 603.6,216.6 605.0,209.2 606.3,217.2 607.7,233.9 609.1,246.2 610.5,244.4 611.9,230.0 613.2,214.7 614.6,210.7 616.0,220.8 617.4,236.9 618.8,245.9 620.2,240.6 621.5,225.4 622.9,212.9 624.3,212.9 625.7,225.4 627.1,239.8 628.4,244.3 629.8,235.5 631.2,220.7 632.6,212.2 634.0,216.9 635.3,230.8 636.7,242.1 638.1,241.5 639.5,229.7 640.9,216.8 642.2,213.7 643.6,222.8 645.0,236.4 646.4,242.8 647.8,236.8 649.1,223.6 650.5,214.5 651.9,217.4 653.3,229.5 654.7,240.5 656.0,240.8 657.4,230.2 658.8,218.0 660.2,214.9 661.6,223.6 662.9,236.4 664.3,241.9 665.7,235.5 667.1,222.9 668.5,215.4 669.8,219.5 671.2,231.6 672.6,240.8 674.0,238.9 675.4,227.6" fill="none" stroke="#00ff00" stroke-width="2.9" stroke-linejoin="round"/>
<polyline points="425.5,228.9 425.8,228.9 426.0,228.9 426.3,228.9 426.5,228.9 426.8,228.8 427.0,228.7 427.3,228.6 427.5,228.5 427.8,228.4 428.0,228.4 428.3,228.4 428.5,228.4 428.8,228.5 429.0,228.6 429.3,228.8 429.5,229.0 429.8,229.2 430.0,229.5 430.3,229.8 430.5,230.1 430.8,230.4 431.0,230.7 431.3,231.0 431.5,231.2 431.8,231.5 432.0,231.6 432.3,231.8 432.5,231.8 432.8,231.8 433.0,231.7 433.3,231.6 433.5,231.3 433.8,231.0 434.0,230.6 434.3,230.2 434.5,229.6 434.8,229.0 435.0,228.4 435.3,227.7 435.5,227.0 435.8,226.3 436.0,225.6 436.3,224.9 436.5,224.2 436.8,223.6 437.0,223.0 437.3,222.6 437.5,222.2 437.8,221.9 438.1,221.8 438.3,221.9 438.6,222.1 438.8,222.5 439.1,222.9 439.3,223.5 439.6,224.1 439.8,224.9 440.1,225.7 440.3,226.5 440.6,227.4 440.8,228.3 441.1,229.2 441.3,230.1 441.6,230.9 441.8,231.7 442.1,232.5 442.3,233.1 442.6,233.7 442.8,234.2 443.1,234.5 443.3,234.8 443.6,234.9 443.8,234.9 444.1,234.7 444.3,234.5 444.6,234.1 444.8,233.6 445.1,233.0 445.3,232.3 445.6,231.5 445.8,230.7 446.1,229.8 446.3,228.9 446.6,228.0 446.8,227.0 447.1,226.1 447.3,225.2 447.6,224.4 447.8,223.6 448.1,223.0 448.3,222.4 448.6,221.9 448.8,221.5 449.1,221.3 449.3,221.2 449.6,221.2 449.8,221.4 450.1,221.7 450.3,222.1 450.6,222.6 450.9,223.3 451.1,224.0 451.4,224.8 451.6,225.7 451.9,226.6 452.1,227.6 452.4,228.5 452.6,229.5 452.9,230.4 453.1,231.3 453.4,232.1 453.6,232.8 453.9,233.5 454.1,234.0 454.4,234.4 454.6,234.7 454.9,234.9 455.1,235.0 455.4,234.9 455.6,234.6 455.9,234.3 456.1,233.8 456.4,233.2 456.6,232.5 456.9,231.7 457.1,230.9 457.4,230.0 457.6,229.0 457.9,228.1 458.1,227.1 458.4,226.1 458.6,225.2 458.9,224.4 459.1,223.6 459.4,222.9 459.6,222.3 459.9,221.8 460.1,221.4 460.4,221.2 460.6,221.1 460.9,221.1 461.1,221.3 461.4,221.6 461.6,222.0 461.9,222.6 462.1,223.2 462.4,224.0 462.6,224.8 462.9,225.7 463.1,226.7 463.4,227.6 463.7,228.6 463.9,229.6 464.2,230.5 464.4,231.4 464.7,232.3 464.9,233.0 465.2,233.6 465.4,234.2 465.7,234.6 465.9,234.9 466.2,235.0 466.4,235.0 466.7,234.9 466.9,234.6 467.2,234.2 467.4,233.7 467.7,233.0 467.9,232.3 468.2,231.4 468.4,230.5 468.7,229.6 468.9,228.6 469.2,227.6 469.4,226.6 469.7,225.7 469.9,224.7 470.2,223.9 470.4,223.1 470.7,222.5 470.9,221.9 471.2,221.5 471.4,221.2 471.7,221.0 471.9,221.0 472.2,221.1 472.4,221.4 472.7,221.8 472.9,222.3 473.2,222.9 473.4,223.7 473.7,224.5 473.9,225.4 474.2,226.4 474.4,227.4 474.7,228.4 474.9,229.4 475.2,230.4 475.4,231.3 475.7,232.2 476.0,232.9 476.2,233.6 476.5,234.2 476.7,234.6 477.0,234.9 477.2,235.1 477.5,235.1 477.7,235.0 478.0,234.7 478.2,234.3 478.5,233.7 478.7,233.1 479.0,232.3 479.2,231.4 479.5,230.5 479.7,229.5 480.0,228.5 480.2,227.5 480.5,226.5 480.7,225.5 481.0,224.6 481.2,223.7 481.5,223.0 481.7,222.3 482.0,221.7 482.2,221.3 482.5,221.0 482.7,220.9 483.0,220.9 483.2,221.1 483.5,221.4 483.7,221.8 484.0,222.4 484.2,223.1 484.5,223.9 484.7,224.8 485.0,225.7 485.2,226.7 485.5,227.8 485.7,228.8 486.0,229.8 486.2,230.8 486.5,231.7 486.7,232.6 487.0,233.3 487.2,234.0 487.5,234.5 487.7,234.9 488.0,235.1 488.2,235.2 488.5,235.1 488.8,234.9 489.0,234.5 489.3,234.0 489.5,233.4 489.8,232.6 490.0,231.8 490.3,230.9 490.5,229.9 490.8,228.9 491.0,227.8 491.3,226.8 491.5,225.7 491.8,224.8 492.0,223.9 492.3,223.1 492.5,222.4 492.8,221.8 493.0,221.3 493.3,221.0 493.5,220.8 493.8,220.8 494.0,221.0 494.3,221.3 494.5,221.7 494.8,222.3 495.0,223.0 495.3,223.8 495.5,224.7 495.8,225.7 496.0,226.7 496.3,227.7 496.5,228.8 496.8,229.8 497.0,230.9 497.3,231.8 497.5,232.7 497.8,233.4 498.0,234.1 498.3,234.6 498.5,235.0 498.8,235.2 499.0,235.2 499.3,235.1 499.5,234.9 499.8,234.5 500.0,234.0 500.3,233.3 500.5,232.5 500.8,231.6 501.1,230.7 501.3,229.7 501.6,228.6 501.8,227.5 502.1,226.5 502.3,225.5 502.6,224.5 502.8,223.6 503.1,222.8 503.3,222.1 503.6,221.6 503.8,221.1 504.1,220.9 504.3,220.7 504.6,220.8 504.8,221.0 505.1,221.3 505.3,221.8 505.6,222.4 505.8,223.2 506.1,224.0 506.3,224.9 506.6,225.9 506.8,227.0 507.1,228.1 507.3,229.1 507.6,230.2 507.8,231.2 508.1,232.1 508.3,233.0 508.6,233.7 508.8,234.3 509.1,234.8 509.3,235.1 509.6,235.3 509.8,235.3 510.1,235.2 510.3,234.9 510.6,234.4 510.8,233.8 511.1,233.1 511.3,232.2 511.6,231.3 511.8,230.3 512.1,229.2 512.3,228.2 512.6,227.1 512.8,226.0 513.1,225.0 513.4,224.0 513.6,223.1 513.9,222.4 514.1,221.7 514.4,221.2 514.6,220.9 514.9,220.7 515.1,220.6 515.4,220.8 515.6,221.1 515.9,221.5 516.1,222.1 516.4,222.8 516.6,223.6 516.9,224.6 517.1,225.6 517.4,226.6 517.6,227.7 517.9,228.8 518.1,229.9 518.4,231.0 518.6,231.9 518.9,232.8 519.1,233.6 519.4,234.3 519.6,234.8 519.9,235.2 520.1,235.4 520.4,235.4 520.6,235.3 520.9,235.0 521.1,234.5 521.4,233.9 521.6,233.2 521.9,232.4 522.1,231.4 522.4,230.4 522.6,229.3 522.9,228.2 523.1,227.1 523.4,226.0 523.6,224.9 523.9,224.0 524.1,223.1 524.4,222.3 524.6,221.6 524.9,221.1 525.1,220.8 525.4,220.6 525.6,220.6 525.9,220.7 526.2,221.0 526.4,221.5 526.7,222.1 526.9,222.9 527.2,223.8 527.4,224.7 527.7,225.8 527.9,226.9 528.2,228.0 528.4,229.1 528.7,230.2 528.9,231.3 529.2,232.3 529.4,233.2 529.7,233.9 529.9,234.5 530.2,235.0 530.4,235.3 530.7,235.5 530.9,235.5 531.2,235.3 531.4,234.9 531.7,234.4 531.9,233.7 532.2,232.9 532.4,232.0 532.7,231.0 532.9,229.9 533.2,228.8 533.4,227.6 533.7,226.5 533.9,225.4 534.2,224.3 534.4,223.4 534.7,222.5 534.9,221.8 535.2,221.2 535.4,220.8 535.7,220.6 535.9,220.5 536.2,220.6 536.4,220.8 536.7,221.3 536.9,221.9 537.2,222.6 537.4,223.5 537.7,224.4 537.9,225.5 538.2,226.6 538.5,227.7 538.7,228.9 539.0,230.0 539.2,231.1 539.5,232.1 539.7,233.1 540.0,233.9 540.2,234.5 540.5,235.0 540.7,235.4 541.0,235.6 541.2,235.5 541.5,235.4 541.7,235.0 542.0,234.5 542.2,233.8 542.5,233.0 542.7,232.0 543.0,231.0 543.2,229.9 543.5,228.7 543.7,227.6 544.0,226.4 544.2,225.3 544.5,224.2 544.7,223.3 545.0,222.4 545.2,221.7 545.5,221.1 545.7,220.7 546.0,220.4 546.2,220.4 546.5,220.5 546.7,220.8 547.0,221.3 547.2,221.9 547.5,222.7 547.7,223.6 548.0,224.6 548.2,225.7 548.5,226.9 548.7,228.1 549.0,229.2 549.2,230.4 549.5,231.5 549.7,232.5 550.0,233.4 550.2,234.2 550.5,234.8 550.7,235.3 551.0,235.5 551.3,235.7 551.5,235.6 551.8,235.4 552.0,234.9 552.3,234.3 552.5,233.6 552.8,232.7 553.0,231.6 553.3,230.5 553.5,229.4 553.8,228.1 554.0,226.9 554.3,225.7 554.5,224.6 554.8,223.5 555.0,222.5 555.3,221.7 555.5,221.0 555.8,220.5 556.0,220.1 556.3,220.0 556.5,220.0 556.8,220.3 557.0,220.7 557.3,221.3 557.5,222.1 557.8,223.0 558.0,224.1 558.3,225.3 558.5,226.5 558.8,227.8 559.0,229.1 559.3,230.3 559.5,231.5 559.8,232.7 560.0,233.7 560.3,234.6 560.5,235.3 560.8,235.9 561.0,236.2 561.3,236.4 561.5,236.3 561.8,236.1 562.0,235.6 562.3,235.0 562.5,234.1 562.8,233.1 563.0,232.0 563.3,230.8 563.5,229.5 563.8,228.2 564.1,226.8 564.3,225.5 564.6,224.2 564.8,223.0 565.1,222.0 565.3,221.0 565.6,220.3 565.8,219.7 566.1,219.4 566.3,219.3 566.6,219.3 566.8,219.6 567.1,220.1 567.3,220.9 567.6,221.7 567.8,222.8 568.1,224.0 568.3,225.3 568.6,226.7 568.8,228.1 569.1,229.5 569.3,230.9 569.6,232.2 569.8,233.4 570.1,234.5 570.3,235.4 570.6,236.2 570.8,236.7 571.1,237.0 571.3,237.1 571.6,237.0 571.8,236.6 572.1,236.0 572.3,235.2 572.6,234.2 572.8,233.1 573.1,231.8 573.3,230.4 573.6,229.0 573.8,227.5 574.1,226.0 574.3,224.6 574.6,223.2 574.8,222.0 575.1,220.9 575.3,220.0 575.6,219.3 575.8,218.8 576.1,218.6 576.4,218.6 576.6,218.8 576.9,219.3 577.1,220.0 577.4,220.9 577.6,222.0 577.9,223.3 578.1,224.7 578.4,226.2 578.6,227.8 578.9,229.3 579.1,230.9 579.4,232.3 579.6,233.7 579.9,234.9 580.1,235.9 580.4,236.8 580.6,237.4 580.9,237.7 581.1,237.8 581.4,237.6 581.6,237.2 581.9,236.6 582.1,235.7 582.4,234.6 582.6,233.3 582.9,231.8 583.1,230.3 583.4,228.7 583.6,227.1 583.9,225.5 584.1,223.9 584.4,222.5 584.6,221.2 584.9,220.0 585.1,219.1 585.4,218.4 585.6,218.0 585.9,217.8 586.1,218.0 586.4,218.3 586.6,219.0 586.9,219.9 587.1,221.0 587.4,222.3 587.6,223.7 587.9,225.3 588.1,227.0 588.4,228.7 588.6,230.3 588.9,232.0 589.2,233.5 589.4,234.9 589.7,236.1 589.9,237.1 590.2,237.8 590.4,238.3 590.7,238.5 590.9,238.4 591.2,238.0 591.4,237.4 591.7,236.5 591.9,235.4 592.2,234.1 592.4,232.5 592.7,230.9 592.9,229.2 593.2,227.4 593.4,225.7 593.7,224.0 593.9,222.4 594.2,221.0 594.4,219.7 594.7,218.7 594.9,217.9 595.2,217.4 595.4,217.2 595.7,217.2 595.9,217.6 596.2,218.3 596.4,219.2 596.7,220.4 596.9,221.8 597.2,223.3 597.4,225.0 597.7,226.8 597.9,228.6 598.2,230.4 598.4,232.2 598.7,233.8 598.9,235.3 599.2,236.6 599.4,237.7 599.7,238.5 599.9,239.0 600.2,239.2 600.4,239.1 600.7,238.7 600.9,237.9 601.2,237.0 601.5,235.7 601.7,234.3 602.0,232.6 602.2,230.9 602.5,229.0 602.7,227.1 603.0,225.2 603.2,223.4 603.5,221.7 603.7,220.2 604.0,218.9 604.2,217.9 604.5,217.1 604.7,216.6 605.0,216.5 605.2,216.6 605.5,217.1 605.7,217.9 606.0,219.0 606.2,220.3 606.5,221.9 606.7,223.6 607.0,225.5 607.2,227.4 607.5,229.4 607.7,231.3 608.0,233.2 608.2,234.9 608.5,236.4 608.7,237.7 609.0,238.7 609.2,239.4 609.5,239.8 609.7,239.9 610.0,239.6 610.2,239.0 610.5,238.1 610.7,236.9 611.0,235.5 611.2,233.8 611.5,232.0 611.7,230.0 612.0,228.0 612.2,225.9 612.5,223.9 612.7,222.1 613.0,220.4 613.2,218.9 613.5,217.6 613.8,216.7 614.0,216.0 614.3,215.7 614.5,215.8 614.8,216.2 615.0,216.9 615.3,218.0 615.5,219.3 615.8,221.0 616.0,222.8 616.3,224.7 616.5,226.8 616.8,228.9 617.0,231.0 617.3,233.0 617.5,234.9 617.8,236.6 618.0,238.0 618.3,239.2 618.5,240.0 618.8,240.5 619.0,240.7 619.3,240.4 619.5,239.8 619.8,238.9 620.0,237.7 620.3,236.1 620.5,234.4 620.8,232.4 621.0,230.3 621.3,228.1 621.5,225.9 621.8,223.8 622.0,221.8 622.3,219.9 622.5,218.3 622.8,217.0 623.0,216.0 623.3,215.3 623.5,215.0 623.8,215.1 624.0,215.5 624.3,216.3 624.5,217.5 624.8,218.9 625.0,220.7 625.3,222.6 625.5,224.8 625.8,227.0 626.0,229.2 626.3,231.5 626.6,233.6 626.8,235.6 627.1,237.4 627.3,238.9 627.6,240.0 627.8,240.9 628.1,241.3 628.3,241.4 628.6,241.1 628.8,240.3 629.1,239.3 629.3,237.9 629.6,236.2 629.8,234.3 630.1,232.1 630.3,229.9 630.6,227.6 630.8,225.3 631.1,223.1 631.3,221.0 631.6,219.2 631.8,217.6 632.1,216.3 632.3,215.4 632.6,214.8 632.8,214.7 633.1,214.9 633.3,215.6 633.6,216.6 633.8,218.0 634.1,219.6 634.3,221.6 634.6,223.7 634.8,226.0 635.1,228.4 635.3,230.7 635.6,233.0 635.8,235.2 636.1,237.1 636.3,238.8 636.6,240.2 636.8,241.2 637.1,241.9 637.3,242.1 637.6,242.0 637.8,241.4 638.1,240.4 638.3,239.1 638.6,237.5 638.9,235.5 639.1,233.4 639.4,231.1 639.6,228.7 639.9,226.3 640.1,224.0 640.4,221.8 640.6,219.8 640.9,218.0 641.1,216.6 641.4,215.6 641.6,214.9 641.9,214.6 642.1,214.7 642.4,215.3 642.6,216.3 642.9,217.6 643.1,219.3 643.4,221.2 643.6,223.4 643.9,225.7 644.1,228.1 644.4,230.5 644.6,232.9 644.9,235.1 645.1,237.2 645.4,238.9 645.6,240.4 645.9,241.5 646.1,242.2 646.4,242.4 646.6,242.3 646.9,241.7 647.1,240.8 647.4,239.4 647.6,237.7 647.9,235.8 648.1,233.6 648.4,231.2 648.6,228.8 648.9,226.3 649.1,224.0 649.4,221.7 649.6,219.7 649.9,217.9 650.1,216.5 650.4,215.4 650.6,214.7 650.9,214.5 651.1,214.7 651.4,215.3 651.7,216.3 651.9,217.7 652.2,219.5 652.4,221.5 652.7,223.7 652.9,226.1 653.2,228.6 653.4,231.1 653.7,233.5 653.9,235.7 654.2,237.7 654.4,239.5 654.7,240.9 654.9,241.9 655.2,242.5 655.4,242.7 655.7,242.4 655.9,241.7 656.2,240.6 656.4,239.1 656.7,237.3 656.9,235.3 657.2,233.0 657.4,230.5 657.7,228.0 657.9,225.5 658.2,223.2 658.4,220.9 658.7,219.0 658.9,217.3 659.2,215.9 659.4,215.0 659.7,214.5 659.9,214.4 660.2,214.8 660.4,215.6 660.7,216.9 660.9,218.5 661.2,220.4 661.4,222.6 661.7,224.9 661.9,227.4 662.2,229.9 662.4,232.4 662.7,234.8 662.9,237.0 663.2,238.9 663.4,240.5 663.7,241.7 664.0,242.5 664.2,242.9 664.5,242.8 664.7,242.3 665.0,241.3 665.2,240.0 665.5,238.2 665.7,236.2 666.0,233.9 666.2,231.5 666.5,228.9 666.7,226.4 667.0,223.9 667.2,221.6 667.5,219.5 667.7,217.7 668.0,216.2 668.2,215.1 668.5,214.5 668.7,214.3 669.0,214.6 669.2,215.3 669.5,216.5 669.7,218.0 670.0,219.9 670.2,222.1 670.5,224.5 670.7,227.0 671.0,229.6 671.2,232.2 671.5,234.6 671.7,236.9 672.0,238.9 672.2,240.5 672.5,241.8 672.7,242.7 673.0,243.1 673.2,243.1 673.5,242.6 673.7,241.6 674.0,240.3 674.2,238.5 674.5,236.4 674.7,234.1 675.0,231.6 675.2,229.1 675.5,226.5 675.7,223.9 676.0,221.6 676.2,219.4 676.5,217.6" fill="none" stroke="#000" stroke-width="1.6" stroke-dasharray="5,0.8"/>
</g>
<rect x="93.5" y="4.5" width="251.0" height="105.0" fill="none" stroke="#969696" stroke-width="1"/>
<path d="M143.5 109.5V107.0M143.5 4.5V7.0M193.5 109.5V107.0M193.5 4.5V7.0M244.5 109.5V107.0M244.5 4.5V7.0M294.5 109.5V107.0M294.5 4.5V7.0M93.5 99.5H96.0M344.5 99.5H342.0M93.5 56.5H96.0M344.5 56.5H342.0M93.5 14.5H96.0M344.5 14.5H342.0" stroke="#969696" stroke-width="1" fill="none"/>
<rect x="425.5" y="4.5" width="251.0" height="105.0" fill="none" stroke="#969696" stroke-width="1"/>
<path d="M475.5 109.5V107.0M475.5 4.5V7.0M525.5 109.5V107.0M525.5 4.5V7.0M576.5 109.5V107.0M576.5 4.5V7.0M626.5 109.5V107.0M626.5 4.5V7.0M425.5 102.5H428.0M676.5 102.5H674.0M425.5 59.5H428.0M676.5 59.5H674.0M425.5 16.5H428.0M676.5 16.5H674.0" stroke="#969696" stroke-width="1" fill="none"/>
<rect x="93.5" y="176.5" width="251.0" height="105.0" fill="none" stroke="#969696" stroke-width="1"/>
<path d="M143.5 281.5V279.0M143.5 176.5V179.0M193.5 281.5V279.0M193.5 176.5V179.0M244.5 281.5V279.0M244.5 176.5V179.0M294.5 281.5V279.0M294.5 176.5V179.0M93.5 278.5H96.0M344.5 278.5H342.0M93.5 228.5H96.0M344.5 228.5H342.0M93.5 179.5H96.0M344.5 179.5H342.0" stroke="#969696" stroke-width="1" fill="none"/>
<rect x="425.5" y="176.5" width="251.0" height="105.0" fill="none" stroke="#969696" stroke-width="1"/>
<path d="M475.5 281.5V279.0M475.5 176.5V179.0M525.5 281.5V279.0M525.5 176.5V179.0M576.5 281.5V279.0M576.5 176.5V179.0M626.5 281.5V279.0M626.5 176.5V179.0M425.5 281.5H428.0M676.5 281.5H674.0M425.5 228.5H428.0M676.5 228.5H674.0M425.5 176.5H428.0M676.5 176.5H674.0" stroke="#969696" stroke-width="1" fill="none"/>
<text x="93.5" y="128.8" text-anchor="middle" class="tk">0</text>
<text x="143.7" y="128.8" text-anchor="middle" class="tk">2</text>
<text x="193.9" y="128.8" text-anchor="middle" class="tk">4</text>
<text x="244.1" y="128.8" text-anchor="middle" class="tk">6</text>
<text x="294.3" y="128.8" text-anchor="middle" class="tk">8</text>
<text x="344.5" y="128.8" text-anchor="middle" class="tk">10</text>
<text x="87.7" y="104.4" text-anchor="end" class="tk">-0.05</text>
<text x="87.7" y="61.9" text-anchor="end" class="tk">0</text>
<text x="87.7" y="19.4" text-anchor="end" class="tk">0.05</text>
<text x="206.37" y="144.50" font-style="italic" class="xl">t</text>
<text x="221.60" y="144.50" font-style="italic" class="xl">s</text>
<path d="M220.20 133.50H218.40V148.00H220.20" class="br"/>
<path d="M228.60 133.50H230.40V148.00H228.60" class="br"/>
<text x="425.5" y="128.8" text-anchor="middle" class="tk">0</text>
<text x="475.7" y="128.8" text-anchor="middle" class="tk">2</text>
<text x="525.9" y="128.8" text-anchor="middle" class="tk">4</text>
<text x="576.1" y="128.8" text-anchor="middle" class="tk">6</text>
<text x="626.3" y="128.8" text-anchor="middle" class="tk">8</text>
<text x="676.5" y="128.8" text-anchor="middle" class="tk">10</text>
<text x="419.7" y="107.5" text-anchor="end" class="tk">-0.05</text>
<text x="419.7" y="64.5" text-anchor="end" class="tk">0</text>
<text x="419.7" y="21.5" text-anchor="end" class="tk">0.05</text>
<text x="538.37" y="144.50" font-style="italic" class="xl">t</text>
<text x="553.60" y="144.50" font-style="italic" class="xl">s</text>
<path d="M552.20 133.50H550.40V148.00H552.20" class="br"/>
<path d="M560.60 133.50H562.40V148.00H560.60" class="br"/>
<text x="93.5" y="300.8" text-anchor="middle" class="tk">0</text>
<text x="143.7" y="300.8" text-anchor="middle" class="tk">2</text>
<text x="193.9" y="300.8" text-anchor="middle" class="tk">4</text>
<text x="244.1" y="300.8" text-anchor="middle" class="tk">6</text>
<text x="294.3" y="300.8" text-anchor="middle" class="tk">8</text>
<text x="344.5" y="300.8" text-anchor="middle" class="tk">10</text>
<text x="87.7" y="283.8" text-anchor="end" class="tk">-1</text>
<text x="87.7" y="234.0" text-anchor="end" class="tk">0</text>
<text x="87.7" y="184.2" text-anchor="end" class="tk">1</text>
<text x="206.37" y="316.50" font-style="italic" class="xl">t</text>
<text x="221.60" y="316.50" font-style="italic" class="xl">s</text>
<path d="M220.20 305.50H218.40V320.00H220.20" class="br"/>
<path d="M228.60 305.50H230.40V320.00H228.60" class="br"/>
<text x="425.5" y="300.8" text-anchor="middle" class="tk">0</text>
<text x="475.7" y="300.8" text-anchor="middle" class="tk">2</text>
<text x="525.9" y="300.8" text-anchor="middle" class="tk">4</text>
<text x="576.1" y="300.8" text-anchor="middle" class="tk">6</text>
<text x="626.3" y="300.8" text-anchor="middle" class="tk">8</text>
<text x="676.5" y="300.8" text-anchor="middle" class="tk">10</text>
<text x="419.7" y="286.3" text-anchor="end" class="tk">-1</text>
<text x="419.7" y="233.9" text-anchor="end" class="tk">0</text>
<text x="419.7" y="181.5" text-anchor="end" class="tk">1</text>
<text x="538.37" y="316.50" font-style="italic" class="xl">t</text>
<text x="553.60" y="316.50" font-style="italic" class="xl">s</text>
<path d="M552.20 305.50H550.40V320.00H552.20" class="br"/>
<path d="M560.60 305.50H562.40V320.00H560.60" class="br"/>
<text x="28.85" y="59.80" class="pl">(a)</text>
<text x="360.90" y="63.20" class="pl">(b)</text>
<text x="32.30" y="232.90" class="pl">(c)</text>
<text x="362.40" y="233.60" class="pl">(d)</text>
<g transform="translate(63.20 78.30) rotate(-90)">
<text transform="translate(5.50 0.00) scale(1.150 1)" x="-3.50" font-style="italic" font-size="16.5" class="yl">x</text>
<text transform="translate(13.60 3.50) scale(1.000 1)" x="-3.04" font-size="11.5" class="yl">1</text>
<path d="M28.30 -12.40H26.10V4.30H28.30" class="br"/>
<text transform="translate(35.20 0.00) scale(1.180 1)" x="-5.91" font-style="italic" font-size="16.5" class="yl">m</text>
<path d="M42.70 -12.40H44.90V4.30H42.70" class="br"/>
</g>
<g transform="translate(396.40 79.60) rotate(-90)">
<text transform="translate(4.70 0.00) scale(1.150 1)" x="-3.50" font-style="italic" font-size="16.5" class="yl">x</text>
<text transform="translate(13.30 3.50) scale(1.000 1)" x="-2.81" font-size="11.5" class="yl">2</text>
<path d="M26.90 -12.40H24.70V4.30H26.90" class="br"/>
<text transform="translate(34.90 0.00) scale(1.180 1)" x="-5.91" font-style="italic" font-size="16.5" class="yl">m</text>
<path d="M41.70 -12.40H43.90V4.30H41.70" class="br"/>
</g>
<g transform="translate(67.00 269.10) rotate(-90)">
<text transform="translate(4.20 0.00) scale(1.100 1)" x="-3.50" font-style="italic" font-size="16.5" class="yl">x</text>
<circle cx="8.00" cy="-10.30" r="0.90" class="dt"/>
<text transform="translate(13.60 3.50) scale(1.000 1)" x="-3.04" font-size="11.5" class="yl">1</text>
<path d="M29.10 -12.60H26.90V4.00H29.10" class="br"/>
<text transform="translate(37.50 0.00) scale(1.180 1)" x="-5.91" font-style="italic" font-size="16.5" class="yl">m</text>
<text transform="translate(52.75 0.00) scale(1.000 1)" x="-3.06" font-style="italic" font-size="16.5" class="yl">s</text>
<text transform="translate(62.75 -5.60) scale(1.000 1)" x="-3.25" font-size="11.5" class="yl">−</text>
<text transform="translate(70.25 -5.60) scale(1.000 1)" x="-3.04" font-size="11.5" class="yl">1</text>
<path d="M74.00 -12.60H76.20V4.00H74.00" class="br"/>
</g>
<g transform="translate(400.20 267.80) rotate(-90)">
<text transform="translate(4.20 0.00) scale(1.100 1)" x="-3.50" font-style="italic" font-size="16.5" class="yl">x</text>
<circle cx="8.00" cy="-10.30" r="0.90" class="dt"/>
<text transform="translate(12.60 3.50) scale(1.000 1)" x="-2.81" font-size="11.5" class="yl">2</text>
<path d="M28.30 -13.60H26.10V3.10H28.30" class="br"/>
<text transform="translate(37.50 0.00) scale(1.180 1)" x="-5.91" font-style="italic" font-size="16.5" class="yl">m</text>
<text transform="translate(52.75 0.00) scale(1.000 1)" x="-3.06" font-style="italic" font-size="16.5" class="yl">s</text>
<text transform="translate(62.75 -5.60) scale(1.000 1)" x="-3.25" font-size="11.5" class="yl">−</text>
<text transform="translate(70.25 -5.60) scale(1.000 1)" x="-3.04" font-size="11.5" class="yl">1</text>
<path d="M73.40 -13.60H75.60V3.10H73.40" class="br"/>
</g>
<rect x="1.5" y="112.5" width="81.5" height="58.5" fill="#fff" stroke="#969696" stroke-width="1"/>
<path d="M3 120.5H22.8" stroke="#0000ff" stroke-width="1"/>
<path d="M12.9 117.3L14.8 120.5L12.9 123.7L11 120.5Z" fill="none" stroke="#0000ff" stroke-width="1"/>
<text x="25" y="123.6" class="lg">LQR<tspan font-size="9.6" dy="1.8">low</tspan></text>
<path d="M3 134.9H22.8" stroke="#ff0000" stroke-width="1"/>
<circle cx="12.9" cy="134.9" r="2" fill="none" stroke="#ff0000" stroke-width="1"/>
<text x="25" y="137.3" class="lg">LQR<tspan font-size="9.6" dy="1.8">high</tspan></text>
<path d="M3 149.1H22.8" stroke="#00ff00" stroke-width="1"/>
<circle cx="12.9" cy="149.1" r="1.3" fill="#00d000"/>
<text x="25" y="151.9" class="lg">Passive<tspan font-size="9.6" dy="1.8">opt</tspan></text>
<path d="M3 163.5H23" stroke="#000" stroke-width="1.1" stroke-dasharray="5,0.9,2,1"/>
<text x="25" y="165.8" class="lg">Passive</text>
</svg>
</body></html>
